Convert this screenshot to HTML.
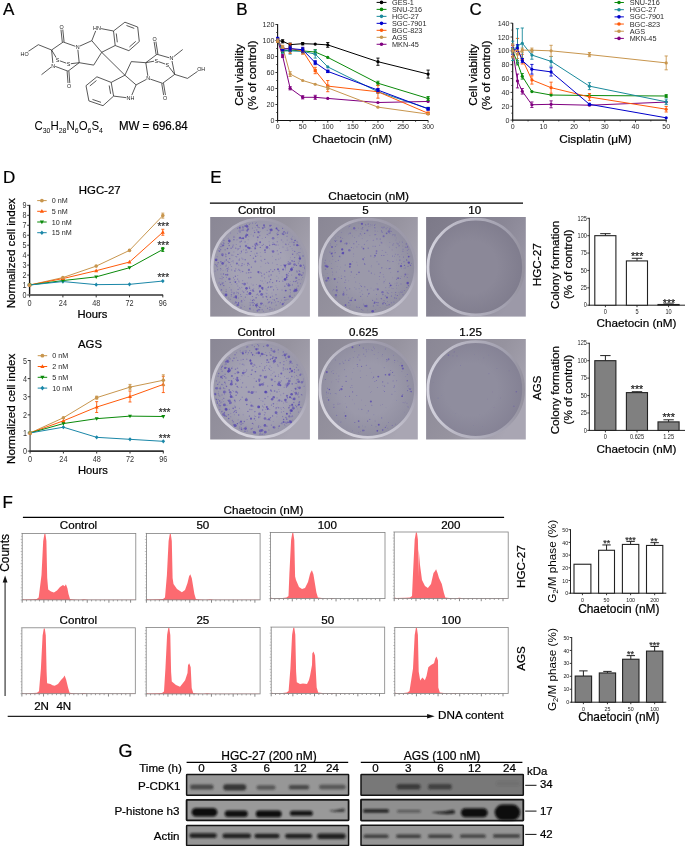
<!DOCTYPE html>
<html><head><meta charset="utf-8"><style>
html,body{margin:0;padding:0;background:#fff;}
svg{display:block;will-change:transform;}
</style></head><body>
<svg width="685" height="846" viewBox="0 0 685 846" font-family='"Liberation Sans", sans-serif'>
<rect width="685" height="846" fill="#fff"/>
<text x="3.00" y="15.00" font-size="17" text-anchor="start" fill="#000" stroke="#000" stroke-width="0.22" >A</text>
<text x="236.20" y="15.00" font-size="17" text-anchor="start" fill="#000" stroke="#000" stroke-width="0.22" >B</text>
<text x="469.50" y="14.50" font-size="17" text-anchor="start" fill="#000" stroke="#000" stroke-width="0.22" >C</text>
<text x="3.00" y="182.60" font-size="17" text-anchor="start" fill="#000" stroke="#000" stroke-width="0.22" >D</text>
<text x="210.30" y="182.80" font-size="17" text-anchor="start" fill="#000" stroke="#000" stroke-width="0.22" >E</text>
<text x="2.50" y="508.00" font-size="17" text-anchor="start" fill="#000" stroke="#000" stroke-width="0.22" >F</text>
<text x="118.60" y="756.80" font-size="18" text-anchor="start" fill="#000" stroke="#000" stroke-width="0.22" >G</text>
<line x1="27.51" y1="51.95" x2="38.30" y2="44.70" stroke="#222" stroke-width="0.75" />
<line x1="38.30" y1="44.70" x2="51.60" y2="50.00" stroke="#222" stroke-width="0.75" />
<line x1="51.60" y1="50.00" x2="63.20" y2="42.00" stroke="#222" stroke-width="0.75" />
<line x1="63.20" y1="42.00" x2="75.71" y2="46.43" stroke="#222" stroke-width="0.75" />
<line x1="79.42" y1="46.28" x2="91.80" y2="40.70" stroke="#222" stroke-width="0.75" />
<line x1="91.80" y1="40.70" x2="95.72" y2="30.78" stroke="#222" stroke-width="0.75" />
<line x1="100.04" y1="28.41" x2="113.50" y2="31.00" stroke="#222" stroke-width="0.75" />
<line x1="115.20" y1="45.50" x2="101.70" y2="52.30" stroke="#222" stroke-width="0.75" />
<line x1="101.70" y1="52.30" x2="91.80" y2="40.70" stroke="#222" stroke-width="0.75" />
<line x1="101.70" y1="52.30" x2="93.70" y2="65.10" stroke="#222" stroke-width="0.75" />
<line x1="93.70" y1="65.10" x2="79.20" y2="62.70" stroke="#222" stroke-width="0.75" />
<line x1="79.20" y1="62.70" x2="77.80" y2="49.09" stroke="#222" stroke-width="0.75" />
<line x1="79.20" y1="62.70" x2="70.49" y2="63.76" stroke="#222" stroke-width="0.75" />
<line x1="66.62" y1="63.31" x2="59.48" y2="60.69" stroke="#222" stroke-width="0.75" />
<line x1="56.57" y1="58.29" x2="51.60" y2="50.00" stroke="#222" stroke-width="0.75" />
<line x1="51.60" y1="50.00" x2="52.91" y2="63.61" stroke="#222" stroke-width="0.75" />
<line x1="51.53" y1="66.83" x2="41.50" y2="74.70" stroke="#222" stroke-width="0.75" />
<line x1="54.97" y1="66.30" x2="68.00" y2="71.20" stroke="#222" stroke-width="0.75" />
<line x1="68.00" y1="71.20" x2="79.20" y2="62.70" stroke="#222" stroke-width="0.75" />
<line x1="101.70" y1="52.30" x2="124.90" y2="75.20" stroke="#222" stroke-width="0.75" />
<line x1="113.50" y1="31.00" x2="124.90" y2="22.20" stroke="#222" stroke-width="0.75" />
<line x1="124.90" y1="22.20" x2="137.70" y2="27.00" stroke="#222" stroke-width="0.75" />
<line x1="137.70" y1="27.00" x2="139.30" y2="41.50" stroke="#222" stroke-width="0.75" />
<line x1="139.30" y1="41.50" x2="128.90" y2="50.70" stroke="#222" stroke-width="0.75" />
<line x1="128.90" y1="50.70" x2="115.20" y2="45.50" stroke="#222" stroke-width="0.75" />
<line x1="115.20" y1="45.50" x2="113.50" y2="31.00" stroke="#222" stroke-width="0.75" />
<line x1="124.90" y1="75.20" x2="131.30" y2="61.60" stroke="#222" stroke-width="0.75" />
<line x1="131.30" y1="61.60" x2="145.80" y2="62.70" stroke="#222" stroke-width="0.75" />
<line x1="145.80" y1="62.70" x2="147.90" y2="76.42" stroke="#222" stroke-width="0.75" />
<line x1="146.44" y1="79.35" x2="136.10" y2="84.90" stroke="#222" stroke-width="0.75" />
<line x1="136.10" y1="84.90" x2="124.90" y2="75.20" stroke="#222" stroke-width="0.75" />
<line x1="136.10" y1="84.90" x2="131.74" y2="95.25" stroke="#222" stroke-width="0.75" />
<line x1="127.32" y1="97.81" x2="113.60" y2="96.10" stroke="#222" stroke-width="0.75" />
<line x1="111.20" y1="82.40" x2="124.90" y2="75.20" stroke="#222" stroke-width="0.75" />
<line x1="113.60" y1="96.10" x2="111.20" y2="82.40" stroke="#222" stroke-width="0.75" />
<line x1="111.20" y1="82.40" x2="96.90" y2="76.80" stroke="#222" stroke-width="0.75" />
<line x1="96.90" y1="76.80" x2="86.00" y2="85.70" stroke="#222" stroke-width="0.75" />
<line x1="86.00" y1="85.70" x2="88.90" y2="100.90" stroke="#222" stroke-width="0.75" />
<line x1="88.90" y1="100.90" x2="103.00" y2="105.70" stroke="#222" stroke-width="0.75" />
<line x1="103.00" y1="105.70" x2="113.60" y2="96.10" stroke="#222" stroke-width="0.75" />
<line x1="150.09" y1="79.04" x2="162.60" y2="83.30" stroke="#222" stroke-width="0.75" />
<line x1="162.60" y1="83.30" x2="174.70" y2="74.40" stroke="#222" stroke-width="0.75" />
<line x1="174.70" y1="74.40" x2="187.50" y2="78.40" stroke="#222" stroke-width="0.75" />
<line x1="187.50" y1="78.40" x2="198.33" y2="70.81" stroke="#222" stroke-width="0.75" />
<line x1="174.70" y1="74.40" x2="171.89" y2="60.36" stroke="#222" stroke-width="0.75" />
<line x1="173.07" y1="57.16" x2="182.70" y2="49.50" stroke="#222" stroke-width="0.75" />
<line x1="169.58" y1="57.86" x2="157.00" y2="54.30" stroke="#222" stroke-width="0.75" />
<line x1="157.00" y1="54.30" x2="145.80" y2="62.70" stroke="#222" stroke-width="0.75" />
<line x1="145.80" y1="62.70" x2="154.23" y2="61.16" stroke="#222" stroke-width="0.75" />
<line x1="158.08" y1="61.47" x2="165.52" y2="64.13" stroke="#222" stroke-width="0.75" />
<line x1="168.61" y1="66.39" x2="174.70" y2="74.40" stroke="#222" stroke-width="0.75" />
<line x1="64.09" y1="41.90" x2="62.71" y2="28.89" stroke="#222" stroke-width="0.75" />
<line x1="62.31" y1="42.10" x2="60.92" y2="29.08" stroke="#222" stroke-width="0.75" />
<line x1="67.10" y1="71.27" x2="68.05" y2="83.77" stroke="#222" stroke-width="0.75" />
<line x1="68.90" y1="71.13" x2="69.85" y2="83.64" stroke="#222" stroke-width="0.75" />
<line x1="161.71" y1="83.45" x2="163.78" y2="95.88" stroke="#222" stroke-width="0.75" />
<line x1="163.49" y1="83.15" x2="165.56" y2="95.58" stroke="#222" stroke-width="0.75" />
<line x1="157.89" y1="54.16" x2="155.80" y2="40.94" stroke="#222" stroke-width="0.75" />
<line x1="156.11" y1="54.44" x2="154.02" y2="41.22" stroke="#222" stroke-width="0.75" />
<line x1="116.28" y1="33.46" x2="117.31" y2="42.27" stroke="#222" stroke-width="0.75" />
<line x1="126.47" y1="25.48" x2="134.25" y2="28.40" stroke="#222" stroke-width="0.75" />
<line x1="135.76" y1="41.35" x2="129.44" y2="46.94" stroke="#222" stroke-width="0.75" />
<line x1="110.64" y1="93.82" x2="109.18" y2="85.49" stroke="#222" stroke-width="0.75" />
<line x1="96.46" y1="80.55" x2="89.83" y2="85.96" stroke="#222" stroke-width="0.75" />
<line x1="92.46" y1="99.43" x2="101.03" y2="102.35" stroke="#222" stroke-width="0.75" />
<rect x="59.50" y="24.40" width="4.20" height="5.2" fill="#fff"/>
<text x="61.60" y="29.00" font-size="5.4" text-anchor="middle" fill="#222" >O</text>
<rect x="75.50" y="44.50" width="4.20" height="5.2" fill="#fff"/>
<text x="77.60" y="49.10" font-size="5.4" text-anchor="middle" fill="#222" >N</text>
<rect x="92.70" y="25.20" width="8.40" height="5.2" fill="#fff"/>
<text x="96.90" y="29.80" font-size="5.4" text-anchor="middle" fill="#222" >HN</text>
<rect x="20.40" y="51.30" width="8.40" height="5.2" fill="#fff"/>
<text x="24.60" y="55.90" font-size="5.4" text-anchor="middle" fill="#222" >HO</text>
<rect x="55.50" y="57.40" width="4.20" height="5.2" fill="#fff"/>
<text x="57.60" y="62.00" font-size="5.4" text-anchor="middle" fill="#222" >S</text>
<rect x="66.40" y="61.40" width="4.20" height="5.2" fill="#fff"/>
<text x="68.50" y="66.00" font-size="5.4" text-anchor="middle" fill="#222" >S</text>
<rect x="51.00" y="63.00" width="4.20" height="5.2" fill="#fff"/>
<text x="53.10" y="67.60" font-size="5.4" text-anchor="middle" fill="#222" >N</text>
<rect x="67.00" y="83.10" width="4.20" height="5.2" fill="#fff"/>
<text x="69.10" y="87.70" font-size="5.4" text-anchor="middle" fill="#222" >O</text>
<rect x="146.10" y="75.80" width="4.20" height="5.2" fill="#fff"/>
<text x="148.20" y="80.40" font-size="5.4" text-anchor="middle" fill="#222" >N</text>
<rect x="126.30" y="95.60" width="8.40" height="5.2" fill="#fff"/>
<text x="130.50" y="100.20" font-size="5.4" text-anchor="middle" fill="#222" >NH</text>
<rect x="162.90" y="95.10" width="4.20" height="5.2" fill="#fff"/>
<text x="165.00" y="99.70" font-size="5.4" text-anchor="middle" fill="#222" >O</text>
<rect x="197.00" y="66.20" width="8.40" height="5.2" fill="#fff"/>
<text x="201.20" y="70.80" font-size="5.4" text-anchor="middle" fill="#222" >OH</text>
<rect x="169.40" y="55.80" width="4.20" height="5.2" fill="#fff"/>
<text x="171.50" y="60.40" font-size="5.4" text-anchor="middle" fill="#222" >N</text>
<rect x="152.50" y="36.50" width="4.20" height="5.2" fill="#fff"/>
<text x="154.60" y="41.10" font-size="5.4" text-anchor="middle" fill="#222" >O</text>
<rect x="154.10" y="58.20" width="4.20" height="5.2" fill="#fff"/>
<text x="156.20" y="62.80" font-size="5.4" text-anchor="middle" fill="#222" >S</text>
<rect x="165.30" y="62.20" width="4.20" height="5.2" fill="#fff"/>
<text x="167.40" y="66.80" font-size="5.4" text-anchor="middle" fill="#222" >S</text>
<text x="34.5" y="130.4" font-size="12.4" fill="#000" textLength="68.4" lengthAdjust="spacingAndGlyphs">C<tspan font-size="7.5" dy="2.6">30</tspan><tspan dy="-2.6">H</tspan><tspan font-size="7.5" dy="2.6">28</tspan><tspan dy="-2.6">N</tspan><tspan font-size="7.5" dy="2.6">6</tspan><tspan dy="-2.6">O</tspan><tspan font-size="7.5" dy="2.6">6</tspan><tspan dy="-2.6">S</tspan><tspan font-size="7.5" dy="2.6">4</tspan></text>
<text x="119.00" y="130.40" font-size="12.6" text-anchor="start" fill="#000" stroke="#000" stroke-width="0.22" textLength="68.7" lengthAdjust="spacingAndGlyphs">MW = 696.84</text>
<line x1="277.60" y1="24.00" x2="277.60" y2="121.00" stroke="#111" stroke-width="1.1" />
<line x1="277.10" y1="120.50" x2="428.20" y2="120.50" stroke="#111" stroke-width="1.1" />
<line x1="275.40" y1="120.50" x2="277.60" y2="120.50" stroke="#222" stroke-width="0.9" />
<text x="274.40" y="123.06" font-size="7.1" text-anchor="end" fill="#2a2a2a" >0</text>
<line x1="275.40" y1="104.50" x2="277.60" y2="104.50" stroke="#222" stroke-width="0.9" />
<text x="274.40" y="107.06" font-size="7.1" text-anchor="end" fill="#2a2a2a" >20</text>
<line x1="275.40" y1="88.50" x2="277.60" y2="88.50" stroke="#222" stroke-width="0.9" />
<text x="274.40" y="91.06" font-size="7.1" text-anchor="end" fill="#2a2a2a" >40</text>
<line x1="275.40" y1="72.50" x2="277.60" y2="72.50" stroke="#222" stroke-width="0.9" />
<text x="274.40" y="75.06" font-size="7.1" text-anchor="end" fill="#2a2a2a" >60</text>
<line x1="275.40" y1="56.50" x2="277.60" y2="56.50" stroke="#222" stroke-width="0.9" />
<text x="274.40" y="59.06" font-size="7.1" text-anchor="end" fill="#2a2a2a" >80</text>
<line x1="275.40" y1="40.50" x2="277.60" y2="40.50" stroke="#222" stroke-width="0.9" />
<text x="274.40" y="43.06" font-size="7.1" text-anchor="end" fill="#2a2a2a" >100</text>
<line x1="275.40" y1="24.50" x2="277.60" y2="24.50" stroke="#222" stroke-width="0.9" />
<text x="274.40" y="27.06" font-size="7.1" text-anchor="end" fill="#2a2a2a" >120</text>
<line x1="276.30" y1="112.50" x2="277.60" y2="112.50" stroke="#222" stroke-width="0.9" />
<line x1="276.30" y1="96.50" x2="277.60" y2="96.50" stroke="#222" stroke-width="0.9" />
<line x1="276.30" y1="80.50" x2="277.60" y2="80.50" stroke="#222" stroke-width="0.9" />
<line x1="276.30" y1="64.50" x2="277.60" y2="64.50" stroke="#222" stroke-width="0.9" />
<line x1="276.30" y1="48.50" x2="277.60" y2="48.50" stroke="#222" stroke-width="0.9" />
<line x1="276.30" y1="32.50" x2="277.60" y2="32.50" stroke="#222" stroke-width="0.9" />
<line x1="277.60" y1="120.50" x2="277.60" y2="122.70" stroke="#222" stroke-width="0.9" />
<text x="277.60" y="129.30" font-size="7.0" text-anchor="middle" fill="#2a2a2a" >0</text>
<line x1="302.69" y1="120.50" x2="302.69" y2="122.70" stroke="#222" stroke-width="0.9" />
<text x="302.69" y="129.30" font-size="7.0" text-anchor="middle" fill="#2a2a2a" >50</text>
<line x1="327.77" y1="120.50" x2="327.77" y2="122.70" stroke="#222" stroke-width="0.9" />
<text x="327.77" y="129.30" font-size="7.0" text-anchor="middle" fill="#2a2a2a" >100</text>
<line x1="352.86" y1="120.50" x2="352.86" y2="122.70" stroke="#222" stroke-width="0.9" />
<text x="352.86" y="129.30" font-size="7.0" text-anchor="middle" fill="#2a2a2a" >150</text>
<line x1="377.94" y1="120.50" x2="377.94" y2="122.70" stroke="#222" stroke-width="0.9" />
<text x="377.94" y="129.30" font-size="7.0" text-anchor="middle" fill="#2a2a2a" >200</text>
<line x1="403.03" y1="120.50" x2="403.03" y2="122.70" stroke="#222" stroke-width="0.9" />
<text x="403.03" y="129.30" font-size="7.0" text-anchor="middle" fill="#2a2a2a" >250</text>
<line x1="428.11" y1="120.50" x2="428.11" y2="122.70" stroke="#222" stroke-width="0.9" />
<text x="428.11" y="129.30" font-size="7.0" text-anchor="middle" fill="#2a2a2a" >300</text>
<line x1="290.14" y1="120.50" x2="290.14" y2="121.80" stroke="#222" stroke-width="0.9" />
<line x1="315.23" y1="120.50" x2="315.23" y2="121.80" stroke="#222" stroke-width="0.9" />
<line x1="340.31" y1="120.50" x2="340.31" y2="121.80" stroke="#222" stroke-width="0.9" />
<line x1="365.40" y1="120.50" x2="365.40" y2="121.80" stroke="#222" stroke-width="0.9" />
<line x1="390.48" y1="120.50" x2="390.48" y2="121.80" stroke="#222" stroke-width="0.9" />
<line x1="415.57" y1="120.50" x2="415.57" y2="121.80" stroke="#222" stroke-width="0.9" />
<text x="352.30" y="143.00" font-size="11.7" text-anchor="middle" fill="#000" stroke="#000" stroke-width="0.22" >Chaetocin (nM)</text>
<text transform="translate(243.00,75.00) rotate(-90)" font-size="11.7" text-anchor="middle" fill="#000" stroke="#000" stroke-width="0.22">Cell viability</text>
<text transform="translate(256.00,75.40) rotate(-90)" font-size="11.7" text-anchor="middle" fill="#000" stroke="#000" stroke-width="0.22">(% of control)</text>
<polyline points="277.60,40.50 282.62,41.30 290.14,44.66 302.69,43.70 315.23,44.10 327.77,44.90 377.94,61.70 428.11,74.10" stroke="#000000" stroke-width="1.0" fill="none" />
<polyline points="277.60,40.50 282.62,55.94 290.14,88.26 302.69,97.30 315.23,97.30 327.77,98.42 377.94,102.50 428.11,101.46" stroke="#800080" stroke-width="1.0" fill="none" />
<polyline points="277.60,40.50 282.62,50.90 290.14,50.10 302.69,50.90 315.23,52.02 327.77,57.38 377.94,83.22 428.11,98.50" stroke="#0a8a0a" stroke-width="1.0" fill="none" />
<polyline points="277.60,40.50 282.62,50.90 290.14,50.90 302.69,51.38 315.23,54.10 327.77,66.90 377.94,91.78 428.11,108.50" stroke="#1a8a9c" stroke-width="1.0" fill="none" />
<polyline points="277.60,40.50 282.62,48.50 290.14,48.50 302.69,50.90 315.23,70.50 327.77,86.10 377.94,91.78 428.11,113.30" stroke="#ff5a0a" stroke-width="1.0" fill="none" />
<polyline points="277.60,38.90 282.62,49.30 290.14,48.58 302.69,49.70 315.23,62.66 327.77,71.38 377.94,90.10 428.11,108.90" stroke="#0000cc" stroke-width="1.0" fill="none" />
<polyline points="277.60,40.50 282.62,46.90 290.14,74.10 302.69,80.50 315.23,84.26 327.77,87.86 377.94,107.14 428.11,114.10" stroke="#c8964e" stroke-width="1.0" fill="none" />
<circle cx="277.60" cy="40.50" r="1.6" fill="#000000"/>
<line x1="282.62" y1="42.90" x2="282.62" y2="39.70" stroke="#000000" stroke-width="0.9" />
<line x1="281.02" y1="42.90" x2="284.22" y2="42.90" stroke="#000000" stroke-width="0.9" />
<line x1="281.02" y1="39.70" x2="284.22" y2="39.70" stroke="#000000" stroke-width="0.9" />
<circle cx="282.62" cy="41.30" r="1.6" fill="#000000"/>
<line x1="290.14" y1="46.26" x2="290.14" y2="43.06" stroke="#000000" stroke-width="0.9" />
<line x1="288.54" y1="46.26" x2="291.74" y2="46.26" stroke="#000000" stroke-width="0.9" />
<line x1="288.54" y1="43.06" x2="291.74" y2="43.06" stroke="#000000" stroke-width="0.9" />
<circle cx="290.14" cy="44.66" r="1.6" fill="#000000"/>
<line x1="302.69" y1="44.90" x2="302.69" y2="42.50" stroke="#000000" stroke-width="0.9" />
<line x1="301.08" y1="44.90" x2="304.29" y2="44.90" stroke="#000000" stroke-width="0.9" />
<line x1="301.08" y1="42.50" x2="304.29" y2="42.50" stroke="#000000" stroke-width="0.9" />
<circle cx="302.69" cy="43.70" r="1.6" fill="#000000"/>
<circle cx="315.23" cy="44.10" r="1.6" fill="#000000"/>
<line x1="327.77" y1="47.30" x2="327.77" y2="42.50" stroke="#000000" stroke-width="0.9" />
<line x1="326.17" y1="47.30" x2="329.37" y2="47.30" stroke="#000000" stroke-width="0.9" />
<line x1="326.17" y1="42.50" x2="329.37" y2="42.50" stroke="#000000" stroke-width="0.9" />
<circle cx="327.77" cy="44.90" r="1.6" fill="#000000"/>
<line x1="377.94" y1="65.30" x2="377.94" y2="58.10" stroke="#000000" stroke-width="0.9" />
<line x1="376.34" y1="65.30" x2="379.54" y2="65.30" stroke="#000000" stroke-width="0.9" />
<line x1="376.34" y1="58.10" x2="379.54" y2="58.10" stroke="#000000" stroke-width="0.9" />
<circle cx="377.94" cy="61.70" r="1.6" fill="#000000"/>
<line x1="428.11" y1="78.10" x2="428.11" y2="70.10" stroke="#000000" stroke-width="0.9" />
<line x1="426.51" y1="78.10" x2="429.71" y2="78.10" stroke="#000000" stroke-width="0.9" />
<line x1="426.51" y1="70.10" x2="429.71" y2="70.10" stroke="#000000" stroke-width="0.9" />
<circle cx="428.11" cy="74.10" r="1.6" fill="#000000"/>
<line x1="277.60" y1="42.10" x2="277.60" y2="38.90" stroke="#800080" stroke-width="0.9" />
<line x1="276.00" y1="42.10" x2="279.20" y2="42.10" stroke="#800080" stroke-width="0.9" />
<line x1="276.00" y1="38.90" x2="279.20" y2="38.90" stroke="#800080" stroke-width="0.9" />
<circle cx="277.60" cy="40.50" r="1.6" fill="#800080"/>
<line x1="282.62" y1="57.54" x2="282.62" y2="54.34" stroke="#800080" stroke-width="0.9" />
<line x1="281.02" y1="57.54" x2="284.22" y2="57.54" stroke="#800080" stroke-width="0.9" />
<line x1="281.02" y1="54.34" x2="284.22" y2="54.34" stroke="#800080" stroke-width="0.9" />
<circle cx="282.62" cy="55.94" r="1.6" fill="#800080"/>
<line x1="290.14" y1="89.86" x2="290.14" y2="86.66" stroke="#800080" stroke-width="0.9" />
<line x1="288.54" y1="89.86" x2="291.74" y2="89.86" stroke="#800080" stroke-width="0.9" />
<line x1="288.54" y1="86.66" x2="291.74" y2="86.66" stroke="#800080" stroke-width="0.9" />
<circle cx="290.14" cy="88.26" r="1.6" fill="#800080"/>
<line x1="302.69" y1="98.90" x2="302.69" y2="95.70" stroke="#800080" stroke-width="0.9" />
<line x1="301.08" y1="98.90" x2="304.29" y2="98.90" stroke="#800080" stroke-width="0.9" />
<line x1="301.08" y1="95.70" x2="304.29" y2="95.70" stroke="#800080" stroke-width="0.9" />
<circle cx="302.69" cy="97.30" r="1.6" fill="#800080"/>
<line x1="315.23" y1="99.30" x2="315.23" y2="95.30" stroke="#800080" stroke-width="0.9" />
<line x1="313.63" y1="99.30" x2="316.83" y2="99.30" stroke="#800080" stroke-width="0.9" />
<line x1="313.63" y1="95.30" x2="316.83" y2="95.30" stroke="#800080" stroke-width="0.9" />
<circle cx="315.23" cy="97.30" r="1.6" fill="#800080"/>
<circle cx="327.77" cy="98.42" r="1.6" fill="#800080"/>
<circle cx="377.94" cy="102.50" r="1.6" fill="#800080"/>
<circle cx="428.11" cy="101.46" r="1.6" fill="#800080"/>
<line x1="277.60" y1="42.10" x2="277.60" y2="38.90" stroke="#0a8a0a" stroke-width="0.9" />
<line x1="276.00" y1="42.10" x2="279.20" y2="42.10" stroke="#0a8a0a" stroke-width="0.9" />
<line x1="276.00" y1="38.90" x2="279.20" y2="38.90" stroke="#0a8a0a" stroke-width="0.9" />
<circle cx="277.60" cy="40.50" r="1.6" fill="#0a8a0a"/>
<line x1="282.62" y1="52.50" x2="282.62" y2="49.30" stroke="#0a8a0a" stroke-width="0.9" />
<line x1="281.02" y1="52.50" x2="284.22" y2="52.50" stroke="#0a8a0a" stroke-width="0.9" />
<line x1="281.02" y1="49.30" x2="284.22" y2="49.30" stroke="#0a8a0a" stroke-width="0.9" />
<circle cx="282.62" cy="50.90" r="1.6" fill="#0a8a0a"/>
<line x1="290.14" y1="51.70" x2="290.14" y2="48.50" stroke="#0a8a0a" stroke-width="0.9" />
<line x1="288.54" y1="51.70" x2="291.74" y2="51.70" stroke="#0a8a0a" stroke-width="0.9" />
<line x1="288.54" y1="48.50" x2="291.74" y2="48.50" stroke="#0a8a0a" stroke-width="0.9" />
<circle cx="290.14" cy="50.10" r="1.6" fill="#0a8a0a"/>
<line x1="302.69" y1="52.50" x2="302.69" y2="49.30" stroke="#0a8a0a" stroke-width="0.9" />
<line x1="301.08" y1="52.50" x2="304.29" y2="52.50" stroke="#0a8a0a" stroke-width="0.9" />
<line x1="301.08" y1="49.30" x2="304.29" y2="49.30" stroke="#0a8a0a" stroke-width="0.9" />
<circle cx="302.69" cy="50.90" r="1.6" fill="#0a8a0a"/>
<line x1="315.23" y1="54.42" x2="315.23" y2="49.62" stroke="#0a8a0a" stroke-width="0.9" />
<line x1="313.63" y1="54.42" x2="316.83" y2="54.42" stroke="#0a8a0a" stroke-width="0.9" />
<line x1="313.63" y1="49.62" x2="316.83" y2="49.62" stroke="#0a8a0a" stroke-width="0.9" />
<circle cx="315.23" cy="52.02" r="1.6" fill="#0a8a0a"/>
<circle cx="327.77" cy="57.38" r="1.6" fill="#0a8a0a"/>
<line x1="377.94" y1="85.22" x2="377.94" y2="81.22" stroke="#0a8a0a" stroke-width="0.9" />
<line x1="376.34" y1="85.22" x2="379.54" y2="85.22" stroke="#0a8a0a" stroke-width="0.9" />
<line x1="376.34" y1="81.22" x2="379.54" y2="81.22" stroke="#0a8a0a" stroke-width="0.9" />
<circle cx="377.94" cy="83.22" r="1.6" fill="#0a8a0a"/>
<line x1="428.11" y1="100.50" x2="428.11" y2="96.50" stroke="#0a8a0a" stroke-width="0.9" />
<line x1="426.51" y1="100.50" x2="429.71" y2="100.50" stroke="#0a8a0a" stroke-width="0.9" />
<line x1="426.51" y1="96.50" x2="429.71" y2="96.50" stroke="#0a8a0a" stroke-width="0.9" />
<circle cx="428.11" cy="98.50" r="1.6" fill="#0a8a0a"/>
<line x1="277.60" y1="42.10" x2="277.60" y2="38.90" stroke="#1a8a9c" stroke-width="0.9" />
<line x1="276.00" y1="42.10" x2="279.20" y2="42.10" stroke="#1a8a9c" stroke-width="0.9" />
<line x1="276.00" y1="38.90" x2="279.20" y2="38.90" stroke="#1a8a9c" stroke-width="0.9" />
<circle cx="277.60" cy="40.50" r="1.6" fill="#1a8a9c"/>
<line x1="282.62" y1="53.30" x2="282.62" y2="48.50" stroke="#1a8a9c" stroke-width="0.9" />
<line x1="281.02" y1="53.30" x2="284.22" y2="53.30" stroke="#1a8a9c" stroke-width="0.9" />
<line x1="281.02" y1="48.50" x2="284.22" y2="48.50" stroke="#1a8a9c" stroke-width="0.9" />
<circle cx="282.62" cy="50.90" r="1.6" fill="#1a8a9c"/>
<line x1="290.14" y1="54.10" x2="290.14" y2="47.70" stroke="#1a8a9c" stroke-width="0.9" />
<line x1="288.54" y1="54.10" x2="291.74" y2="54.10" stroke="#1a8a9c" stroke-width="0.9" />
<line x1="288.54" y1="47.70" x2="291.74" y2="47.70" stroke="#1a8a9c" stroke-width="0.9" />
<circle cx="290.14" cy="50.90" r="1.6" fill="#1a8a9c"/>
<line x1="302.69" y1="53.78" x2="302.69" y2="48.98" stroke="#1a8a9c" stroke-width="0.9" />
<line x1="301.08" y1="53.78" x2="304.29" y2="53.78" stroke="#1a8a9c" stroke-width="0.9" />
<line x1="301.08" y1="48.98" x2="304.29" y2="48.98" stroke="#1a8a9c" stroke-width="0.9" />
<circle cx="302.69" cy="51.38" r="1.6" fill="#1a8a9c"/>
<line x1="315.23" y1="58.10" x2="315.23" y2="50.10" stroke="#1a8a9c" stroke-width="0.9" />
<line x1="313.63" y1="58.10" x2="316.83" y2="58.10" stroke="#1a8a9c" stroke-width="0.9" />
<line x1="313.63" y1="50.10" x2="316.83" y2="50.10" stroke="#1a8a9c" stroke-width="0.9" />
<circle cx="315.23" cy="54.10" r="1.6" fill="#1a8a9c"/>
<circle cx="327.77" cy="66.90" r="1.6" fill="#1a8a9c"/>
<line x1="377.94" y1="93.38" x2="377.94" y2="90.18" stroke="#1a8a9c" stroke-width="0.9" />
<line x1="376.34" y1="93.38" x2="379.54" y2="93.38" stroke="#1a8a9c" stroke-width="0.9" />
<line x1="376.34" y1="90.18" x2="379.54" y2="90.18" stroke="#1a8a9c" stroke-width="0.9" />
<circle cx="377.94" cy="91.78" r="1.6" fill="#1a8a9c"/>
<line x1="428.11" y1="109.70" x2="428.11" y2="107.30" stroke="#1a8a9c" stroke-width="0.9" />
<line x1="426.51" y1="109.70" x2="429.71" y2="109.70" stroke="#1a8a9c" stroke-width="0.9" />
<line x1="426.51" y1="107.30" x2="429.71" y2="107.30" stroke="#1a8a9c" stroke-width="0.9" />
<circle cx="428.11" cy="108.50" r="1.6" fill="#1a8a9c"/>
<line x1="277.60" y1="42.10" x2="277.60" y2="38.90" stroke="#ff5a0a" stroke-width="0.9" />
<line x1="276.00" y1="42.10" x2="279.20" y2="42.10" stroke="#ff5a0a" stroke-width="0.9" />
<line x1="276.00" y1="38.90" x2="279.20" y2="38.90" stroke="#ff5a0a" stroke-width="0.9" />
<rect x="276.00" y="38.90" width="3.2" height="3.2" fill="#ff5a0a"/>
<line x1="282.62" y1="50.90" x2="282.62" y2="46.10" stroke="#ff5a0a" stroke-width="0.9" />
<line x1="281.02" y1="50.90" x2="284.22" y2="50.90" stroke="#ff5a0a" stroke-width="0.9" />
<line x1="281.02" y1="46.10" x2="284.22" y2="46.10" stroke="#ff5a0a" stroke-width="0.9" />
<rect x="281.02" y="46.90" width="3.2" height="3.2" fill="#ff5a0a"/>
<line x1="290.14" y1="53.30" x2="290.14" y2="43.70" stroke="#ff5a0a" stroke-width="0.9" />
<line x1="288.54" y1="53.30" x2="291.74" y2="53.30" stroke="#ff5a0a" stroke-width="0.9" />
<line x1="288.54" y1="43.70" x2="291.74" y2="43.70" stroke="#ff5a0a" stroke-width="0.9" />
<rect x="288.54" y="46.90" width="3.2" height="3.2" fill="#ff5a0a"/>
<line x1="302.69" y1="54.10" x2="302.69" y2="47.70" stroke="#ff5a0a" stroke-width="0.9" />
<line x1="301.08" y1="54.10" x2="304.29" y2="54.10" stroke="#ff5a0a" stroke-width="0.9" />
<line x1="301.08" y1="47.70" x2="304.29" y2="47.70" stroke="#ff5a0a" stroke-width="0.9" />
<rect x="301.08" y="49.30" width="3.2" height="3.2" fill="#ff5a0a"/>
<line x1="315.23" y1="73.70" x2="315.23" y2="67.30" stroke="#ff5a0a" stroke-width="0.9" />
<line x1="313.63" y1="73.70" x2="316.83" y2="73.70" stroke="#ff5a0a" stroke-width="0.9" />
<line x1="313.63" y1="67.30" x2="316.83" y2="67.30" stroke="#ff5a0a" stroke-width="0.9" />
<rect x="313.63" y="68.90" width="3.2" height="3.2" fill="#ff5a0a"/>
<line x1="327.77" y1="91.70" x2="327.77" y2="80.50" stroke="#ff5a0a" stroke-width="0.9" />
<line x1="326.17" y1="91.70" x2="329.37" y2="91.70" stroke="#ff5a0a" stroke-width="0.9" />
<line x1="326.17" y1="80.50" x2="329.37" y2="80.50" stroke="#ff5a0a" stroke-width="0.9" />
<rect x="326.17" y="84.50" width="3.2" height="3.2" fill="#ff5a0a"/>
<line x1="377.94" y1="98.18" x2="377.94" y2="85.38" stroke="#ff5a0a" stroke-width="0.9" />
<line x1="376.34" y1="98.18" x2="379.54" y2="98.18" stroke="#ff5a0a" stroke-width="0.9" />
<line x1="376.34" y1="85.38" x2="379.54" y2="85.38" stroke="#ff5a0a" stroke-width="0.9" />
<rect x="376.34" y="90.18" width="3.2" height="3.2" fill="#ff5a0a"/>
<line x1="428.11" y1="114.50" x2="428.11" y2="112.10" stroke="#ff5a0a" stroke-width="0.9" />
<line x1="426.51" y1="114.50" x2="429.71" y2="114.50" stroke="#ff5a0a" stroke-width="0.9" />
<line x1="426.51" y1="112.10" x2="429.71" y2="112.10" stroke="#ff5a0a" stroke-width="0.9" />
<rect x="426.51" y="111.70" width="3.2" height="3.2" fill="#ff5a0a"/>
<line x1="277.60" y1="40.50" x2="277.60" y2="37.30" stroke="#0000cc" stroke-width="0.9" />
<line x1="276.00" y1="40.50" x2="279.20" y2="40.50" stroke="#0000cc" stroke-width="0.9" />
<line x1="276.00" y1="37.30" x2="279.20" y2="37.30" stroke="#0000cc" stroke-width="0.9" />
<rect x="276.00" y="37.30" width="3.2" height="3.2" fill="#0000cc"/>
<line x1="282.62" y1="50.90" x2="282.62" y2="47.70" stroke="#0000cc" stroke-width="0.9" />
<line x1="281.02" y1="50.90" x2="284.22" y2="50.90" stroke="#0000cc" stroke-width="0.9" />
<line x1="281.02" y1="47.70" x2="284.22" y2="47.70" stroke="#0000cc" stroke-width="0.9" />
<rect x="281.02" y="47.70" width="3.2" height="3.2" fill="#0000cc"/>
<line x1="290.14" y1="50.98" x2="290.14" y2="46.18" stroke="#0000cc" stroke-width="0.9" />
<line x1="288.54" y1="50.98" x2="291.74" y2="50.98" stroke="#0000cc" stroke-width="0.9" />
<line x1="288.54" y1="46.18" x2="291.74" y2="46.18" stroke="#0000cc" stroke-width="0.9" />
<rect x="288.54" y="46.98" width="3.2" height="3.2" fill="#0000cc"/>
<line x1="302.69" y1="52.10" x2="302.69" y2="47.30" stroke="#0000cc" stroke-width="0.9" />
<line x1="301.08" y1="52.10" x2="304.29" y2="52.10" stroke="#0000cc" stroke-width="0.9" />
<line x1="301.08" y1="47.30" x2="304.29" y2="47.30" stroke="#0000cc" stroke-width="0.9" />
<rect x="301.08" y="48.10" width="3.2" height="3.2" fill="#0000cc"/>
<line x1="315.23" y1="64.66" x2="315.23" y2="60.66" stroke="#0000cc" stroke-width="0.9" />
<line x1="313.63" y1="64.66" x2="316.83" y2="64.66" stroke="#0000cc" stroke-width="0.9" />
<line x1="313.63" y1="60.66" x2="316.83" y2="60.66" stroke="#0000cc" stroke-width="0.9" />
<rect x="313.63" y="61.06" width="3.2" height="3.2" fill="#0000cc"/>
<line x1="327.77" y1="72.58" x2="327.77" y2="70.18" stroke="#0000cc" stroke-width="0.9" />
<line x1="326.17" y1="72.58" x2="329.37" y2="72.58" stroke="#0000cc" stroke-width="0.9" />
<line x1="326.17" y1="70.18" x2="329.37" y2="70.18" stroke="#0000cc" stroke-width="0.9" />
<rect x="326.17" y="69.78" width="3.2" height="3.2" fill="#0000cc"/>
<line x1="377.94" y1="91.70" x2="377.94" y2="88.50" stroke="#0000cc" stroke-width="0.9" />
<line x1="376.34" y1="91.70" x2="379.54" y2="91.70" stroke="#0000cc" stroke-width="0.9" />
<line x1="376.34" y1="88.50" x2="379.54" y2="88.50" stroke="#0000cc" stroke-width="0.9" />
<rect x="376.34" y="88.50" width="3.2" height="3.2" fill="#0000cc"/>
<line x1="428.11" y1="110.10" x2="428.11" y2="107.70" stroke="#0000cc" stroke-width="0.9" />
<line x1="426.51" y1="110.10" x2="429.71" y2="110.10" stroke="#0000cc" stroke-width="0.9" />
<line x1="426.51" y1="107.70" x2="429.71" y2="107.70" stroke="#0000cc" stroke-width="0.9" />
<rect x="426.51" y="107.30" width="3.2" height="3.2" fill="#0000cc"/>
<line x1="277.60" y1="42.10" x2="277.60" y2="38.90" stroke="#c8964e" stroke-width="0.9" />
<line x1="276.00" y1="42.10" x2="279.20" y2="42.10" stroke="#c8964e" stroke-width="0.9" />
<line x1="276.00" y1="38.90" x2="279.20" y2="38.90" stroke="#c8964e" stroke-width="0.9" />
<circle cx="277.60" cy="40.50" r="1.6" fill="#c8964e"/>
<line x1="282.62" y1="48.50" x2="282.62" y2="45.30" stroke="#c8964e" stroke-width="0.9" />
<line x1="281.02" y1="48.50" x2="284.22" y2="48.50" stroke="#c8964e" stroke-width="0.9" />
<line x1="281.02" y1="45.30" x2="284.22" y2="45.30" stroke="#c8964e" stroke-width="0.9" />
<circle cx="282.62" cy="46.90" r="1.6" fill="#c8964e"/>
<line x1="290.14" y1="76.50" x2="290.14" y2="71.70" stroke="#c8964e" stroke-width="0.9" />
<line x1="288.54" y1="76.50" x2="291.74" y2="76.50" stroke="#c8964e" stroke-width="0.9" />
<line x1="288.54" y1="71.70" x2="291.74" y2="71.70" stroke="#c8964e" stroke-width="0.9" />
<circle cx="290.14" cy="74.10" r="1.6" fill="#c8964e"/>
<circle cx="302.69" cy="80.50" r="1.6" fill="#c8964e"/>
<circle cx="315.23" cy="84.26" r="1.6" fill="#c8964e"/>
<line x1="327.77" y1="89.46" x2="327.77" y2="86.26" stroke="#c8964e" stroke-width="0.9" />
<line x1="326.17" y1="89.46" x2="329.37" y2="89.46" stroke="#c8964e" stroke-width="0.9" />
<line x1="326.17" y1="86.26" x2="329.37" y2="86.26" stroke="#c8964e" stroke-width="0.9" />
<circle cx="327.77" cy="87.86" r="1.6" fill="#c8964e"/>
<circle cx="377.94" cy="107.14" r="1.6" fill="#c8964e"/>
<circle cx="428.11" cy="114.10" r="1.6" fill="#c8964e"/>
<line x1="376.60" y1="2.40" x2="386.50" y2="2.40" stroke="#000000" stroke-width="1.0" />
<circle cx="381.50" cy="2.40" r="1.8" fill="#000000"/>
<text x="392.00" y="4.95" font-size="7.3" text-anchor="start" fill="#2a2a2a" >GES-1</text>
<line x1="376.60" y1="9.38" x2="386.50" y2="9.38" stroke="#0a8a0a" stroke-width="1.0" />
<circle cx="381.50" cy="9.38" r="1.8" fill="#0a8a0a"/>
<text x="392.00" y="11.93" font-size="7.3" text-anchor="start" fill="#2a2a2a" >SNU-216</text>
<line x1="376.60" y1="16.36" x2="386.50" y2="16.36" stroke="#1a8a9c" stroke-width="1.0" />
<circle cx="381.50" cy="16.36" r="1.8" fill="#1a8a9c"/>
<text x="392.00" y="18.91" font-size="7.3" text-anchor="start" fill="#2a2a2a" >HGC-27</text>
<line x1="376.60" y1="23.34" x2="386.50" y2="23.34" stroke="#0000cc" stroke-width="1.0" />
<circle cx="381.50" cy="23.34" r="1.8" fill="#0000cc"/>
<text x="392.00" y="25.89" font-size="7.3" text-anchor="start" fill="#2a2a2a" >SGC-7901</text>
<line x1="376.60" y1="30.32" x2="386.50" y2="30.32" stroke="#ff5a0a" stroke-width="1.0" />
<circle cx="381.50" cy="30.32" r="1.8" fill="#ff5a0a"/>
<text x="392.00" y="32.87" font-size="7.3" text-anchor="start" fill="#2a2a2a" >BGC-823</text>
<line x1="376.60" y1="37.30" x2="386.50" y2="37.30" stroke="#c8964e" stroke-width="1.0" />
<circle cx="381.50" cy="37.30" r="1.8" fill="#c8964e"/>
<text x="392.00" y="39.85" font-size="7.3" text-anchor="start" fill="#2a2a2a" >AGS</text>
<line x1="376.60" y1="44.28" x2="386.50" y2="44.28" stroke="#800080" stroke-width="1.0" />
<circle cx="381.50" cy="44.28" r="1.8" fill="#800080"/>
<text x="392.00" y="46.83" font-size="7.3" text-anchor="start" fill="#2a2a2a" >MKN-45</text>
<line x1="512.70" y1="23.00" x2="512.70" y2="120.60" stroke="#111" stroke-width="1.1" />
<line x1="512.20" y1="120.10" x2="666.80" y2="120.10" stroke="#111" stroke-width="1.1" />
<line x1="510.50" y1="120.10" x2="512.70" y2="120.10" stroke="#222" stroke-width="0.9" />
<text x="509.50" y="122.66" font-size="7.1" text-anchor="end" fill="#2a2a2a" >0</text>
<line x1="510.50" y1="106.25" x2="512.70" y2="106.25" stroke="#222" stroke-width="0.9" />
<text x="509.50" y="108.81" font-size="7.1" text-anchor="end" fill="#2a2a2a" >20</text>
<line x1="510.50" y1="92.40" x2="512.70" y2="92.40" stroke="#222" stroke-width="0.9" />
<text x="509.50" y="94.96" font-size="7.1" text-anchor="end" fill="#2a2a2a" >40</text>
<line x1="510.50" y1="78.55" x2="512.70" y2="78.55" stroke="#222" stroke-width="0.9" />
<text x="509.50" y="81.11" font-size="7.1" text-anchor="end" fill="#2a2a2a" >60</text>
<line x1="510.50" y1="64.70" x2="512.70" y2="64.70" stroke="#222" stroke-width="0.9" />
<text x="509.50" y="67.26" font-size="7.1" text-anchor="end" fill="#2a2a2a" >80</text>
<line x1="510.50" y1="50.85" x2="512.70" y2="50.85" stroke="#222" stroke-width="0.9" />
<text x="509.50" y="53.41" font-size="7.1" text-anchor="end" fill="#2a2a2a" >100</text>
<line x1="510.50" y1="37.00" x2="512.70" y2="37.00" stroke="#222" stroke-width="0.9" />
<text x="509.50" y="39.56" font-size="7.1" text-anchor="end" fill="#2a2a2a" >120</text>
<line x1="510.50" y1="23.15" x2="512.70" y2="23.15" stroke="#222" stroke-width="0.9" />
<text x="509.50" y="25.71" font-size="7.1" text-anchor="end" fill="#2a2a2a" >140</text>
<line x1="511.40" y1="113.17" x2="512.70" y2="113.17" stroke="#222" stroke-width="0.9" />
<line x1="511.40" y1="99.32" x2="512.70" y2="99.32" stroke="#222" stroke-width="0.9" />
<line x1="511.40" y1="85.47" x2="512.70" y2="85.47" stroke="#222" stroke-width="0.9" />
<line x1="511.40" y1="71.62" x2="512.70" y2="71.62" stroke="#222" stroke-width="0.9" />
<line x1="511.40" y1="57.77" x2="512.70" y2="57.77" stroke="#222" stroke-width="0.9" />
<line x1="511.40" y1="43.92" x2="512.70" y2="43.92" stroke="#222" stroke-width="0.9" />
<line x1="511.40" y1="30.07" x2="512.70" y2="30.07" stroke="#222" stroke-width="0.9" />
<line x1="512.70" y1="120.10" x2="512.70" y2="122.30" stroke="#222" stroke-width="0.9" />
<text x="512.70" y="128.90" font-size="7.0" text-anchor="middle" fill="#2a2a2a" >0</text>
<line x1="543.40" y1="120.10" x2="543.40" y2="122.30" stroke="#222" stroke-width="0.9" />
<text x="543.40" y="128.90" font-size="7.0" text-anchor="middle" fill="#2a2a2a" >10</text>
<line x1="574.10" y1="120.10" x2="574.10" y2="122.30" stroke="#222" stroke-width="0.9" />
<text x="574.10" y="128.90" font-size="7.0" text-anchor="middle" fill="#2a2a2a" >20</text>
<line x1="604.80" y1="120.10" x2="604.80" y2="122.30" stroke="#222" stroke-width="0.9" />
<text x="604.80" y="128.90" font-size="7.0" text-anchor="middle" fill="#2a2a2a" >30</text>
<line x1="635.50" y1="120.10" x2="635.50" y2="122.30" stroke="#222" stroke-width="0.9" />
<text x="635.50" y="128.90" font-size="7.0" text-anchor="middle" fill="#2a2a2a" >40</text>
<line x1="666.20" y1="120.10" x2="666.20" y2="122.30" stroke="#222" stroke-width="0.9" />
<text x="666.20" y="128.90" font-size="7.0" text-anchor="middle" fill="#2a2a2a" >50</text>
<line x1="528.05" y1="120.10" x2="528.05" y2="121.40" stroke="#222" stroke-width="0.9" />
<line x1="558.75" y1="120.10" x2="558.75" y2="121.40" stroke="#222" stroke-width="0.9" />
<line x1="589.45" y1="120.10" x2="589.45" y2="121.40" stroke="#222" stroke-width="0.9" />
<line x1="620.15" y1="120.10" x2="620.15" y2="121.40" stroke="#222" stroke-width="0.9" />
<line x1="650.85" y1="120.10" x2="650.85" y2="121.40" stroke="#222" stroke-width="0.9" />
<text x="595.50" y="143.00" font-size="11.7" text-anchor="middle" fill="#000" stroke="#000" stroke-width="0.22" >Cisplatin (μM)</text>
<text transform="translate(476.50,75.00) rotate(-90)" font-size="11.7" text-anchor="middle" fill="#000" stroke="#000" stroke-width="0.22">Cell viability</text>
<text transform="translate(489.50,75.40) rotate(-90)" font-size="11.7" text-anchor="middle" fill="#000" stroke="#000" stroke-width="0.22">(% of control)</text>
<polyline points="512.70,50.85 517.50,80.97 522.29,91.29 531.89,104.73 551.08,104.31 589.45,105.21 666.20,102.09" stroke="#800080" stroke-width="1.0" fill="none" />
<polyline points="512.70,50.85 517.50,62.83 522.29,76.33 531.89,91.57 551.08,95.03 589.45,95.52 666.20,96.00" stroke="#0a8a0a" stroke-width="1.0" fill="none" />
<polyline points="512.70,50.85 517.50,50.85 522.29,59.16 531.89,79.94 551.08,87.69 589.45,96.97 666.20,109.23" stroke="#ff5a0a" stroke-width="1.0" fill="none" />
<polyline points="512.70,50.85 517.50,46.00 522.29,43.23 531.89,55.07 551.08,61.38 589.45,86.17 666.20,101.82" stroke="#1a8a9c" stroke-width="1.0" fill="none" />
<polyline points="512.70,50.85 517.50,48.08 522.29,60.54 531.89,69.27 551.08,71.90 589.45,104.31 666.20,117.81" stroke="#0000cc" stroke-width="1.0" fill="none" />
<polyline points="512.70,50.85 517.50,54.31 522.29,50.16 531.89,50.16 551.08,50.85 589.45,54.59 666.20,62.90" stroke="#c8964e" stroke-width="1.0" fill="none" />
<line x1="512.70" y1="56.39" x2="512.70" y2="45.31" stroke="#800080" stroke-width="0.9" />
<line x1="511.10" y1="56.39" x2="514.30" y2="56.39" stroke="#800080" stroke-width="0.9" />
<line x1="511.10" y1="45.31" x2="514.30" y2="45.31" stroke="#800080" stroke-width="0.9" />
<circle cx="512.70" cy="50.85" r="1.6" fill="#800080"/>
<line x1="517.50" y1="87.90" x2="517.50" y2="74.05" stroke="#800080" stroke-width="0.9" />
<line x1="515.90" y1="87.90" x2="519.10" y2="87.90" stroke="#800080" stroke-width="0.9" />
<line x1="515.90" y1="74.05" x2="519.10" y2="74.05" stroke="#800080" stroke-width="0.9" />
<circle cx="517.50" cy="80.97" r="1.6" fill="#800080"/>
<line x1="522.29" y1="94.06" x2="522.29" y2="88.52" stroke="#800080" stroke-width="0.9" />
<line x1="520.69" y1="94.06" x2="523.89" y2="94.06" stroke="#800080" stroke-width="0.9" />
<line x1="520.69" y1="88.52" x2="523.89" y2="88.52" stroke="#800080" stroke-width="0.9" />
<circle cx="522.29" cy="91.29" r="1.6" fill="#800080"/>
<line x1="531.89" y1="107.50" x2="531.89" y2="101.96" stroke="#800080" stroke-width="0.9" />
<line x1="530.29" y1="107.50" x2="533.49" y2="107.50" stroke="#800080" stroke-width="0.9" />
<line x1="530.29" y1="101.96" x2="533.49" y2="101.96" stroke="#800080" stroke-width="0.9" />
<circle cx="531.89" cy="104.73" r="1.6" fill="#800080"/>
<line x1="551.08" y1="107.77" x2="551.08" y2="100.85" stroke="#800080" stroke-width="0.9" />
<line x1="549.48" y1="107.77" x2="552.68" y2="107.77" stroke="#800080" stroke-width="0.9" />
<line x1="549.48" y1="100.85" x2="552.68" y2="100.85" stroke="#800080" stroke-width="0.9" />
<circle cx="551.08" cy="104.31" r="1.6" fill="#800080"/>
<circle cx="589.45" cy="105.21" r="1.6" fill="#800080"/>
<circle cx="666.20" cy="102.09" r="1.6" fill="#800080"/>
<line x1="512.70" y1="52.93" x2="512.70" y2="48.77" stroke="#0a8a0a" stroke-width="0.9" />
<line x1="511.10" y1="52.93" x2="514.30" y2="52.93" stroke="#0a8a0a" stroke-width="0.9" />
<line x1="511.10" y1="48.77" x2="514.30" y2="48.77" stroke="#0a8a0a" stroke-width="0.9" />
<circle cx="512.70" cy="50.85" r="1.6" fill="#0a8a0a"/>
<line x1="517.50" y1="64.91" x2="517.50" y2="60.75" stroke="#0a8a0a" stroke-width="0.9" />
<line x1="515.90" y1="64.91" x2="519.10" y2="64.91" stroke="#0a8a0a" stroke-width="0.9" />
<line x1="515.90" y1="60.75" x2="519.10" y2="60.75" stroke="#0a8a0a" stroke-width="0.9" />
<circle cx="517.50" cy="62.83" r="1.6" fill="#0a8a0a"/>
<line x1="522.29" y1="79.10" x2="522.29" y2="73.56" stroke="#0a8a0a" stroke-width="0.9" />
<line x1="520.69" y1="79.10" x2="523.89" y2="79.10" stroke="#0a8a0a" stroke-width="0.9" />
<line x1="520.69" y1="73.56" x2="523.89" y2="73.56" stroke="#0a8a0a" stroke-width="0.9" />
<circle cx="522.29" cy="76.33" r="1.6" fill="#0a8a0a"/>
<circle cx="531.89" cy="91.57" r="1.6" fill="#0a8a0a"/>
<circle cx="551.08" cy="95.03" r="1.6" fill="#0a8a0a"/>
<circle cx="589.45" cy="95.52" r="1.6" fill="#0a8a0a"/>
<line x1="666.20" y1="97.39" x2="666.20" y2="94.62" stroke="#0a8a0a" stroke-width="0.9" />
<line x1="664.60" y1="97.39" x2="667.80" y2="97.39" stroke="#0a8a0a" stroke-width="0.9" />
<line x1="664.60" y1="94.62" x2="667.80" y2="94.62" stroke="#0a8a0a" stroke-width="0.9" />
<circle cx="666.20" cy="96.00" r="1.6" fill="#0a8a0a"/>
<line x1="512.70" y1="56.39" x2="512.70" y2="45.31" stroke="#ff5a0a" stroke-width="0.9" />
<line x1="511.10" y1="56.39" x2="514.30" y2="56.39" stroke="#ff5a0a" stroke-width="0.9" />
<line x1="511.10" y1="45.31" x2="514.30" y2="45.31" stroke="#ff5a0a" stroke-width="0.9" />
<circle cx="512.70" cy="50.85" r="1.6" fill="#ff5a0a"/>
<line x1="517.50" y1="63.31" x2="517.50" y2="38.38" stroke="#ff5a0a" stroke-width="0.9" />
<line x1="515.90" y1="63.31" x2="519.10" y2="63.31" stroke="#ff5a0a" stroke-width="0.9" />
<line x1="515.90" y1="38.38" x2="519.10" y2="38.38" stroke="#ff5a0a" stroke-width="0.9" />
<circle cx="517.50" cy="50.85" r="1.6" fill="#ff5a0a"/>
<line x1="522.29" y1="64.01" x2="522.29" y2="54.31" stroke="#ff5a0a" stroke-width="0.9" />
<line x1="520.69" y1="64.01" x2="523.89" y2="64.01" stroke="#ff5a0a" stroke-width="0.9" />
<line x1="520.69" y1="54.31" x2="523.89" y2="54.31" stroke="#ff5a0a" stroke-width="0.9" />
<circle cx="522.29" cy="59.16" r="1.6" fill="#ff5a0a"/>
<line x1="531.89" y1="84.09" x2="531.89" y2="75.78" stroke="#ff5a0a" stroke-width="0.9" />
<line x1="530.29" y1="84.09" x2="533.49" y2="84.09" stroke="#ff5a0a" stroke-width="0.9" />
<line x1="530.29" y1="75.78" x2="533.49" y2="75.78" stroke="#ff5a0a" stroke-width="0.9" />
<circle cx="531.89" cy="79.94" r="1.6" fill="#ff5a0a"/>
<line x1="551.08" y1="93.23" x2="551.08" y2="82.15" stroke="#ff5a0a" stroke-width="0.9" />
<line x1="549.48" y1="93.23" x2="552.68" y2="93.23" stroke="#ff5a0a" stroke-width="0.9" />
<line x1="549.48" y1="82.15" x2="552.68" y2="82.15" stroke="#ff5a0a" stroke-width="0.9" />
<circle cx="551.08" cy="87.69" r="1.6" fill="#ff5a0a"/>
<line x1="589.45" y1="100.43" x2="589.45" y2="93.51" stroke="#ff5a0a" stroke-width="0.9" />
<line x1="587.85" y1="100.43" x2="591.05" y2="100.43" stroke="#ff5a0a" stroke-width="0.9" />
<line x1="587.85" y1="93.51" x2="591.05" y2="93.51" stroke="#ff5a0a" stroke-width="0.9" />
<circle cx="589.45" cy="96.97" r="1.6" fill="#ff5a0a"/>
<line x1="666.20" y1="112.00" x2="666.20" y2="106.46" stroke="#ff5a0a" stroke-width="0.9" />
<line x1="664.60" y1="112.00" x2="667.80" y2="112.00" stroke="#ff5a0a" stroke-width="0.9" />
<line x1="664.60" y1="106.46" x2="667.80" y2="106.46" stroke="#ff5a0a" stroke-width="0.9" />
<circle cx="666.20" cy="109.23" r="1.6" fill="#ff5a0a"/>
<line x1="512.70" y1="60.54" x2="512.70" y2="41.15" stroke="#1a8a9c" stroke-width="0.9" />
<line x1="511.10" y1="60.54" x2="514.30" y2="60.54" stroke="#1a8a9c" stroke-width="0.9" />
<line x1="511.10" y1="41.15" x2="514.30" y2="41.15" stroke="#1a8a9c" stroke-width="0.9" />
<circle cx="512.70" cy="50.85" r="1.6" fill="#1a8a9c"/>
<line x1="517.50" y1="63.31" x2="517.50" y2="28.69" stroke="#1a8a9c" stroke-width="0.9" />
<line x1="515.90" y1="63.31" x2="519.10" y2="63.31" stroke="#1a8a9c" stroke-width="0.9" />
<line x1="515.90" y1="28.69" x2="519.10" y2="28.69" stroke="#1a8a9c" stroke-width="0.9" />
<circle cx="517.50" cy="46.00" r="1.6" fill="#1a8a9c"/>
<line x1="522.29" y1="58.47" x2="522.29" y2="28.00" stroke="#1a8a9c" stroke-width="0.9" />
<line x1="520.69" y1="58.47" x2="523.89" y2="58.47" stroke="#1a8a9c" stroke-width="0.9" />
<line x1="520.69" y1="28.00" x2="523.89" y2="28.00" stroke="#1a8a9c" stroke-width="0.9" />
<circle cx="522.29" cy="43.23" r="1.6" fill="#1a8a9c"/>
<line x1="531.89" y1="59.23" x2="531.89" y2="50.92" stroke="#1a8a9c" stroke-width="0.9" />
<line x1="530.29" y1="59.23" x2="533.49" y2="59.23" stroke="#1a8a9c" stroke-width="0.9" />
<line x1="530.29" y1="50.92" x2="533.49" y2="50.92" stroke="#1a8a9c" stroke-width="0.9" />
<circle cx="531.89" cy="55.07" r="1.6" fill="#1a8a9c"/>
<line x1="551.08" y1="66.22" x2="551.08" y2="56.53" stroke="#1a8a9c" stroke-width="0.9" />
<line x1="549.48" y1="66.22" x2="552.68" y2="66.22" stroke="#1a8a9c" stroke-width="0.9" />
<line x1="549.48" y1="56.53" x2="552.68" y2="56.53" stroke="#1a8a9c" stroke-width="0.9" />
<circle cx="551.08" cy="61.38" r="1.6" fill="#1a8a9c"/>
<line x1="589.45" y1="89.63" x2="589.45" y2="82.70" stroke="#1a8a9c" stroke-width="0.9" />
<line x1="587.85" y1="89.63" x2="591.05" y2="89.63" stroke="#1a8a9c" stroke-width="0.9" />
<line x1="587.85" y1="82.70" x2="591.05" y2="82.70" stroke="#1a8a9c" stroke-width="0.9" />
<circle cx="589.45" cy="86.17" r="1.6" fill="#1a8a9c"/>
<line x1="666.20" y1="104.59" x2="666.20" y2="99.05" stroke="#1a8a9c" stroke-width="0.9" />
<line x1="664.60" y1="104.59" x2="667.80" y2="104.59" stroke="#1a8a9c" stroke-width="0.9" />
<line x1="664.60" y1="99.05" x2="667.80" y2="99.05" stroke="#1a8a9c" stroke-width="0.9" />
<circle cx="666.20" cy="101.82" r="1.6" fill="#1a8a9c"/>
<line x1="512.70" y1="54.31" x2="512.70" y2="47.39" stroke="#0000cc" stroke-width="0.9" />
<line x1="511.10" y1="54.31" x2="514.30" y2="54.31" stroke="#0000cc" stroke-width="0.9" />
<line x1="511.10" y1="47.39" x2="514.30" y2="47.39" stroke="#0000cc" stroke-width="0.9" />
<circle cx="512.70" cy="50.85" r="1.6" fill="#0000cc"/>
<line x1="517.50" y1="51.54" x2="517.50" y2="44.62" stroke="#0000cc" stroke-width="0.9" />
<line x1="515.90" y1="51.54" x2="519.10" y2="51.54" stroke="#0000cc" stroke-width="0.9" />
<line x1="515.90" y1="44.62" x2="519.10" y2="44.62" stroke="#0000cc" stroke-width="0.9" />
<circle cx="517.50" cy="48.08" r="1.6" fill="#0000cc"/>
<line x1="522.29" y1="62.62" x2="522.29" y2="58.47" stroke="#0000cc" stroke-width="0.9" />
<line x1="520.69" y1="62.62" x2="523.89" y2="62.62" stroke="#0000cc" stroke-width="0.9" />
<line x1="520.69" y1="58.47" x2="523.89" y2="58.47" stroke="#0000cc" stroke-width="0.9" />
<circle cx="522.29" cy="60.54" r="1.6" fill="#0000cc"/>
<line x1="531.89" y1="74.12" x2="531.89" y2="64.42" stroke="#0000cc" stroke-width="0.9" />
<line x1="530.29" y1="74.12" x2="533.49" y2="74.12" stroke="#0000cc" stroke-width="0.9" />
<line x1="530.29" y1="64.42" x2="533.49" y2="64.42" stroke="#0000cc" stroke-width="0.9" />
<circle cx="531.89" cy="69.27" r="1.6" fill="#0000cc"/>
<line x1="551.08" y1="76.06" x2="551.08" y2="67.75" stroke="#0000cc" stroke-width="0.9" />
<line x1="549.48" y1="76.06" x2="552.68" y2="76.06" stroke="#0000cc" stroke-width="0.9" />
<line x1="549.48" y1="67.75" x2="552.68" y2="67.75" stroke="#0000cc" stroke-width="0.9" />
<circle cx="551.08" cy="71.90" r="1.6" fill="#0000cc"/>
<line x1="589.45" y1="105.35" x2="589.45" y2="103.27" stroke="#0000cc" stroke-width="0.9" />
<line x1="587.85" y1="105.35" x2="591.05" y2="105.35" stroke="#0000cc" stroke-width="0.9" />
<line x1="587.85" y1="103.27" x2="591.05" y2="103.27" stroke="#0000cc" stroke-width="0.9" />
<circle cx="589.45" cy="104.31" r="1.6" fill="#0000cc"/>
<circle cx="666.20" cy="117.81" r="1.6" fill="#0000cc"/>
<line x1="512.70" y1="57.77" x2="512.70" y2="43.92" stroke="#c8964e" stroke-width="0.9" />
<line x1="511.10" y1="57.77" x2="514.30" y2="57.77" stroke="#c8964e" stroke-width="0.9" />
<line x1="511.10" y1="43.92" x2="514.30" y2="43.92" stroke="#c8964e" stroke-width="0.9" />
<circle cx="512.70" cy="50.85" r="1.6" fill="#c8964e"/>
<line x1="517.50" y1="58.47" x2="517.50" y2="50.16" stroke="#c8964e" stroke-width="0.9" />
<line x1="515.90" y1="58.47" x2="519.10" y2="58.47" stroke="#c8964e" stroke-width="0.9" />
<line x1="515.90" y1="50.16" x2="519.10" y2="50.16" stroke="#c8964e" stroke-width="0.9" />
<circle cx="517.50" cy="54.31" r="1.6" fill="#c8964e"/>
<line x1="522.29" y1="52.23" x2="522.29" y2="48.08" stroke="#c8964e" stroke-width="0.9" />
<line x1="520.69" y1="52.23" x2="523.89" y2="52.23" stroke="#c8964e" stroke-width="0.9" />
<line x1="520.69" y1="48.08" x2="523.89" y2="48.08" stroke="#c8964e" stroke-width="0.9" />
<circle cx="522.29" cy="50.16" r="1.6" fill="#c8964e"/>
<line x1="531.89" y1="52.23" x2="531.89" y2="48.08" stroke="#c8964e" stroke-width="0.9" />
<line x1="530.29" y1="52.23" x2="533.49" y2="52.23" stroke="#c8964e" stroke-width="0.9" />
<line x1="530.29" y1="48.08" x2="533.49" y2="48.08" stroke="#c8964e" stroke-width="0.9" />
<circle cx="531.89" cy="50.16" r="1.6" fill="#c8964e"/>
<line x1="551.08" y1="56.39" x2="551.08" y2="45.31" stroke="#c8964e" stroke-width="0.9" />
<line x1="549.48" y1="56.39" x2="552.68" y2="56.39" stroke="#c8964e" stroke-width="0.9" />
<line x1="549.48" y1="45.31" x2="552.68" y2="45.31" stroke="#c8964e" stroke-width="0.9" />
<circle cx="551.08" cy="50.85" r="1.6" fill="#c8964e"/>
<line x1="589.45" y1="56.67" x2="589.45" y2="52.51" stroke="#c8964e" stroke-width="0.9" />
<line x1="587.85" y1="56.67" x2="591.05" y2="56.67" stroke="#c8964e" stroke-width="0.9" />
<line x1="587.85" y1="52.51" x2="591.05" y2="52.51" stroke="#c8964e" stroke-width="0.9" />
<circle cx="589.45" cy="54.59" r="1.6" fill="#c8964e"/>
<line x1="666.20" y1="69.82" x2="666.20" y2="55.97" stroke="#c8964e" stroke-width="0.9" />
<line x1="664.60" y1="69.82" x2="667.80" y2="69.82" stroke="#c8964e" stroke-width="0.9" />
<line x1="664.60" y1="55.97" x2="667.80" y2="55.97" stroke="#c8964e" stroke-width="0.9" />
<circle cx="666.20" cy="62.90" r="1.6" fill="#c8964e"/>
<line x1="614.50" y1="2.50" x2="623.90" y2="2.50" stroke="#0a8a0a" stroke-width="1.0" />
<circle cx="619.00" cy="2.50" r="1.8" fill="#0a8a0a"/>
<text x="629.70" y="5.05" font-size="7.3" text-anchor="start" fill="#2a2a2a" >SNU-216</text>
<line x1="614.50" y1="9.68" x2="623.90" y2="9.68" stroke="#1a8a9c" stroke-width="1.0" />
<circle cx="619.00" cy="9.68" r="1.8" fill="#1a8a9c"/>
<text x="629.70" y="12.23" font-size="7.3" text-anchor="start" fill="#2a2a2a" >HGC-27</text>
<line x1="614.50" y1="16.86" x2="623.90" y2="16.86" stroke="#0000cc" stroke-width="1.0" />
<circle cx="619.00" cy="16.86" r="1.8" fill="#0000cc"/>
<text x="629.70" y="19.41" font-size="7.3" text-anchor="start" fill="#2a2a2a" >SGC-7901</text>
<line x1="614.50" y1="24.04" x2="623.90" y2="24.04" stroke="#ff5a0a" stroke-width="1.0" />
<circle cx="619.00" cy="24.04" r="1.8" fill="#ff5a0a"/>
<text x="629.70" y="26.59" font-size="7.3" text-anchor="start" fill="#2a2a2a" >BGC-823</text>
<line x1="614.50" y1="31.22" x2="623.90" y2="31.22" stroke="#c8964e" stroke-width="1.0" />
<circle cx="619.00" cy="31.22" r="1.8" fill="#c8964e"/>
<text x="629.70" y="33.77" font-size="7.3" text-anchor="start" fill="#2a2a2a" >AGS</text>
<line x1="614.50" y1="38.40" x2="623.90" y2="38.40" stroke="#800080" stroke-width="1.0" />
<circle cx="619.00" cy="38.40" r="1.8" fill="#800080"/>
<text x="629.70" y="40.95" font-size="7.3" text-anchor="start" fill="#2a2a2a" >MKN-45</text>
<line x1="29.60" y1="204.86" x2="29.60" y2="295.50" stroke="#111" stroke-width="1.4" />
<line x1="29.10" y1="295.00" x2="163.10" y2="295.00" stroke="#666" stroke-width="2.0" />
<line x1="27.20" y1="295.00" x2="29.60" y2="295.00" stroke="#333" stroke-width="1.0" />
<text transform="translate(26.40,298.10) scale(0.82,1)" font-size="8.8" text-anchor="end" fill="#333">0</text>
<line x1="27.20" y1="285.04" x2="29.60" y2="285.04" stroke="#333" stroke-width="1.0" />
<text transform="translate(26.40,288.14) scale(0.82,1)" font-size="8.8" text-anchor="end" fill="#333">1</text>
<line x1="27.20" y1="275.08" x2="29.60" y2="275.08" stroke="#333" stroke-width="1.0" />
<text transform="translate(26.40,278.18) scale(0.82,1)" font-size="8.8" text-anchor="end" fill="#333">2</text>
<line x1="27.20" y1="265.12" x2="29.60" y2="265.12" stroke="#333" stroke-width="1.0" />
<text transform="translate(26.40,268.22) scale(0.82,1)" font-size="8.8" text-anchor="end" fill="#333">3</text>
<line x1="27.20" y1="255.16" x2="29.60" y2="255.16" stroke="#333" stroke-width="1.0" />
<text transform="translate(26.40,258.26) scale(0.82,1)" font-size="8.8" text-anchor="end" fill="#333">4</text>
<line x1="27.20" y1="245.20" x2="29.60" y2="245.20" stroke="#333" stroke-width="1.0" />
<text transform="translate(26.40,248.30) scale(0.82,1)" font-size="8.8" text-anchor="end" fill="#333">5</text>
<line x1="27.20" y1="235.24" x2="29.60" y2="235.24" stroke="#333" stroke-width="1.0" />
<text transform="translate(26.40,238.34) scale(0.82,1)" font-size="8.8" text-anchor="end" fill="#333">6</text>
<line x1="27.20" y1="225.28" x2="29.60" y2="225.28" stroke="#333" stroke-width="1.0" />
<text transform="translate(26.40,228.38) scale(0.82,1)" font-size="8.8" text-anchor="end" fill="#333">7</text>
<line x1="27.20" y1="215.32" x2="29.60" y2="215.32" stroke="#333" stroke-width="1.0" />
<text transform="translate(26.40,218.42) scale(0.82,1)" font-size="8.8" text-anchor="end" fill="#333">8</text>
<line x1="27.20" y1="205.36" x2="29.60" y2="205.36" stroke="#333" stroke-width="1.0" />
<text transform="translate(26.40,208.46) scale(0.82,1)" font-size="8.8" text-anchor="end" fill="#333">9</text>
<line x1="29.60" y1="295.00" x2="29.60" y2="297.40" stroke="#333" stroke-width="1.0" />
<text transform="translate(29.60,306.00) scale(0.85,1)" font-size="8.6" text-anchor="middle" fill="#333">0</text>
<line x1="62.90" y1="295.00" x2="62.90" y2="297.40" stroke="#333" stroke-width="1.0" />
<text transform="translate(62.90,306.00) scale(0.85,1)" font-size="8.6" text-anchor="middle" fill="#333">24</text>
<line x1="96.20" y1="295.00" x2="96.20" y2="297.40" stroke="#333" stroke-width="1.0" />
<text transform="translate(96.20,306.00) scale(0.85,1)" font-size="8.6" text-anchor="middle" fill="#333">48</text>
<line x1="129.50" y1="295.00" x2="129.50" y2="297.40" stroke="#333" stroke-width="1.0" />
<text transform="translate(129.50,306.00) scale(0.85,1)" font-size="8.6" text-anchor="middle" fill="#333">72</text>
<line x1="162.80" y1="295.00" x2="162.80" y2="297.40" stroke="#333" stroke-width="1.0" />
<text transform="translate(162.80,306.00) scale(0.85,1)" font-size="8.6" text-anchor="middle" fill="#333">96</text>
<text x="78.80" y="194.00" font-size="11.5" text-anchor="start" fill="#000" stroke="#000" stroke-width="0.22" textLength="41.8" lengthAdjust="spacingAndGlyphs">HGC-27</text>
<text x="92.40" y="318.00" font-size="11.2" text-anchor="middle" fill="#000" stroke="#000" stroke-width="0.22" >Hours</text>
<text transform="translate(15.30,253.18) rotate(-90)" font-size="11.6" text-anchor="middle" fill="#000" stroke="#000" stroke-width="0.22">Normalized cell index</text>
<line x1="37.20" y1="200.60" x2="46.70" y2="200.60" stroke="#c8964e" stroke-width="1.0" />
<circle cx="41.90" cy="200.60" r="1.9" fill="#c8964e"/>
<text x="51.80" y="203.10" font-size="7.2" text-anchor="start" fill="#1e1e1e" >0 nM</text>
<line x1="37.20" y1="211.30" x2="46.70" y2="211.30" stroke="#ff5a0a" stroke-width="1.0" />
<polygon points="41.90,209.02 39.81,212.82 43.99,212.82" fill="#ff5a0a" stroke="none" stroke-width="0" />
<text x="51.80" y="213.80" font-size="7.2" text-anchor="start" fill="#1e1e1e" >5 nM</text>
<line x1="37.20" y1="222.00" x2="46.70" y2="222.00" stroke="#0a8a0a" stroke-width="1.0" />
<polygon points="41.90,224.28 39.81,220.48 43.99,220.48" fill="#0a8a0a" stroke="none" stroke-width="0" />
<text x="51.80" y="224.50" font-size="7.2" text-anchor="start" fill="#1e1e1e" >10 nM</text>
<line x1="37.20" y1="232.70" x2="46.70" y2="232.70" stroke="#1a87a8" stroke-width="1.0" />
<polygon points="41.90,230.42 40.00,232.70 41.90,234.98 43.80,232.70" fill="#1a87a8" stroke="none" stroke-width="0" />
<text x="51.80" y="235.20" font-size="7.2" text-anchor="start" fill="#1e1e1e" >15 nM</text>
<polyline points="29.60,285.04 62.90,277.57 96.20,266.12 129.50,250.38 162.80,215.62" stroke="#c8964e" stroke-width="1.0" fill="none" />
<polyline points="29.60,285.04 62.90,278.57 96.20,270.70 129.50,262.03 162.80,232.25" stroke="#ff5a0a" stroke-width="1.0" fill="none" />
<polyline points="29.60,285.04 62.90,280.56 96.20,276.87 129.50,267.71 162.80,249.48" stroke="#0a8a0a" stroke-width="1.0" fill="none" />
<polyline points="29.60,285.04 62.90,281.55 96.20,284.64 129.50,284.34 162.80,281.06" stroke="#1a87a8" stroke-width="1.0" fill="none" />
<polygon points="29.60,282.88 27.80,285.04 29.60,287.20 31.40,285.04" fill="#1a87a8" stroke="none" stroke-width="0" />
<polygon points="62.90,279.39 61.10,281.55 62.90,283.71 64.70,281.55" fill="#1a87a8" stroke="none" stroke-width="0" />
<polygon points="96.20,282.48 94.40,284.64 96.20,286.80 98.00,284.64" fill="#1a87a8" stroke="none" stroke-width="0" />
<polygon points="129.50,282.18 127.70,284.34 129.50,286.50 131.30,284.34" fill="#1a87a8" stroke="none" stroke-width="0" />
<polygon points="162.80,278.90 161.00,281.06 162.80,283.22 164.60,281.06" fill="#1a87a8" stroke="none" stroke-width="0" />
<polygon points="29.60,287.20 27.62,283.60 31.58,283.60" fill="#0a8a0a" stroke="none" stroke-width="0" />
<polygon points="62.90,282.72 60.92,279.12 64.88,279.12" fill="#0a8a0a" stroke="none" stroke-width="0" />
<polygon points="96.20,279.03 94.22,275.43 98.18,275.43" fill="#0a8a0a" stroke="none" stroke-width="0" />
<polygon points="129.50,269.87 127.52,266.27 131.48,266.27" fill="#0a8a0a" stroke="none" stroke-width="0" />
<line x1="162.80" y1="251.47" x2="162.80" y2="247.49" stroke="#0a8a0a" stroke-width="0.9" />
<line x1="161.30" y1="251.47" x2="164.30" y2="251.47" stroke="#0a8a0a" stroke-width="0.9" />
<line x1="161.30" y1="247.49" x2="164.30" y2="247.49" stroke="#0a8a0a" stroke-width="0.9" />
<polygon points="162.80,251.64 160.82,248.04 164.78,248.04" fill="#0a8a0a" stroke="none" stroke-width="0" />
<polygon points="29.60,282.88 27.62,286.48 31.58,286.48" fill="#ff5a0a" stroke="none" stroke-width="0" />
<polygon points="62.90,276.41 60.92,280.01 64.88,280.01" fill="#ff5a0a" stroke="none" stroke-width="0" />
<polygon points="96.20,268.54 94.22,272.14 98.18,272.14" fill="#ff5a0a" stroke="none" stroke-width="0" />
<polygon points="129.50,259.87 127.52,263.47 131.48,263.47" fill="#ff5a0a" stroke="none" stroke-width="0" />
<line x1="162.80" y1="235.24" x2="162.80" y2="229.26" stroke="#ff5a0a" stroke-width="0.9" />
<line x1="161.30" y1="235.24" x2="164.30" y2="235.24" stroke="#ff5a0a" stroke-width="0.9" />
<line x1="161.30" y1="229.26" x2="164.30" y2="229.26" stroke="#ff5a0a" stroke-width="0.9" />
<polygon points="162.80,230.09 160.82,233.69 164.78,233.69" fill="#ff5a0a" stroke="none" stroke-width="0" />
<circle cx="29.60" cy="285.04" r="1.8" fill="#c8964e"/>
<circle cx="62.90" cy="277.57" r="1.8" fill="#c8964e"/>
<circle cx="96.20" cy="266.12" r="1.8" fill="#c8964e"/>
<circle cx="129.50" cy="250.38" r="1.8" fill="#c8964e"/>
<line x1="162.80" y1="218.11" x2="162.80" y2="213.13" stroke="#c8964e" stroke-width="0.9" />
<line x1="161.30" y1="218.11" x2="164.30" y2="218.11" stroke="#c8964e" stroke-width="0.9" />
<line x1="161.30" y1="213.13" x2="164.30" y2="213.13" stroke="#c8964e" stroke-width="0.9" />
<circle cx="162.80" cy="215.62" r="1.8" fill="#c8964e"/>
<text x="163.30" y="229.80" font-size="10.0" text-anchor="middle" fill="#333" stroke="#333" stroke-width="0.22" >***</text>
<text x="163.30" y="249.10" font-size="10.0" text-anchor="middle" fill="#333" stroke="#333" stroke-width="0.22" >***</text>
<text x="163.30" y="281.40" font-size="10.0" text-anchor="middle" fill="#333" stroke="#333" stroke-width="0.22" >***</text>
<line x1="30.10" y1="360.00" x2="30.10" y2="451.60" stroke="#6a6a6a" stroke-width="1.4" />
<line x1="29.60" y1="451.10" x2="163.60" y2="451.10" stroke="#333" stroke-width="1.6" />
<line x1="27.70" y1="451.10" x2="30.10" y2="451.10" stroke="#333" stroke-width="1.0" />
<text transform="translate(26.90,454.20) scale(0.82,1)" font-size="8.8" text-anchor="end" fill="#333">0</text>
<line x1="27.70" y1="432.98" x2="30.10" y2="432.98" stroke="#333" stroke-width="1.0" />
<text transform="translate(26.90,436.08) scale(0.82,1)" font-size="8.8" text-anchor="end" fill="#333">1</text>
<line x1="27.70" y1="414.86" x2="30.10" y2="414.86" stroke="#333" stroke-width="1.0" />
<text transform="translate(26.90,417.96) scale(0.82,1)" font-size="8.8" text-anchor="end" fill="#333">2</text>
<line x1="27.70" y1="396.74" x2="30.10" y2="396.74" stroke="#333" stroke-width="1.0" />
<text transform="translate(26.90,399.84) scale(0.82,1)" font-size="8.8" text-anchor="end" fill="#333">3</text>
<line x1="27.70" y1="378.62" x2="30.10" y2="378.62" stroke="#333" stroke-width="1.0" />
<text transform="translate(26.90,381.72) scale(0.82,1)" font-size="8.8" text-anchor="end" fill="#333">4</text>
<line x1="27.70" y1="360.50" x2="30.10" y2="360.50" stroke="#333" stroke-width="1.0" />
<text transform="translate(26.90,363.60) scale(0.82,1)" font-size="8.8" text-anchor="end" fill="#333">5</text>
<line x1="30.10" y1="451.10" x2="30.10" y2="453.50" stroke="#333" stroke-width="1.0" />
<text transform="translate(30.10,462.10) scale(0.85,1)" font-size="8.6" text-anchor="middle" fill="#333">0</text>
<line x1="63.40" y1="451.10" x2="63.40" y2="453.50" stroke="#333" stroke-width="1.0" />
<text transform="translate(63.40,462.10) scale(0.85,1)" font-size="8.6" text-anchor="middle" fill="#333">24</text>
<line x1="96.70" y1="451.10" x2="96.70" y2="453.50" stroke="#333" stroke-width="1.0" />
<text transform="translate(96.70,462.10) scale(0.85,1)" font-size="8.6" text-anchor="middle" fill="#333">48</text>
<line x1="130.00" y1="451.10" x2="130.00" y2="453.50" stroke="#333" stroke-width="1.0" />
<text transform="translate(130.00,462.10) scale(0.85,1)" font-size="8.6" text-anchor="middle" fill="#333">72</text>
<line x1="163.30" y1="451.10" x2="163.30" y2="453.50" stroke="#333" stroke-width="1.0" />
<text transform="translate(163.30,462.10) scale(0.85,1)" font-size="8.6" text-anchor="middle" fill="#333">96</text>
<text x="78.00" y="347.60" font-size="11.5" text-anchor="start" fill="#000" stroke="#000" stroke-width="0.22" textLength="24.0" lengthAdjust="spacingAndGlyphs">AGS</text>
<text x="92.90" y="473.90" font-size="11.2" text-anchor="middle" fill="#000" stroke="#000" stroke-width="0.22" >Hours</text>
<text transform="translate(15.30,408.80) rotate(-90)" font-size="11.6" text-anchor="middle" fill="#000" stroke="#000" stroke-width="0.22">Normalized cell index</text>
<line x1="37.70" y1="355.70" x2="47.20" y2="355.70" stroke="#c8964e" stroke-width="1.0" />
<circle cx="42.40" cy="355.70" r="1.9" fill="#c8964e"/>
<text x="52.30" y="358.20" font-size="7.2" text-anchor="start" fill="#1e1e1e" >0 nM</text>
<line x1="37.70" y1="366.50" x2="47.20" y2="366.50" stroke="#ff5a0a" stroke-width="1.0" />
<polygon points="42.40,364.22 40.31,368.02 44.49,368.02" fill="#ff5a0a" stroke="none" stroke-width="0" />
<text x="52.30" y="369.00" font-size="7.2" text-anchor="start" fill="#1e1e1e" >2 nM</text>
<line x1="37.70" y1="377.30" x2="47.20" y2="377.30" stroke="#0a8a0a" stroke-width="1.0" />
<polygon points="42.40,379.58 40.31,375.78 44.49,375.78" fill="#0a8a0a" stroke="none" stroke-width="0" />
<text x="52.30" y="379.80" font-size="7.2" text-anchor="start" fill="#1e1e1e" >5 nM</text>
<line x1="37.70" y1="388.10" x2="47.20" y2="388.10" stroke="#1a87a8" stroke-width="1.0" />
<polygon points="42.40,385.82 40.50,388.10 42.40,390.38 44.30,388.10" fill="#1a87a8" stroke="none" stroke-width="0" />
<text x="52.30" y="390.60" font-size="7.2" text-anchor="start" fill="#1e1e1e" >10 nM</text>
<polyline points="30.10,432.98 63.40,417.76 96.70,397.65 130.00,387.14 163.30,380.25" stroke="#c8964e" stroke-width="1.0" fill="none" />
<polyline points="30.10,432.98 63.40,420.84 96.70,407.07 130.00,396.56 163.30,384.42" stroke="#ff5a0a" stroke-width="1.0" fill="none" />
<polyline points="30.10,432.98 63.40,423.56 96.70,418.67 130.00,416.13 163.30,416.49" stroke="#0a8a0a" stroke-width="1.0" fill="none" />
<polyline points="30.10,432.98 63.40,427.18 96.70,437.33 130.00,439.32 163.30,441.32" stroke="#1a87a8" stroke-width="1.0" fill="none" />
<polygon points="30.10,430.82 28.30,432.98 30.10,435.14 31.90,432.98" fill="#1a87a8" stroke="none" stroke-width="0" />
<polygon points="63.40,425.02 61.60,427.18 63.40,429.34 65.20,427.18" fill="#1a87a8" stroke="none" stroke-width="0" />
<polygon points="96.70,435.17 94.90,437.33 96.70,439.49 98.50,437.33" fill="#1a87a8" stroke="none" stroke-width="0" />
<polygon points="130.00,437.16 128.20,439.32 130.00,441.48 131.80,439.32" fill="#1a87a8" stroke="none" stroke-width="0" />
<polygon points="163.30,439.16 161.50,441.32 163.30,443.48 165.10,441.32" fill="#1a87a8" stroke="none" stroke-width="0" />
<polygon points="30.10,435.14 28.12,431.54 32.08,431.54" fill="#0a8a0a" stroke="none" stroke-width="0" />
<polygon points="63.40,425.72 61.42,422.12 65.38,422.12" fill="#0a8a0a" stroke="none" stroke-width="0" />
<polygon points="96.70,420.83 94.72,417.23 98.68,417.23" fill="#0a8a0a" stroke="none" stroke-width="0" />
<polygon points="130.00,418.29 128.02,414.69 131.98,414.69" fill="#0a8a0a" stroke="none" stroke-width="0" />
<polygon points="163.30,418.65 161.32,415.05 165.28,415.05" fill="#0a8a0a" stroke="none" stroke-width="0" />
<polygon points="30.10,430.82 28.12,434.42 32.08,434.42" fill="#ff5a0a" stroke="none" stroke-width="0" />
<polygon points="63.40,418.68 61.42,422.28 65.38,422.28" fill="#ff5a0a" stroke="none" stroke-width="0" />
<line x1="96.70" y1="412.50" x2="96.70" y2="401.63" stroke="#ff5a0a" stroke-width="0.9" />
<line x1="95.20" y1="412.50" x2="98.20" y2="412.50" stroke="#ff5a0a" stroke-width="0.9" />
<line x1="95.20" y1="401.63" x2="98.20" y2="401.63" stroke="#ff5a0a" stroke-width="0.9" />
<polygon points="96.70,404.91 94.72,408.51 98.68,408.51" fill="#ff5a0a" stroke="none" stroke-width="0" />
<line x1="130.00" y1="401.99" x2="130.00" y2="391.12" stroke="#ff5a0a" stroke-width="0.9" />
<line x1="128.50" y1="401.99" x2="131.50" y2="401.99" stroke="#ff5a0a" stroke-width="0.9" />
<line x1="128.50" y1="391.12" x2="131.50" y2="391.12" stroke="#ff5a0a" stroke-width="0.9" />
<polygon points="130.00,394.40 128.02,398.00 131.98,398.00" fill="#ff5a0a" stroke="none" stroke-width="0" />
<line x1="163.30" y1="392.57" x2="163.30" y2="376.26" stroke="#ff5a0a" stroke-width="0.9" />
<line x1="161.80" y1="392.57" x2="164.80" y2="392.57" stroke="#ff5a0a" stroke-width="0.9" />
<line x1="161.80" y1="376.26" x2="164.80" y2="376.26" stroke="#ff5a0a" stroke-width="0.9" />
<polygon points="163.30,382.26 161.32,385.86 165.28,385.86" fill="#ff5a0a" stroke="none" stroke-width="0" />
<circle cx="30.10" cy="432.98" r="1.8" fill="#c8964e"/>
<circle cx="63.40" cy="417.76" r="1.8" fill="#c8964e"/>
<line x1="96.70" y1="399.10" x2="96.70" y2="396.20" stroke="#c8964e" stroke-width="0.9" />
<line x1="95.20" y1="399.10" x2="98.20" y2="399.10" stroke="#c8964e" stroke-width="0.9" />
<line x1="95.20" y1="396.20" x2="98.20" y2="396.20" stroke="#c8964e" stroke-width="0.9" />
<circle cx="96.70" cy="397.65" r="1.8" fill="#c8964e"/>
<line x1="130.00" y1="389.85" x2="130.00" y2="384.42" stroke="#c8964e" stroke-width="0.9" />
<line x1="128.50" y1="389.85" x2="131.50" y2="389.85" stroke="#c8964e" stroke-width="0.9" />
<line x1="128.50" y1="384.42" x2="131.50" y2="384.42" stroke="#c8964e" stroke-width="0.9" />
<circle cx="130.00" cy="387.14" r="1.8" fill="#c8964e"/>
<line x1="163.30" y1="385.69" x2="163.30" y2="374.81" stroke="#c8964e" stroke-width="0.9" />
<line x1="161.80" y1="385.69" x2="164.80" y2="385.69" stroke="#c8964e" stroke-width="0.9" />
<line x1="161.80" y1="374.81" x2="164.80" y2="374.81" stroke="#c8964e" stroke-width="0.9" />
<circle cx="163.30" cy="380.25" r="1.8" fill="#c8964e"/>
<text x="164.60" y="416.30" font-size="10.0" text-anchor="middle" fill="#333" stroke="#333" stroke-width="0.22" >***</text>
<text x="164.60" y="441.90" font-size="10.0" text-anchor="middle" fill="#333" stroke="#333" stroke-width="0.22" >***</text>
<defs><linearGradient id="pbg" x1="0" y1="0" x2="1" y2="0.6"><stop offset="0" stop-color="#8a8795"/><stop offset="0.6" stop-color="#96939f"/><stop offset="1" stop-color="#a9a6b3"/></linearGradient><linearGradient id="pbg2" x1="0" y1="0" x2="1" y2="0.6"><stop offset="0" stop-color="#7c7988"/><stop offset="0.6" stop-color="#8a8796"/><stop offset="1" stop-color="#9c99a8"/></linearGradient><linearGradient id="rim" x1="0.1" y1="0.9" x2="0.9" y2="0.1"><stop offset="0" stop-color="#d9d7e0"/><stop offset="0.45" stop-color="#c3c1cd"/><stop offset="0.8" stop-color="#a3a0b0"/><stop offset="1" stop-color="#9a97a7"/></linearGradient><linearGradient id="rim2" x1="0" y1="0.5" x2="1" y2="0.5"><stop offset="0" stop-color="#d6d5e0"/><stop offset="0.3" stop-color="#b9b7c4"/><stop offset="0.8" stop-color="#a3a1b0"/><stop offset="1" stop-color="#95929f"/></linearGradient><radialGradient id="pinA" cx="0.5" cy="0.5" r="0.5"><stop offset="0.55" stop-color="#a5a3b4"/><stop offset="1" stop-color="#9997a9"/></radialGradient><radialGradient id="pinB" cx="0.5" cy="0.5" r="0.5"><stop offset="0.55" stop-color="#9b99aa"/><stop offset="1" stop-color="#908ea0"/></radialGradient><radialGradient id="pinC" cx="0.45" cy="0.5" r="0.55"><stop offset="0.5" stop-color="#8b8898"/><stop offset="1" stop-color="#7f7c8d"/></radialGradient><radialGradient id="pinD" cx="0.45" cy="0.5" r="0.55"><stop offset="0.5" stop-color="#8f8d9e"/><stop offset="1" stop-color="#848194"/></radialGradient><filter id="blur1" x="-10%" y="-10%" width="120%" height="120%"><feGaussianBlur stdDeviation="0.3"/></filter></defs>
<rect x="210.2" y="217.0" width="99.7" height="99.6" fill="url(#pbg)"/>
<circle cx="259.85" cy="267.00" r="47.80" fill="url(#pinA)" stroke="url(#rim)" stroke-width="2.8"/>
<g filter="url(#blur1)"><circle cx="222.0" cy="278.7" r="0.55" fill="#5040b0" fill-opacity="0.51"/><circle cx="275.3" cy="302.6" r="0.39" fill="#5040b0" fill-opacity="0.41"/><circle cx="296.0" cy="290.2" r="1.44" fill="#5040b0" fill-opacity="0.79"/><circle cx="239.8" cy="237.9" r="1.19" fill="#5040b0" fill-opacity="0.52"/><circle cx="268.0" cy="287.6" r="0.53" fill="#5040b0" fill-opacity="0.59"/><circle cx="224.1" cy="262.7" r="0.53" fill="#5040b0" fill-opacity="0.40"/><circle cx="304.8" cy="266.3" r="0.48" fill="#5040b0" fill-opacity="0.38"/><circle cx="253.8" cy="291.3" r="0.69" fill="#5040b0" fill-opacity="0.44"/><circle cx="299.8" cy="256.2" r="0.71" fill="#5040b0" fill-opacity="0.46"/><circle cx="288.0" cy="263.5" r="0.66" fill="#5040b0" fill-opacity="0.39"/><circle cx="290.0" cy="285.4" r="0.40" fill="#5040b0" fill-opacity="0.39"/><circle cx="279.4" cy="281.4" r="0.57" fill="#5040b0" fill-opacity="0.46"/><circle cx="273.9" cy="302.9" r="0.40" fill="#5040b0" fill-opacity="0.45"/><circle cx="267.6" cy="299.8" r="0.47" fill="#5040b0" fill-opacity="0.61"/><circle cx="268.8" cy="302.6" r="0.39" fill="#5040b0" fill-opacity="0.65"/><circle cx="267.5" cy="299.5" r="0.47" fill="#5040b0" fill-opacity="0.33"/><circle cx="288.8" cy="285.4" r="0.50" fill="#5040b0" fill-opacity="0.46"/><circle cx="290.1" cy="259.1" r="0.42" fill="#5040b0" fill-opacity="0.35"/><circle cx="294.0" cy="244.9" r="0.65" fill="#5040b0" fill-opacity="0.63"/><circle cx="274.5" cy="309.0" r="0.52" fill="#5040b0" fill-opacity="0.34"/><circle cx="302.7" cy="277.6" r="0.45" fill="#5040b0" fill-opacity="0.59"/><circle cx="239.8" cy="253.1" r="0.38" fill="#5040b0" fill-opacity="0.38"/><circle cx="219.4" cy="251.2" r="0.72" fill="#5040b0" fill-opacity="0.37"/><circle cx="283.1" cy="269.4" r="1.00" fill="#5040b0" fill-opacity="0.61"/><circle cx="245.2" cy="259.8" r="0.74" fill="#5040b0" fill-opacity="0.53"/><circle cx="247.4" cy="234.9" r="0.91" fill="#5040b0" fill-opacity="0.77"/><circle cx="246.5" cy="224.9" r="0.54" fill="#5040b0" fill-opacity="0.56"/><circle cx="241.0" cy="307.8" r="0.64" fill="#5040b0" fill-opacity="0.62"/><circle cx="256.5" cy="225.5" r="0.49" fill="#5040b0" fill-opacity="0.54"/><circle cx="294.0" cy="242.5" r="0.70" fill="#5040b0" fill-opacity="0.50"/><circle cx="240.2" cy="247.3" r="0.38" fill="#5040b0" fill-opacity="0.52"/><circle cx="303.6" cy="265.2" r="0.64" fill="#5040b0" fill-opacity="0.50"/><circle cx="221.5" cy="282.0" r="0.36" fill="#5040b0" fill-opacity="0.51"/><circle cx="227.5" cy="270.9" r="0.60" fill="#5040b0" fill-opacity="0.62"/><circle cx="259.7" cy="271.8" r="0.43" fill="#5040b0" fill-opacity="0.36"/><circle cx="290.2" cy="246.6" r="0.48" fill="#5040b0" fill-opacity="0.53"/><circle cx="271.7" cy="302.5" r="0.70" fill="#5040b0" fill-opacity="0.43"/><circle cx="237.9" cy="254.4" r="0.68" fill="#5040b0" fill-opacity="0.60"/><circle cx="249.3" cy="224.4" r="0.53" fill="#5040b0" fill-opacity="0.40"/><circle cx="268.1" cy="303.1" r="0.48" fill="#5040b0" fill-opacity="0.59"/><circle cx="289.9" cy="263.6" r="1.38" fill="#5040b0" fill-opacity="0.51"/><circle cx="251.1" cy="234.2" r="0.36" fill="#5040b0" fill-opacity="0.35"/><circle cx="240.7" cy="272.6" r="0.41" fill="#5040b0" fill-opacity="0.32"/><circle cx="233.9" cy="239.7" r="0.67" fill="#5040b0" fill-opacity="0.64"/><circle cx="251.8" cy="248.6" r="0.35" fill="#5040b0" fill-opacity="0.47"/><circle cx="255.6" cy="248.4" r="0.63" fill="#5040b0" fill-opacity="0.48"/><circle cx="230.4" cy="241.2" r="0.71" fill="#5040b0" fill-opacity="0.33"/><circle cx="294.7" cy="251.3" r="0.60" fill="#5040b0" fill-opacity="0.62"/><circle cx="231.4" cy="294.8" r="0.73" fill="#5040b0" fill-opacity="0.46"/><circle cx="241.4" cy="241.2" r="0.61" fill="#5040b0" fill-opacity="0.55"/><circle cx="269.9" cy="309.8" r="0.56" fill="#5040b0" fill-opacity="0.58"/><circle cx="241.0" cy="306.8" r="0.38" fill="#5040b0" fill-opacity="0.45"/><circle cx="222.4" cy="254.7" r="1.35" fill="#5040b0" fill-opacity="0.52"/><circle cx="265.6" cy="249.2" r="0.41" fill="#5040b0" fill-opacity="0.35"/><circle cx="218.2" cy="262.7" r="0.73" fill="#5040b0" fill-opacity="0.47"/><circle cx="272.4" cy="262.9" r="0.47" fill="#5040b0" fill-opacity="0.56"/><circle cx="234.8" cy="237.1" r="0.47" fill="#5040b0" fill-opacity="0.43"/><circle cx="283.9" cy="231.7" r="0.74" fill="#5040b0" fill-opacity="0.48"/><circle cx="241.8" cy="258.1" r="0.59" fill="#5040b0" fill-opacity="0.31"/><circle cx="291.6" cy="260.8" r="0.58" fill="#5040b0" fill-opacity="0.47"/><circle cx="255.7" cy="256.2" r="0.73" fill="#5040b0" fill-opacity="0.62"/><circle cx="256.1" cy="297.7" r="0.68" fill="#5040b0" fill-opacity="0.62"/><circle cx="234.8" cy="270.7" r="0.72" fill="#5040b0" fill-opacity="0.35"/><circle cx="261.1" cy="260.3" r="0.62" fill="#5040b0" fill-opacity="0.41"/><circle cx="238.1" cy="294.9" r="0.40" fill="#5040b0" fill-opacity="0.48"/><circle cx="259.8" cy="287.0" r="0.50" fill="#5040b0" fill-opacity="0.44"/><circle cx="242.2" cy="263.7" r="0.61" fill="#5040b0" fill-opacity="0.49"/><circle cx="283.8" cy="234.5" r="0.65" fill="#5040b0" fill-opacity="0.58"/><circle cx="280.6" cy="252.5" r="0.44" fill="#5040b0" fill-opacity="0.65"/><circle cx="272.4" cy="256.3" r="0.45" fill="#5040b0" fill-opacity="0.33"/><circle cx="278.2" cy="234.6" r="0.51" fill="#5040b0" fill-opacity="0.54"/><circle cx="291.3" cy="270.5" r="0.74" fill="#5040b0" fill-opacity="0.34"/><circle cx="220.7" cy="265.6" r="0.43" fill="#5040b0" fill-opacity="0.32"/><circle cx="266.7" cy="272.4" r="0.58" fill="#5040b0" fill-opacity="0.35"/><circle cx="272.5" cy="296.1" r="0.72" fill="#5040b0" fill-opacity="0.33"/><circle cx="300.5" cy="283.7" r="0.48" fill="#5040b0" fill-opacity="0.46"/><circle cx="222.6" cy="263.4" r="1.29" fill="#5040b0" fill-opacity="0.75"/><circle cx="275.7" cy="301.4" r="0.43" fill="#5040b0" fill-opacity="0.36"/><circle cx="241.9" cy="265.6" r="0.63" fill="#5040b0" fill-opacity="0.60"/><circle cx="240.2" cy="246.2" r="0.74" fill="#5040b0" fill-opacity="0.58"/><circle cx="257.6" cy="311.0" r="0.68" fill="#5040b0" fill-opacity="0.44"/><circle cx="294.7" cy="240.5" r="0.66" fill="#5040b0" fill-opacity="0.44"/><circle cx="257.8" cy="255.2" r="0.35" fill="#5040b0" fill-opacity="0.42"/><circle cx="237.0" cy="239.8" r="0.62" fill="#5040b0" fill-opacity="0.42"/><circle cx="241.6" cy="238.4" r="0.75" fill="#5040b0" fill-opacity="0.52"/><circle cx="247.1" cy="226.6" r="1.24" fill="#5040b0" fill-opacity="0.72"/><circle cx="258.7" cy="295.5" r="0.50" fill="#5040b0" fill-opacity="0.33"/><circle cx="259.6" cy="309.8" r="0.74" fill="#5040b0" fill-opacity="0.50"/><circle cx="300.6" cy="265.7" r="1.23" fill="#5040b0" fill-opacity="0.73"/><circle cx="301.5" cy="279.1" r="0.42" fill="#5040b0" fill-opacity="0.47"/><circle cx="241.4" cy="251.5" r="0.56" fill="#5040b0" fill-opacity="0.51"/><circle cx="237.2" cy="292.5" r="0.46" fill="#5040b0" fill-opacity="0.55"/><circle cx="258.3" cy="272.1" r="0.99" fill="#5040b0" fill-opacity="0.73"/><circle cx="226.0" cy="295.0" r="1.44" fill="#5040b0" fill-opacity="0.78"/><circle cx="298.2" cy="286.1" r="0.74" fill="#5040b0" fill-opacity="0.39"/><circle cx="216.0" cy="260.5" r="0.74" fill="#5040b0" fill-opacity="0.59"/><circle cx="237.6" cy="250.1" r="0.43" fill="#5040b0" fill-opacity="0.32"/><circle cx="244.2" cy="264.2" r="0.53" fill="#5040b0" fill-opacity="0.39"/><circle cx="227.5" cy="248.6" r="0.75" fill="#5040b0" fill-opacity="0.63"/><circle cx="257.7" cy="245.1" r="0.66" fill="#5040b0" fill-opacity="0.52"/><circle cx="238.5" cy="293.1" r="0.59" fill="#5040b0" fill-opacity="0.52"/><circle cx="260.3" cy="247.4" r="0.72" fill="#5040b0" fill-opacity="0.61"/><circle cx="270.6" cy="269.7" r="0.60" fill="#5040b0" fill-opacity="0.34"/><circle cx="248.1" cy="263.9" r="0.57" fill="#5040b0" fill-opacity="0.52"/><circle cx="238.1" cy="289.3" r="0.65" fill="#5040b0" fill-opacity="0.59"/><circle cx="285.0" cy="279.7" r="0.66" fill="#5040b0" fill-opacity="0.37"/><circle cx="230.1" cy="282.3" r="0.61" fill="#5040b0" fill-opacity="0.65"/><circle cx="241.9" cy="302.1" r="0.52" fill="#5040b0" fill-opacity="0.43"/><circle cx="294.4" cy="291.1" r="1.21" fill="#5040b0" fill-opacity="0.65"/><circle cx="246.2" cy="235.3" r="1.02" fill="#5040b0" fill-opacity="0.70"/><circle cx="290.0" cy="284.0" r="0.46" fill="#5040b0" fill-opacity="0.35"/><circle cx="235.8" cy="296.9" r="1.29" fill="#5040b0" fill-opacity="0.67"/><circle cx="298.6" cy="245.3" r="0.67" fill="#5040b0" fill-opacity="0.41"/><circle cx="244.7" cy="300.5" r="0.45" fill="#5040b0" fill-opacity="0.43"/><circle cx="241.8" cy="287.3" r="0.43" fill="#5040b0" fill-opacity="0.50"/><circle cx="271.3" cy="229.4" r="0.42" fill="#5040b0" fill-opacity="0.57"/><circle cx="277.3" cy="250.8" r="0.57" fill="#5040b0" fill-opacity="0.50"/><circle cx="299.9" cy="258.4" r="1.20" fill="#5040b0" fill-opacity="0.74"/><circle cx="282.3" cy="280.1" r="0.38" fill="#5040b0" fill-opacity="0.52"/><circle cx="285.9" cy="300.2" r="0.44" fill="#5040b0" fill-opacity="0.57"/><circle cx="220.9" cy="261.7" r="0.74" fill="#5040b0" fill-opacity="0.54"/><circle cx="220.6" cy="268.6" r="0.72" fill="#5040b0" fill-opacity="0.44"/><circle cx="278.8" cy="230.5" r="0.68" fill="#5040b0" fill-opacity="0.61"/><circle cx="294.6" cy="257.6" r="0.67" fill="#5040b0" fill-opacity="0.45"/><circle cx="234.0" cy="281.1" r="0.50" fill="#5040b0" fill-opacity="0.36"/><circle cx="268.1" cy="295.1" r="0.37" fill="#5040b0" fill-opacity="0.41"/><circle cx="290.6" cy="294.0" r="0.37" fill="#5040b0" fill-opacity="0.46"/><circle cx="222.8" cy="245.4" r="1.00" fill="#5040b0" fill-opacity="0.57"/><circle cx="263.3" cy="305.0" r="0.42" fill="#5040b0" fill-opacity="0.40"/><circle cx="278.2" cy="301.6" r="0.68" fill="#5040b0" fill-opacity="0.47"/><circle cx="257.0" cy="310.7" r="0.57" fill="#5040b0" fill-opacity="0.63"/><circle cx="238.8" cy="269.3" r="0.67" fill="#5040b0" fill-opacity="0.43"/><circle cx="228.0" cy="261.4" r="0.61" fill="#5040b0" fill-opacity="0.38"/><circle cx="290.7" cy="269.1" r="0.64" fill="#5040b0" fill-opacity="0.51"/><circle cx="269.7" cy="281.9" r="0.70" fill="#5040b0" fill-opacity="0.48"/><circle cx="230.6" cy="233.0" r="0.41" fill="#5040b0" fill-opacity="0.57"/><circle cx="302.9" cy="267.4" r="0.38" fill="#5040b0" fill-opacity="0.39"/><circle cx="256.9" cy="253.3" r="0.73" fill="#5040b0" fill-opacity="0.51"/><circle cx="281.5" cy="240.0" r="0.72" fill="#5040b0" fill-opacity="0.33"/><circle cx="269.3" cy="248.8" r="0.41" fill="#5040b0" fill-opacity="0.59"/><circle cx="250.4" cy="290.2" r="0.54" fill="#5040b0" fill-opacity="0.55"/><circle cx="236.1" cy="295.8" r="0.53" fill="#5040b0" fill-opacity="0.64"/><circle cx="277.3" cy="235.1" r="0.63" fill="#5040b0" fill-opacity="0.38"/><circle cx="231.8" cy="255.1" r="0.67" fill="#5040b0" fill-opacity="0.37"/><circle cx="241.8" cy="250.8" r="0.47" fill="#5040b0" fill-opacity="0.42"/><circle cx="231.2" cy="290.0" r="0.64" fill="#5040b0" fill-opacity="0.42"/><circle cx="297.2" cy="253.6" r="0.68" fill="#5040b0" fill-opacity="0.33"/><circle cx="276.8" cy="287.7" r="0.42" fill="#5040b0" fill-opacity="0.44"/><circle cx="277.8" cy="237.4" r="0.41" fill="#5040b0" fill-opacity="0.34"/><circle cx="238.8" cy="281.0" r="0.55" fill="#5040b0" fill-opacity="0.53"/><circle cx="264.2" cy="226.5" r="0.51" fill="#5040b0" fill-opacity="0.31"/><circle cx="226.1" cy="291.3" r="0.61" fill="#5040b0" fill-opacity="0.51"/><circle cx="285.6" cy="270.0" r="0.39" fill="#5040b0" fill-opacity="0.43"/><circle cx="217.2" cy="264.5" r="0.41" fill="#5040b0" fill-opacity="0.57"/><circle cx="287.2" cy="247.9" r="0.41" fill="#5040b0" fill-opacity="0.55"/><circle cx="298.6" cy="263.8" r="0.43" fill="#5040b0" fill-opacity="0.63"/><circle cx="245.9" cy="252.7" r="0.58" fill="#5040b0" fill-opacity="0.54"/><circle cx="239.1" cy="305.1" r="0.40" fill="#5040b0" fill-opacity="0.64"/><circle cx="288.0" cy="299.2" r="0.57" fill="#5040b0" fill-opacity="0.39"/><circle cx="297.7" cy="242.8" r="0.40" fill="#5040b0" fill-opacity="0.59"/><circle cx="249.6" cy="308.4" r="0.68" fill="#5040b0" fill-opacity="0.36"/><circle cx="248.0" cy="263.3" r="0.74" fill="#5040b0" fill-opacity="0.63"/><circle cx="240.9" cy="237.9" r="0.50" fill="#5040b0" fill-opacity="0.51"/><circle cx="261.8" cy="261.6" r="0.41" fill="#5040b0" fill-opacity="0.44"/><circle cx="242.9" cy="259.1" r="0.58" fill="#5040b0" fill-opacity="0.42"/><circle cx="246.1" cy="250.0" r="0.73" fill="#5040b0" fill-opacity="0.51"/><circle cx="223.5" cy="274.0" r="0.65" fill="#5040b0" fill-opacity="0.56"/><circle cx="215.1" cy="271.0" r="0.51" fill="#5040b0" fill-opacity="0.45"/><circle cx="220.7" cy="249.8" r="0.52" fill="#5040b0" fill-opacity="0.62"/><circle cx="249.6" cy="288.4" r="0.64" fill="#5040b0" fill-opacity="0.51"/><circle cx="260.1" cy="242.2" r="0.97" fill="#5040b0" fill-opacity="0.63"/><circle cx="231.5" cy="266.5" r="0.56" fill="#5040b0" fill-opacity="0.38"/><circle cx="250.0" cy="293.5" r="1.40" fill="#5040b0" fill-opacity="0.79"/><circle cx="238.7" cy="230.9" r="0.44" fill="#5040b0" fill-opacity="0.56"/><circle cx="220.8" cy="249.6" r="0.40" fill="#5040b0" fill-opacity="0.49"/><circle cx="260.9" cy="266.7" r="0.48" fill="#5040b0" fill-opacity="0.32"/><circle cx="292.0" cy="242.1" r="0.58" fill="#5040b0" fill-opacity="0.32"/><circle cx="301.7" cy="275.3" r="0.72" fill="#5040b0" fill-opacity="0.64"/><circle cx="239.7" cy="270.5" r="0.71" fill="#5040b0" fill-opacity="0.37"/><circle cx="273.9" cy="244.2" r="0.70" fill="#5040b0" fill-opacity="0.65"/><circle cx="270.5" cy="301.2" r="0.37" fill="#5040b0" fill-opacity="0.34"/><circle cx="254.6" cy="232.6" r="0.64" fill="#5040b0" fill-opacity="0.35"/><circle cx="245.3" cy="225.9" r="1.02" fill="#5040b0" fill-opacity="0.59"/><circle cx="255.0" cy="247.7" r="0.62" fill="#5040b0" fill-opacity="0.58"/><circle cx="231.2" cy="296.5" r="0.44" fill="#5040b0" fill-opacity="0.41"/><circle cx="292.8" cy="250.7" r="0.39" fill="#5040b0" fill-opacity="0.64"/><circle cx="229.4" cy="279.0" r="1.23" fill="#5040b0" fill-opacity="0.59"/><circle cx="259.6" cy="307.3" r="0.65" fill="#5040b0" fill-opacity="0.39"/><circle cx="253.8" cy="299.8" r="0.75" fill="#5040b0" fill-opacity="0.31"/><circle cx="222.0" cy="276.3" r="0.55" fill="#5040b0" fill-opacity="0.36"/><circle cx="225.9" cy="254.5" r="0.66" fill="#5040b0" fill-opacity="0.48"/><circle cx="216.5" cy="265.5" r="0.73" fill="#5040b0" fill-opacity="0.36"/><circle cx="265.5" cy="237.2" r="0.53" fill="#5040b0" fill-opacity="0.57"/><circle cx="269.0" cy="228.0" r="0.44" fill="#5040b0" fill-opacity="0.50"/><circle cx="251.4" cy="267.1" r="0.58" fill="#5040b0" fill-opacity="0.61"/><circle cx="267.3" cy="282.9" r="0.52" fill="#5040b0" fill-opacity="0.45"/><circle cx="256.6" cy="307.1" r="0.58" fill="#5040b0" fill-opacity="0.49"/><circle cx="265.5" cy="245.8" r="0.37" fill="#5040b0" fill-opacity="0.41"/><circle cx="236.2" cy="244.5" r="0.39" fill="#5040b0" fill-opacity="0.59"/><circle cx="270.6" cy="287.0" r="0.68" fill="#5040b0" fill-opacity="0.58"/><circle cx="286.6" cy="277.8" r="0.74" fill="#5040b0" fill-opacity="0.31"/><circle cx="217.6" cy="269.8" r="0.53" fill="#5040b0" fill-opacity="0.56"/><circle cx="291.7" cy="275.0" r="0.51" fill="#5040b0" fill-opacity="0.40"/><circle cx="248.8" cy="272.7" r="0.66" fill="#5040b0" fill-opacity="0.56"/><circle cx="262.7" cy="289.5" r="0.53" fill="#5040b0" fill-opacity="0.63"/><circle cx="236.6" cy="293.7" r="0.37" fill="#5040b0" fill-opacity="0.44"/><circle cx="253.4" cy="258.2" r="0.70" fill="#5040b0" fill-opacity="0.51"/><circle cx="283.0" cy="247.0" r="0.50" fill="#5040b0" fill-opacity="0.57"/><circle cx="265.6" cy="292.9" r="0.42" fill="#5040b0" fill-opacity="0.37"/><circle cx="266.7" cy="297.0" r="0.75" fill="#5040b0" fill-opacity="0.54"/><circle cx="273.1" cy="251.5" r="1.28" fill="#5040b0" fill-opacity="0.61"/><circle cx="258.9" cy="273.1" r="0.51" fill="#5040b0" fill-opacity="0.62"/><circle cx="254.8" cy="244.2" r="0.72" fill="#5040b0" fill-opacity="0.43"/><circle cx="264.0" cy="225.3" r="1.08" fill="#5040b0" fill-opacity="0.62"/><circle cx="296.5" cy="288.1" r="0.56" fill="#5040b0" fill-opacity="0.32"/><circle cx="242.6" cy="280.6" r="0.59" fill="#5040b0" fill-opacity="0.31"/><circle cx="248.7" cy="294.1" r="0.63" fill="#5040b0" fill-opacity="0.39"/><circle cx="254.2" cy="230.7" r="0.46" fill="#5040b0" fill-opacity="0.55"/><circle cx="229.6" cy="287.5" r="0.47" fill="#5040b0" fill-opacity="0.42"/><circle cx="261.8" cy="275.9" r="0.58" fill="#5040b0" fill-opacity="0.58"/><circle cx="293.9" cy="261.7" r="0.44" fill="#5040b0" fill-opacity="0.54"/><circle cx="237.6" cy="228.4" r="0.60" fill="#5040b0" fill-opacity="0.33"/><circle cx="234.5" cy="279.4" r="0.48" fill="#5040b0" fill-opacity="0.47"/><circle cx="256.5" cy="284.6" r="0.42" fill="#5040b0" fill-opacity="0.53"/><circle cx="260.7" cy="280.7" r="0.41" fill="#5040b0" fill-opacity="0.50"/><circle cx="248.0" cy="229.3" r="1.12" fill="#5040b0" fill-opacity="0.61"/><circle cx="286.3" cy="278.0" r="0.58" fill="#5040b0" fill-opacity="0.46"/><circle cx="249.5" cy="287.1" r="0.71" fill="#5040b0" fill-opacity="0.50"/><circle cx="257.1" cy="303.7" r="0.60" fill="#5040b0" fill-opacity="0.63"/><circle cx="233.9" cy="297.3" r="0.60" fill="#5040b0" fill-opacity="0.52"/><circle cx="235.3" cy="282.4" r="0.70" fill="#5040b0" fill-opacity="0.43"/><circle cx="267.3" cy="262.3" r="0.47" fill="#5040b0" fill-opacity="0.43"/><circle cx="277.1" cy="264.5" r="0.62" fill="#5040b0" fill-opacity="0.38"/><circle cx="293.0" cy="267.2" r="0.55" fill="#5040b0" fill-opacity="0.53"/><circle cx="225.9" cy="256.4" r="0.74" fill="#5040b0" fill-opacity="0.42"/><circle cx="235.7" cy="301.8" r="0.63" fill="#5040b0" fill-opacity="0.54"/><circle cx="299.7" cy="257.8" r="0.55" fill="#5040b0" fill-opacity="0.50"/><circle cx="236.5" cy="292.0" r="0.44" fill="#5040b0" fill-opacity="0.39"/><circle cx="251.2" cy="283.9" r="0.38" fill="#5040b0" fill-opacity="0.32"/><circle cx="290.1" cy="289.6" r="0.66" fill="#5040b0" fill-opacity="0.47"/><circle cx="282.6" cy="304.2" r="1.04" fill="#5040b0" fill-opacity="0.65"/><circle cx="270.4" cy="231.9" r="0.64" fill="#5040b0" fill-opacity="0.41"/><circle cx="238.6" cy="303.6" r="0.58" fill="#5040b0" fill-opacity="0.45"/><circle cx="249.0" cy="227.9" r="0.40" fill="#5040b0" fill-opacity="0.43"/><circle cx="249.4" cy="248.1" r="1.22" fill="#5040b0" fill-opacity="0.78"/><circle cx="288.3" cy="261.7" r="0.60" fill="#5040b0" fill-opacity="0.44"/><circle cx="300.7" cy="248.8" r="0.40" fill="#5040b0" fill-opacity="0.31"/><circle cx="250.4" cy="307.9" r="0.48" fill="#5040b0" fill-opacity="0.31"/><circle cx="229.7" cy="258.7" r="0.67" fill="#5040b0" fill-opacity="0.59"/><circle cx="252.1" cy="302.8" r="0.74" fill="#5040b0" fill-opacity="0.44"/><circle cx="246.3" cy="230.0" r="0.42" fill="#5040b0" fill-opacity="0.34"/><circle cx="280.5" cy="257.9" r="0.48" fill="#5040b0" fill-opacity="0.31"/><circle cx="233.0" cy="255.2" r="0.44" fill="#5040b0" fill-opacity="0.47"/><circle cx="244.6" cy="284.1" r="1.39" fill="#5040b0" fill-opacity="0.59"/><circle cx="276.8" cy="276.1" r="0.43" fill="#5040b0" fill-opacity="0.60"/><circle cx="223.0" cy="270.7" r="0.37" fill="#5040b0" fill-opacity="0.49"/><circle cx="240.2" cy="237.4" r="0.70" fill="#5040b0" fill-opacity="0.65"/><circle cx="219.3" cy="282.1" r="0.36" fill="#5040b0" fill-opacity="0.36"/><circle cx="268.9" cy="275.3" r="0.47" fill="#5040b0" fill-opacity="0.48"/><circle cx="291.7" cy="269.1" r="1.19" fill="#5040b0" fill-opacity="0.74"/><circle cx="270.0" cy="229.8" r="0.68" fill="#5040b0" fill-opacity="0.57"/><circle cx="286.9" cy="264.6" r="0.63" fill="#5040b0" fill-opacity="0.39"/><circle cx="265.7" cy="263.3" r="0.51" fill="#5040b0" fill-opacity="0.43"/><circle cx="237.5" cy="233.2" r="0.49" fill="#5040b0" fill-opacity="0.40"/><circle cx="281.0" cy="252.7" r="0.65" fill="#5040b0" fill-opacity="0.37"/><circle cx="258.2" cy="227.6" r="0.39" fill="#5040b0" fill-opacity="0.35"/><circle cx="242.4" cy="290.9" r="0.51" fill="#5040b0" fill-opacity="0.41"/><circle cx="217.1" cy="256.8" r="0.48" fill="#5040b0" fill-opacity="0.56"/><circle cx="294.6" cy="295.1" r="0.44" fill="#5040b0" fill-opacity="0.44"/><circle cx="254.7" cy="248.7" r="0.73" fill="#5040b0" fill-opacity="0.41"/><circle cx="274.4" cy="299.8" r="0.60" fill="#5040b0" fill-opacity="0.43"/><circle cx="240.1" cy="241.9" r="0.69" fill="#5040b0" fill-opacity="0.52"/><circle cx="226.0" cy="266.0" r="0.63" fill="#5040b0" fill-opacity="0.46"/><circle cx="245.1" cy="241.9" r="0.59" fill="#5040b0" fill-opacity="0.50"/><circle cx="238.8" cy="265.0" r="0.59" fill="#5040b0" fill-opacity="0.51"/><circle cx="275.8" cy="259.7" r="0.65" fill="#5040b0" fill-opacity="0.41"/><circle cx="256.1" cy="222.4" r="0.40" fill="#5040b0" fill-opacity="0.65"/><circle cx="227.2" cy="268.8" r="0.73" fill="#5040b0" fill-opacity="0.59"/><circle cx="271.3" cy="229.9" r="1.38" fill="#5040b0" fill-opacity="0.71"/><circle cx="259.7" cy="307.4" r="0.70" fill="#5040b0" fill-opacity="0.37"/><circle cx="253.2" cy="302.5" r="0.66" fill="#5040b0" fill-opacity="0.47"/><circle cx="262.1" cy="309.8" r="0.57" fill="#5040b0" fill-opacity="0.62"/><circle cx="264.9" cy="250.2" r="0.92" fill="#5040b0" fill-opacity="0.60"/><circle cx="287.0" cy="236.2" r="0.51" fill="#5040b0" fill-opacity="0.60"/><circle cx="228.2" cy="238.3" r="0.43" fill="#5040b0" fill-opacity="0.52"/><circle cx="287.3" cy="240.1" r="0.52" fill="#5040b0" fill-opacity="0.31"/><circle cx="241.2" cy="296.5" r="0.59" fill="#5040b0" fill-opacity="0.54"/><circle cx="271.9" cy="293.0" r="0.40" fill="#5040b0" fill-opacity="0.34"/><circle cx="292.6" cy="254.3" r="0.75" fill="#5040b0" fill-opacity="0.54"/><circle cx="257.5" cy="240.1" r="0.41" fill="#5040b0" fill-opacity="0.52"/><circle cx="223.6" cy="285.6" r="0.55" fill="#5040b0" fill-opacity="0.63"/><circle cx="238.4" cy="298.0" r="0.46" fill="#5040b0" fill-opacity="0.61"/><circle cx="250.0" cy="309.3" r="0.72" fill="#5040b0" fill-opacity="0.44"/><circle cx="258.4" cy="232.1" r="1.13" fill="#5040b0" fill-opacity="0.58"/><circle cx="218.9" cy="283.0" r="0.62" fill="#5040b0" fill-opacity="0.39"/><circle cx="235.4" cy="282.2" r="0.52" fill="#5040b0" fill-opacity="0.42"/><circle cx="277.6" cy="229.5" r="0.39" fill="#5040b0" fill-opacity="0.61"/><circle cx="282.9" cy="281.3" r="0.62" fill="#5040b0" fill-opacity="0.42"/><circle cx="295.0" cy="240.8" r="0.54" fill="#5040b0" fill-opacity="0.43"/><circle cx="225.8" cy="274.7" r="0.74" fill="#5040b0" fill-opacity="0.64"/><circle cx="296.5" cy="265.3" r="0.63" fill="#5040b0" fill-opacity="0.65"/><circle cx="287.8" cy="279.4" r="0.44" fill="#5040b0" fill-opacity="0.65"/><circle cx="266.8" cy="293.5" r="0.65" fill="#5040b0" fill-opacity="0.33"/><circle cx="280.3" cy="302.5" r="0.45" fill="#5040b0" fill-opacity="0.58"/><circle cx="255.1" cy="227.6" r="0.36" fill="#5040b0" fill-opacity="0.60"/><circle cx="299.9" cy="252.5" r="0.56" fill="#5040b0" fill-opacity="0.49"/><circle cx="290.5" cy="292.7" r="0.40" fill="#5040b0" fill-opacity="0.50"/><circle cx="269.0" cy="276.7" r="0.66" fill="#5040b0" fill-opacity="0.39"/><circle cx="250.9" cy="272.4" r="0.57" fill="#5040b0" fill-opacity="0.46"/><circle cx="276.0" cy="244.9" r="0.74" fill="#5040b0" fill-opacity="0.48"/><circle cx="226.2" cy="289.4" r="0.52" fill="#5040b0" fill-opacity="0.30"/><circle cx="284.3" cy="302.4" r="0.41" fill="#5040b0" fill-opacity="0.49"/><circle cx="274.6" cy="269.7" r="0.61" fill="#5040b0" fill-opacity="0.60"/><circle cx="287.7" cy="275.3" r="0.39" fill="#5040b0" fill-opacity="0.62"/><circle cx="241.6" cy="300.8" r="0.73" fill="#5040b0" fill-opacity="0.50"/><circle cx="217.1" cy="266.7" r="0.65" fill="#5040b0" fill-opacity="0.39"/><circle cx="240.0" cy="288.8" r="0.52" fill="#5040b0" fill-opacity="0.46"/><circle cx="299.0" cy="279.6" r="0.57" fill="#5040b0" fill-opacity="0.44"/><circle cx="262.3" cy="281.0" r="0.54" fill="#5040b0" fill-opacity="0.38"/><circle cx="259.7" cy="235.6" r="0.74" fill="#5040b0" fill-opacity="0.30"/><circle cx="223.1" cy="242.6" r="0.50" fill="#5040b0" fill-opacity="0.41"/><circle cx="233.1" cy="245.1" r="0.56" fill="#5040b0" fill-opacity="0.56"/><circle cx="272.8" cy="271.5" r="0.67" fill="#5040b0" fill-opacity="0.45"/><circle cx="278.1" cy="245.0" r="0.38" fill="#5040b0" fill-opacity="0.64"/><circle cx="272.5" cy="244.5" r="0.67" fill="#5040b0" fill-opacity="0.52"/><circle cx="296.7" cy="280.7" r="0.57" fill="#5040b0" fill-opacity="0.62"/><circle cx="247.3" cy="252.1" r="0.58" fill="#5040b0" fill-opacity="0.30"/><circle cx="256.8" cy="230.0" r="0.72" fill="#5040b0" fill-opacity="0.33"/><circle cx="267.2" cy="230.2" r="0.53" fill="#5040b0" fill-opacity="0.45"/><circle cx="285.7" cy="290.6" r="0.96" fill="#5040b0" fill-opacity="0.75"/><circle cx="243.1" cy="238.2" r="1.07" fill="#5040b0" fill-opacity="0.79"/><circle cx="219.7" cy="251.0" r="0.56" fill="#5040b0" fill-opacity="0.59"/><circle cx="289.9" cy="296.4" r="1.14" fill="#5040b0" fill-opacity="0.61"/><circle cx="240.0" cy="228.5" r="0.51" fill="#5040b0" fill-opacity="0.57"/><circle cx="290.5" cy="290.8" r="0.43" fill="#5040b0" fill-opacity="0.42"/><circle cx="273.6" cy="289.8" r="0.51" fill="#5040b0" fill-opacity="0.50"/><circle cx="274.6" cy="244.5" r="0.74" fill="#5040b0" fill-opacity="0.41"/><circle cx="252.8" cy="246.4" r="0.58" fill="#5040b0" fill-opacity="0.39"/><circle cx="297.4" cy="283.0" r="0.52" fill="#5040b0" fill-opacity="0.52"/><circle cx="218.2" cy="250.6" r="0.54" fill="#5040b0" fill-opacity="0.38"/><circle cx="260.1" cy="252.6" r="0.36" fill="#5040b0" fill-opacity="0.54"/><circle cx="229.4" cy="253.1" r="0.73" fill="#5040b0" fill-opacity="0.57"/><circle cx="269.1" cy="241.7" r="0.43" fill="#5040b0" fill-opacity="0.49"/><circle cx="238.1" cy="249.0" r="0.71" fill="#5040b0" fill-opacity="0.62"/><circle cx="246.4" cy="233.6" r="0.47" fill="#5040b0" fill-opacity="0.60"/><circle cx="256.5" cy="244.1" r="1.20" fill="#5040b0" fill-opacity="0.58"/><circle cx="253.8" cy="288.8" r="0.46" fill="#5040b0" fill-opacity="0.40"/><circle cx="253.2" cy="305.2" r="0.69" fill="#5040b0" fill-opacity="0.60"/><circle cx="229.4" cy="242.0" r="0.61" fill="#5040b0" fill-opacity="0.62"/><circle cx="263.5" cy="244.3" r="0.50" fill="#5040b0" fill-opacity="0.58"/><circle cx="263.0" cy="297.1" r="0.73" fill="#5040b0" fill-opacity="0.48"/><circle cx="235.5" cy="256.3" r="0.39" fill="#5040b0" fill-opacity="0.63"/><circle cx="246.0" cy="246.0" r="1.21" fill="#5040b0" fill-opacity="0.54"/><circle cx="294.5" cy="264.6" r="1.27" fill="#5040b0" fill-opacity="0.52"/><circle cx="298.9" cy="274.4" r="0.69" fill="#5040b0" fill-opacity="0.57"/><circle cx="247.5" cy="265.3" r="0.56" fill="#5040b0" fill-opacity="0.42"/><circle cx="228.4" cy="267.2" r="0.54" fill="#5040b0" fill-opacity="0.33"/><circle cx="220.4" cy="270.2" r="0.40" fill="#5040b0" fill-opacity="0.41"/><circle cx="238.5" cy="302.7" r="0.73" fill="#5040b0" fill-opacity="0.62"/><circle cx="287.3" cy="233.2" r="0.59" fill="#5040b0" fill-opacity="0.54"/><circle cx="229.2" cy="240.7" r="1.19" fill="#5040b0" fill-opacity="0.79"/><circle cx="287.1" cy="272.5" r="0.36" fill="#5040b0" fill-opacity="0.31"/><circle cx="277.8" cy="234.3" r="0.65" fill="#5040b0" fill-opacity="0.58"/><circle cx="284.8" cy="267.1" r="0.68" fill="#5040b0" fill-opacity="0.44"/><circle cx="246.3" cy="289.8" r="0.45" fill="#5040b0" fill-opacity="0.50"/><circle cx="224.9" cy="261.2" r="0.44" fill="#5040b0" fill-opacity="0.61"/><circle cx="267.7" cy="282.6" r="0.66" fill="#5040b0" fill-opacity="0.42"/><circle cx="262.5" cy="303.3" r="0.45" fill="#5040b0" fill-opacity="0.61"/><circle cx="268.5" cy="286.9" r="0.64" fill="#5040b0" fill-opacity="0.54"/><circle cx="268.1" cy="235.0" r="0.45" fill="#5040b0" fill-opacity="0.38"/><circle cx="221.4" cy="289.9" r="0.71" fill="#5040b0" fill-opacity="0.65"/><circle cx="237.8" cy="285.9" r="0.49" fill="#5040b0" fill-opacity="0.58"/><circle cx="242.3" cy="283.6" r="0.54" fill="#5040b0" fill-opacity="0.59"/><circle cx="291.5" cy="269.8" r="1.40" fill="#5040b0" fill-opacity="0.54"/><circle cx="271.9" cy="309.0" r="0.49" fill="#5040b0" fill-opacity="0.63"/><circle cx="286.1" cy="299.5" r="0.40" fill="#5040b0" fill-opacity="0.54"/><circle cx="290.9" cy="238.8" r="0.50" fill="#5040b0" fill-opacity="0.34"/><circle cx="253.6" cy="310.1" r="0.49" fill="#5040b0" fill-opacity="0.32"/><circle cx="253.1" cy="285.0" r="0.57" fill="#5040b0" fill-opacity="0.50"/><circle cx="262.9" cy="228.0" r="1.02" fill="#5040b0" fill-opacity="0.52"/><circle cx="244.4" cy="306.5" r="0.41" fill="#5040b0" fill-opacity="0.42"/><circle cx="228.6" cy="252.7" r="0.53" fill="#5040b0" fill-opacity="0.51"/><circle cx="277.3" cy="241.7" r="0.74" fill="#5040b0" fill-opacity="0.31"/><circle cx="262.1" cy="238.6" r="0.42" fill="#5040b0" fill-opacity="0.56"/><circle cx="261.4" cy="273.1" r="0.55" fill="#5040b0" fill-opacity="0.53"/><circle cx="241.1" cy="271.2" r="0.37" fill="#5040b0" fill-opacity="0.39"/><circle cx="239.8" cy="248.4" r="0.48" fill="#5040b0" fill-opacity="0.42"/><circle cx="285.4" cy="244.1" r="0.53" fill="#5040b0" fill-opacity="0.42"/><circle cx="287.8" cy="250.1" r="0.70" fill="#5040b0" fill-opacity="0.36"/><circle cx="215.3" cy="264.5" r="0.64" fill="#5040b0" fill-opacity="0.38"/><circle cx="233.9" cy="252.0" r="0.39" fill="#5040b0" fill-opacity="0.54"/><circle cx="240.6" cy="294.6" r="0.56" fill="#5040b0" fill-opacity="0.43"/><circle cx="291.6" cy="267.3" r="0.60" fill="#5040b0" fill-opacity="0.46"/><circle cx="286.7" cy="284.0" r="0.74" fill="#5040b0" fill-opacity="0.40"/><circle cx="235.4" cy="276.2" r="0.68" fill="#5040b0" fill-opacity="0.58"/><circle cx="258.6" cy="309.7" r="0.57" fill="#5040b0" fill-opacity="0.63"/><circle cx="228.7" cy="269.0" r="0.55" fill="#5040b0" fill-opacity="0.42"/><circle cx="270.4" cy="297.3" r="0.74" fill="#5040b0" fill-opacity="0.62"/><circle cx="242.9" cy="227.7" r="0.67" fill="#5040b0" fill-opacity="0.36"/><circle cx="269.7" cy="244.2" r="0.36" fill="#5040b0" fill-opacity="0.48"/><circle cx="236.2" cy="302.6" r="0.72" fill="#5040b0" fill-opacity="0.53"/><circle cx="293.6" cy="281.5" r="0.70" fill="#5040b0" fill-opacity="0.41"/><circle cx="276.1" cy="305.2" r="0.60" fill="#5040b0" fill-opacity="0.34"/><circle cx="256.3" cy="243.2" r="0.66" fill="#5040b0" fill-opacity="0.61"/><circle cx="219.6" cy="248.3" r="0.50" fill="#5040b0" fill-opacity="0.42"/><circle cx="289.7" cy="271.3" r="0.61" fill="#5040b0" fill-opacity="0.57"/><circle cx="248.8" cy="236.6" r="0.42" fill="#5040b0" fill-opacity="0.53"/><circle cx="242.8" cy="226.8" r="0.71" fill="#5040b0" fill-opacity="0.40"/><circle cx="298.5" cy="255.0" r="0.48" fill="#5040b0" fill-opacity="0.40"/><circle cx="228.7" cy="262.6" r="0.56" fill="#5040b0" fill-opacity="0.47"/><circle cx="259.1" cy="244.5" r="0.45" fill="#5040b0" fill-opacity="0.41"/><circle cx="269.2" cy="271.4" r="0.73" fill="#5040b0" fill-opacity="0.52"/><circle cx="235.2" cy="281.7" r="0.73" fill="#5040b0" fill-opacity="0.34"/><circle cx="222.1" cy="283.9" r="0.61" fill="#5040b0" fill-opacity="0.63"/><circle cx="278.3" cy="254.0" r="0.56" fill="#5040b0" fill-opacity="0.37"/><circle cx="260.9" cy="256.3" r="0.46" fill="#5040b0" fill-opacity="0.55"/><circle cx="254.8" cy="232.4" r="0.63" fill="#5040b0" fill-opacity="0.46"/><circle cx="246.5" cy="273.0" r="0.71" fill="#5040b0" fill-opacity="0.32"/><circle cx="290.3" cy="281.6" r="0.40" fill="#5040b0" fill-opacity="0.45"/><circle cx="225.1" cy="249.8" r="0.62" fill="#5040b0" fill-opacity="0.52"/><circle cx="296.2" cy="277.9" r="1.16" fill="#5040b0" fill-opacity="0.51"/><circle cx="285.1" cy="279.4" r="1.42" fill="#5040b0" fill-opacity="0.76"/><circle cx="225.5" cy="269.9" r="0.40" fill="#5040b0" fill-opacity="0.41"/><circle cx="267.5" cy="308.2" r="0.51" fill="#5040b0" fill-opacity="0.61"/><circle cx="257.9" cy="309.7" r="0.50" fill="#5040b0" fill-opacity="0.45"/><circle cx="226.4" cy="277.2" r="0.47" fill="#5040b0" fill-opacity="0.57"/><circle cx="223.2" cy="277.6" r="0.50" fill="#5040b0" fill-opacity="0.61"/><circle cx="299.3" cy="261.1" r="0.65" fill="#5040b0" fill-opacity="0.40"/><circle cx="252.6" cy="223.1" r="0.52" fill="#5040b0" fill-opacity="0.53"/><circle cx="265.8" cy="306.0" r="0.49" fill="#5040b0" fill-opacity="0.55"/><circle cx="296.8" cy="270.9" r="0.60" fill="#5040b0" fill-opacity="0.38"/><circle cx="223.8" cy="293.7" r="0.37" fill="#5040b0" fill-opacity="0.50"/><circle cx="277.7" cy="229.9" r="0.63" fill="#5040b0" fill-opacity="0.57"/><circle cx="259.1" cy="232.8" r="0.57" fill="#5040b0" fill-opacity="0.49"/><circle cx="288.8" cy="264.6" r="0.64" fill="#5040b0" fill-opacity="0.63"/><circle cx="254.7" cy="300.5" r="0.42" fill="#5040b0" fill-opacity="0.52"/><circle cx="288.6" cy="244.3" r="0.52" fill="#5040b0" fill-opacity="0.35"/><circle cx="235.8" cy="248.2" r="0.58" fill="#5040b0" fill-opacity="0.63"/><circle cx="236.3" cy="298.3" r="0.63" fill="#5040b0" fill-opacity="0.54"/><circle cx="273.0" cy="242.6" r="0.56" fill="#5040b0" fill-opacity="0.31"/><circle cx="234.1" cy="292.9" r="0.70" fill="#5040b0" fill-opacity="0.63"/><circle cx="259.9" cy="286.0" r="1.34" fill="#5040b0" fill-opacity="0.72"/><circle cx="256.4" cy="305.3" r="1.35" fill="#5040b0" fill-opacity="0.76"/><circle cx="269.9" cy="307.4" r="0.70" fill="#5040b0" fill-opacity="0.38"/><circle cx="235.0" cy="271.1" r="0.58" fill="#5040b0" fill-opacity="0.51"/><circle cx="281.0" cy="265.3" r="0.41" fill="#5040b0" fill-opacity="0.64"/><circle cx="243.7" cy="292.1" r="0.72" fill="#5040b0" fill-opacity="0.54"/><circle cx="276.8" cy="298.6" r="0.70" fill="#5040b0" fill-opacity="0.61"/><circle cx="263.8" cy="293.9" r="0.37" fill="#5040b0" fill-opacity="0.54"/><circle cx="298.0" cy="282.8" r="0.39" fill="#5040b0" fill-opacity="0.32"/><circle cx="232.8" cy="302.8" r="0.38" fill="#5040b0" fill-opacity="0.34"/><circle cx="297.1" cy="271.9" r="0.62" fill="#5040b0" fill-opacity="0.54"/><circle cx="246.3" cy="294.6" r="0.49" fill="#5040b0" fill-opacity="0.43"/><circle cx="260.0" cy="291.3" r="1.07" fill="#5040b0" fill-opacity="0.68"/><circle cx="256.6" cy="294.7" r="0.55" fill="#5040b0" fill-opacity="0.41"/><circle cx="291.9" cy="239.5" r="0.63" fill="#5040b0" fill-opacity="0.48"/><circle cx="235.8" cy="281.6" r="0.56" fill="#5040b0" fill-opacity="0.49"/><circle cx="270.1" cy="225.7" r="1.07" fill="#5040b0" fill-opacity="0.51"/><circle cx="270.0" cy="233.1" r="0.70" fill="#5040b0" fill-opacity="0.59"/><circle cx="243.1" cy="229.1" r="0.51" fill="#5040b0" fill-opacity="0.49"/><circle cx="292.7" cy="236.3" r="0.38" fill="#5040b0" fill-opacity="0.39"/><circle cx="292.5" cy="261.0" r="0.69" fill="#5040b0" fill-opacity="0.48"/><circle cx="285.3" cy="265.5" r="0.98" fill="#5040b0" fill-opacity="0.62"/><circle cx="250.3" cy="255.5" r="0.52" fill="#5040b0" fill-opacity="0.57"/><circle cx="231.1" cy="248.3" r="0.71" fill="#5040b0" fill-opacity="0.54"/><circle cx="266.1" cy="296.4" r="0.58" fill="#5040b0" fill-opacity="0.52"/><circle cx="291.9" cy="270.6" r="0.38" fill="#5040b0" fill-opacity="0.57"/><circle cx="237.7" cy="305.1" r="1.25" fill="#5040b0" fill-opacity="0.58"/><circle cx="276.4" cy="228.5" r="0.92" fill="#5040b0" fill-opacity="0.74"/><circle cx="272.7" cy="282.6" r="0.54" fill="#5040b0" fill-opacity="0.64"/><circle cx="245.4" cy="297.1" r="0.60" fill="#5040b0" fill-opacity="0.52"/><circle cx="268.5" cy="263.3" r="0.68" fill="#5040b0" fill-opacity="0.39"/><circle cx="255.6" cy="248.1" r="0.45" fill="#5040b0" fill-opacity="0.40"/><circle cx="292.0" cy="248.7" r="0.44" fill="#5040b0" fill-opacity="0.40"/><circle cx="283.2" cy="232.5" r="0.60" fill="#5040b0" fill-opacity="0.43"/><circle cx="253.4" cy="236.0" r="0.50" fill="#5040b0" fill-opacity="0.49"/><circle cx="279.4" cy="273.2" r="0.48" fill="#5040b0" fill-opacity="0.35"/><circle cx="223.9" cy="243.4" r="0.55" fill="#5040b0" fill-opacity="0.57"/><circle cx="239.7" cy="258.3" r="0.38" fill="#5040b0" fill-opacity="0.60"/><circle cx="279.0" cy="271.1" r="0.60" fill="#5040b0" fill-opacity="0.56"/><circle cx="262.5" cy="228.8" r="0.41" fill="#5040b0" fill-opacity="0.36"/><circle cx="279.8" cy="271.8" r="0.38" fill="#5040b0" fill-opacity="0.32"/><circle cx="282.8" cy="233.9" r="0.96" fill="#5040b0" fill-opacity="0.59"/><circle cx="265.3" cy="281.0" r="0.42" fill="#5040b0" fill-opacity="0.36"/><circle cx="233.0" cy="260.9" r="0.55" fill="#5040b0" fill-opacity="0.44"/><circle cx="238.0" cy="270.6" r="0.48" fill="#5040b0" fill-opacity="0.30"/><circle cx="286.1" cy="244.6" r="0.73" fill="#5040b0" fill-opacity="0.35"/><circle cx="231.7" cy="292.3" r="0.71" fill="#5040b0" fill-opacity="0.31"/><circle cx="252.5" cy="300.5" r="0.63" fill="#5040b0" fill-opacity="0.62"/><circle cx="274.3" cy="300.7" r="0.40" fill="#5040b0" fill-opacity="0.64"/><circle cx="257.3" cy="225.2" r="0.73" fill="#5040b0" fill-opacity="0.61"/><circle cx="221.0" cy="246.6" r="0.61" fill="#5040b0" fill-opacity="0.64"/><circle cx="277.6" cy="289.5" r="0.66" fill="#5040b0" fill-opacity="0.32"/><circle cx="243.4" cy="249.8" r="0.43" fill="#5040b0" fill-opacity="0.46"/><circle cx="287.7" cy="232.1" r="0.63" fill="#5040b0" fill-opacity="0.37"/><circle cx="271.6" cy="250.7" r="0.35" fill="#5040b0" fill-opacity="0.30"/><circle cx="285.6" cy="267.3" r="0.61" fill="#5040b0" fill-opacity="0.32"/><circle cx="255.3" cy="245.8" r="0.69" fill="#5040b0" fill-opacity="0.63"/><circle cx="237.6" cy="279.1" r="0.65" fill="#5040b0" fill-opacity="0.46"/><circle cx="248.1" cy="239.7" r="0.43" fill="#5040b0" fill-opacity="0.52"/><circle cx="264.3" cy="274.2" r="0.64" fill="#5040b0" fill-opacity="0.50"/><circle cx="239.6" cy="227.6" r="0.92" fill="#5040b0" fill-opacity="0.64"/><circle cx="276.6" cy="233.8" r="0.50" fill="#5040b0" fill-opacity="0.34"/><circle cx="255.3" cy="261.4" r="0.99" fill="#5040b0" fill-opacity="0.52"/><circle cx="231.8" cy="261.4" r="0.49" fill="#5040b0" fill-opacity="0.34"/><circle cx="239.9" cy="230.1" r="0.58" fill="#5040b0" fill-opacity="0.60"/><circle cx="240.2" cy="227.1" r="0.60" fill="#5040b0" fill-opacity="0.46"/><circle cx="290.8" cy="269.1" r="0.55" fill="#5040b0" fill-opacity="0.48"/><circle cx="286.7" cy="277.4" r="0.75" fill="#5040b0" fill-opacity="0.58"/><circle cx="252.3" cy="296.4" r="0.51" fill="#5040b0" fill-opacity="0.62"/><circle cx="231.6" cy="269.9" r="0.75" fill="#5040b0" fill-opacity="0.32"/><circle cx="239.0" cy="282.2" r="0.41" fill="#5040b0" fill-opacity="0.45"/><circle cx="228.3" cy="243.5" r="0.50" fill="#5040b0" fill-opacity="0.61"/><circle cx="263.7" cy="283.4" r="0.40" fill="#5040b0" fill-opacity="0.35"/><circle cx="289.9" cy="242.2" r="0.44" fill="#5040b0" fill-opacity="0.46"/><circle cx="241.4" cy="252.7" r="0.41" fill="#5040b0" fill-opacity="0.57"/><circle cx="276.7" cy="280.8" r="0.71" fill="#5040b0" fill-opacity="0.58"/><circle cx="266.0" cy="288.9" r="0.47" fill="#5040b0" fill-opacity="0.62"/><circle cx="269.2" cy="301.9" r="0.73" fill="#5040b0" fill-opacity="0.52"/><circle cx="241.9" cy="304.9" r="0.37" fill="#5040b0" fill-opacity="0.48"/><circle cx="285.0" cy="297.3" r="0.45" fill="#5040b0" fill-opacity="0.49"/><circle cx="247.3" cy="294.7" r="0.48" fill="#5040b0" fill-opacity="0.45"/><circle cx="247.2" cy="230.8" r="0.95" fill="#5040b0" fill-opacity="0.55"/><circle cx="277.7" cy="232.8" r="0.50" fill="#5040b0" fill-opacity="0.36"/><circle cx="294.4" cy="261.4" r="0.59" fill="#5040b0" fill-opacity="0.51"/><circle cx="264.9" cy="227.0" r="0.51" fill="#5040b0" fill-opacity="0.53"/><circle cx="239.5" cy="287.5" r="0.49" fill="#5040b0" fill-opacity="0.42"/><circle cx="284.3" cy="231.8" r="0.50" fill="#5040b0" fill-opacity="0.52"/><circle cx="259.7" cy="292.3" r="0.72" fill="#5040b0" fill-opacity="0.41"/><circle cx="248.7" cy="277.7" r="0.71" fill="#5040b0" fill-opacity="0.33"/><circle cx="258.7" cy="306.2" r="0.49" fill="#5040b0" fill-opacity="0.47"/><circle cx="267.1" cy="290.2" r="0.64" fill="#5040b0" fill-opacity="0.31"/><circle cx="233.9" cy="236.1" r="0.40" fill="#5040b0" fill-opacity="0.33"/><circle cx="269.0" cy="233.3" r="0.59" fill="#5040b0" fill-opacity="0.41"/><circle cx="288.4" cy="273.3" r="0.49" fill="#5040b0" fill-opacity="0.62"/><circle cx="282.9" cy="241.9" r="0.39" fill="#5040b0" fill-opacity="0.50"/><circle cx="271.1" cy="274.9" r="0.75" fill="#5040b0" fill-opacity="0.50"/><circle cx="295.4" cy="240.2" r="0.54" fill="#5040b0" fill-opacity="0.57"/><circle cx="251.2" cy="251.4" r="0.56" fill="#5040b0" fill-opacity="0.55"/><circle cx="245.0" cy="230.1" r="0.39" fill="#5040b0" fill-opacity="0.35"/><circle cx="288.6" cy="275.8" r="0.53" fill="#5040b0" fill-opacity="0.46"/><circle cx="228.6" cy="253.6" r="0.69" fill="#5040b0" fill-opacity="0.58"/><circle cx="293.2" cy="267.2" r="0.38" fill="#5040b0" fill-opacity="0.39"/><circle cx="264.6" cy="227.2" r="0.56" fill="#5040b0" fill-opacity="0.37"/><circle cx="227.4" cy="274.8" r="0.98" fill="#5040b0" fill-opacity="0.56"/><circle cx="226.3" cy="260.0" r="0.68" fill="#5040b0" fill-opacity="0.43"/><circle cx="283.2" cy="303.3" r="0.65" fill="#5040b0" fill-opacity="0.59"/><circle cx="278.8" cy="259.1" r="0.44" fill="#5040b0" fill-opacity="0.62"/><circle cx="286.0" cy="250.4" r="0.45" fill="#5040b0" fill-opacity="0.53"/><circle cx="252.4" cy="228.1" r="0.54" fill="#5040b0" fill-opacity="0.43"/><circle cx="220.1" cy="278.5" r="0.58" fill="#5040b0" fill-opacity="0.35"/><circle cx="286.7" cy="274.8" r="0.94" fill="#5040b0" fill-opacity="0.63"/><circle cx="298.4" cy="252.4" r="0.50" fill="#5040b0" fill-opacity="0.41"/><circle cx="286.0" cy="297.4" r="0.42" fill="#5040b0" fill-opacity="0.34"/><circle cx="299.0" cy="270.7" r="0.67" fill="#5040b0" fill-opacity="0.33"/><circle cx="272.9" cy="299.4" r="0.47" fill="#5040b0" fill-opacity="0.46"/><circle cx="236.5" cy="297.1" r="0.67" fill="#5040b0" fill-opacity="0.62"/><circle cx="223.9" cy="240.6" r="0.75" fill="#5040b0" fill-opacity="0.37"/><circle cx="265.1" cy="252.2" r="0.69" fill="#5040b0" fill-opacity="0.54"/><circle cx="272.4" cy="309.1" r="0.37" fill="#5040b0" fill-opacity="0.40"/><circle cx="250.1" cy="302.8" r="0.68" fill="#5040b0" fill-opacity="0.32"/><circle cx="260.9" cy="305.5" r="0.38" fill="#5040b0" fill-opacity="0.32"/><circle cx="231.5" cy="284.4" r="0.47" fill="#5040b0" fill-opacity="0.31"/><circle cx="247.9" cy="243.8" r="0.46" fill="#5040b0" fill-opacity="0.32"/><circle cx="252.8" cy="290.5" r="1.16" fill="#5040b0" fill-opacity="0.51"/><circle cx="279.4" cy="248.4" r="0.36" fill="#5040b0" fill-opacity="0.34"/><circle cx="267.2" cy="234.3" r="0.65" fill="#5040b0" fill-opacity="0.48"/><circle cx="271.2" cy="225.3" r="0.62" fill="#5040b0" fill-opacity="0.46"/><circle cx="226.4" cy="259.9" r="0.69" fill="#5040b0" fill-opacity="0.32"/><circle cx="260.3" cy="231.7" r="0.37" fill="#5040b0" fill-opacity="0.47"/><circle cx="228.8" cy="297.9" r="0.41" fill="#5040b0" fill-opacity="0.56"/><circle cx="221.4" cy="269.6" r="0.35" fill="#5040b0" fill-opacity="0.38"/><circle cx="255.3" cy="223.5" r="0.38" fill="#5040b0" fill-opacity="0.55"/><circle cx="257.0" cy="242.9" r="0.36" fill="#5040b0" fill-opacity="0.47"/><circle cx="245.5" cy="290.3" r="0.40" fill="#5040b0" fill-opacity="0.46"/><circle cx="254.4" cy="303.5" r="0.51" fill="#5040b0" fill-opacity="0.47"/><circle cx="223.0" cy="282.9" r="0.71" fill="#5040b0" fill-opacity="0.59"/><circle cx="262.9" cy="289.0" r="0.59" fill="#5040b0" fill-opacity="0.42"/><circle cx="285.0" cy="265.7" r="1.02" fill="#5040b0" fill-opacity="0.72"/><circle cx="264.8" cy="259.3" r="0.66" fill="#5040b0" fill-opacity="0.61"/><circle cx="257.6" cy="294.2" r="0.64" fill="#5040b0" fill-opacity="0.47"/><circle cx="259.1" cy="227.6" r="0.56" fill="#5040b0" fill-opacity="0.53"/><circle cx="243.7" cy="299.1" r="0.43" fill="#5040b0" fill-opacity="0.38"/><circle cx="303.0" cy="256.0" r="0.69" fill="#5040b0" fill-opacity="0.59"/><circle cx="236.6" cy="256.7" r="0.69" fill="#5040b0" fill-opacity="0.32"/><circle cx="295.5" cy="281.5" r="0.75" fill="#5040b0" fill-opacity="0.46"/><circle cx="241.3" cy="230.3" r="0.61" fill="#5040b0" fill-opacity="0.32"/><circle cx="293.8" cy="242.4" r="0.43" fill="#5040b0" fill-opacity="0.46"/><circle cx="245.8" cy="236.8" r="1.12" fill="#5040b0" fill-opacity="0.57"/><circle cx="262.9" cy="288.0" r="0.72" fill="#5040b0" fill-opacity="0.54"/><circle cx="303.1" cy="272.7" r="0.60" fill="#5040b0" fill-opacity="0.42"/><circle cx="246.5" cy="288.3" r="1.27" fill="#5040b0" fill-opacity="0.77"/><circle cx="240.0" cy="231.9" r="0.68" fill="#5040b0" fill-opacity="0.65"/><circle cx="242.7" cy="271.5" r="0.70" fill="#5040b0" fill-opacity="0.51"/><circle cx="250.8" cy="277.5" r="0.74" fill="#5040b0" fill-opacity="0.51"/><circle cx="285.4" cy="233.0" r="0.71" fill="#5040b0" fill-opacity="0.44"/><circle cx="285.5" cy="268.8" r="0.51" fill="#5040b0" fill-opacity="0.40"/><circle cx="254.7" cy="253.9" r="0.40" fill="#5040b0" fill-opacity="0.51"/><circle cx="224.2" cy="285.8" r="0.43" fill="#5040b0" fill-opacity="0.49"/><circle cx="260.6" cy="272.3" r="0.47" fill="#5040b0" fill-opacity="0.47"/><circle cx="236.9" cy="263.5" r="1.09" fill="#5040b0" fill-opacity="0.59"/><circle cx="276.8" cy="228.1" r="0.70" fill="#5040b0" fill-opacity="0.56"/><circle cx="286.9" cy="276.8" r="0.75" fill="#5040b0" fill-opacity="0.57"/><circle cx="281.6" cy="300.2" r="0.40" fill="#5040b0" fill-opacity="0.64"/><circle cx="226.2" cy="264.8" r="0.38" fill="#5040b0" fill-opacity="0.53"/><circle cx="258.6" cy="288.0" r="0.48" fill="#5040b0" fill-opacity="0.53"/><circle cx="297.0" cy="241.8" r="0.45" fill="#5040b0" fill-opacity="0.59"/><circle cx="288.9" cy="285.3" r="1.42" fill="#5040b0" fill-opacity="0.54"/><circle cx="253.2" cy="235.0" r="0.37" fill="#5040b0" fill-opacity="0.61"/><circle cx="273.1" cy="238.2" r="1.28" fill="#5040b0" fill-opacity="0.51"/><circle cx="216.2" cy="259.8" r="1.30" fill="#5040b0" fill-opacity="0.71"/><circle cx="241.0" cy="301.7" r="0.56" fill="#5040b0" fill-opacity="0.40"/><circle cx="250.0" cy="308.3" r="0.50" fill="#5040b0" fill-opacity="0.37"/><circle cx="304.5" cy="267.4" r="0.59" fill="#5040b0" fill-opacity="0.32"/><circle cx="271.9" cy="286.8" r="0.73" fill="#5040b0" fill-opacity="0.40"/><circle cx="262.1" cy="288.0" r="1.17" fill="#5040b0" fill-opacity="0.63"/><circle cx="230.2" cy="299.4" r="0.56" fill="#5040b0" fill-opacity="0.34"/><circle cx="299.5" cy="274.5" r="1.29" fill="#5040b0" fill-opacity="0.57"/><circle cx="243.2" cy="227.1" r="0.41" fill="#5040b0" fill-opacity="0.64"/><circle cx="297.2" cy="245.2" r="1.10" fill="#5040b0" fill-opacity="0.77"/><circle cx="282.2" cy="277.0" r="0.49" fill="#5040b0" fill-opacity="0.33"/><circle cx="247.3" cy="283.0" r="0.61" fill="#5040b0" fill-opacity="0.33"/><circle cx="249.4" cy="264.7" r="0.45" fill="#5040b0" fill-opacity="0.59"/><circle cx="261.2" cy="303.6" r="1.20" fill="#5040b0" fill-opacity="0.66"/><circle cx="250.1" cy="223.6" r="0.43" fill="#5040b0" fill-opacity="0.47"/><circle cx="253.3" cy="299.8" r="0.52" fill="#5040b0" fill-opacity="0.32"/><circle cx="292.1" cy="297.5" r="0.51" fill="#5040b0" fill-opacity="0.64"/><circle cx="280.0" cy="303.8" r="0.35" fill="#5040b0" fill-opacity="0.34"/><circle cx="297.0" cy="288.5" r="0.40" fill="#5040b0" fill-opacity="0.52"/><circle cx="270.6" cy="279.5" r="0.67" fill="#5040b0" fill-opacity="0.59"/><circle cx="276.0" cy="285.8" r="0.36" fill="#5040b0" fill-opacity="0.60"/><circle cx="243.0" cy="230.2" r="0.68" fill="#5040b0" fill-opacity="0.59"/><circle cx="267.0" cy="247.4" r="1.32" fill="#5040b0" fill-opacity="0.64"/><circle cx="284.0" cy="264.9" r="0.74" fill="#5040b0" fill-opacity="0.56"/><circle cx="291.8" cy="237.9" r="0.38" fill="#5040b0" fill-opacity="0.54"/><circle cx="290.4" cy="257.6" r="0.38" fill="#5040b0" fill-opacity="0.46"/><circle cx="292.4" cy="284.9" r="0.69" fill="#5040b0" fill-opacity="0.46"/><circle cx="237.7" cy="275.6" r="0.51" fill="#5040b0" fill-opacity="0.35"/><circle cx="248.9" cy="269.9" r="1.13" fill="#5040b0" fill-opacity="0.54"/><circle cx="278.7" cy="231.3" r="0.41" fill="#5040b0" fill-opacity="0.40"/><circle cx="281.2" cy="233.2" r="0.37" fill="#5040b0" fill-opacity="0.37"/><circle cx="220.4" cy="285.1" r="0.45" fill="#5040b0" fill-opacity="0.32"/><circle cx="225.4" cy="253.6" r="0.43" fill="#5040b0" fill-opacity="0.31"/><circle cx="302.1" cy="274.7" r="0.36" fill="#5040b0" fill-opacity="0.50"/><circle cx="260.7" cy="307.4" r="0.46" fill="#5040b0" fill-opacity="0.51"/><circle cx="250.2" cy="305.0" r="0.62" fill="#5040b0" fill-opacity="0.61"/><circle cx="235.0" cy="303.2" r="0.61" fill="#5040b0" fill-opacity="0.41"/><circle cx="276.6" cy="281.5" r="0.39" fill="#5040b0" fill-opacity="0.57"/><circle cx="284.4" cy="297.4" r="0.72" fill="#5040b0" fill-opacity="0.59"/><circle cx="282.6" cy="228.4" r="0.60" fill="#5040b0" fill-opacity="0.50"/><circle cx="247.4" cy="291.8" r="0.61" fill="#5040b0" fill-opacity="0.60"/><circle cx="255.9" cy="246.0" r="0.52" fill="#5040b0" fill-opacity="0.60"/><circle cx="222.6" cy="255.7" r="0.62" fill="#5040b0" fill-opacity="0.50"/><circle cx="239.2" cy="259.9" r="0.70" fill="#5040b0" fill-opacity="0.63"/><circle cx="250.7" cy="299.9" r="0.42" fill="#5040b0" fill-opacity="0.58"/><circle cx="278.3" cy="278.0" r="0.43" fill="#5040b0" fill-opacity="0.33"/><circle cx="229.6" cy="262.5" r="0.60" fill="#5040b0" fill-opacity="0.47"/><circle cx="241.2" cy="251.1" r="0.44" fill="#5040b0" fill-opacity="0.56"/><circle cx="221.4" cy="244.1" r="0.66" fill="#5040b0" fill-opacity="0.40"/><circle cx="233.8" cy="293.9" r="0.42" fill="#5040b0" fill-opacity="0.63"/><circle cx="298.2" cy="262.7" r="0.50" fill="#5040b0" fill-opacity="0.33"/><circle cx="299.7" cy="271.4" r="0.66" fill="#5040b0" fill-opacity="0.45"/><circle cx="257.8" cy="226.8" r="0.62" fill="#5040b0" fill-opacity="0.50"/><circle cx="294.6" cy="289.2" r="0.74" fill="#5040b0" fill-opacity="0.47"/><circle cx="276.0" cy="294.8" r="0.71" fill="#5040b0" fill-opacity="0.36"/><circle cx="255.5" cy="249.0" r="0.39" fill="#5040b0" fill-opacity="0.60"/><circle cx="304.6" cy="268.7" r="0.61" fill="#5040b0" fill-opacity="0.46"/><circle cx="273.7" cy="290.0" r="0.40" fill="#5040b0" fill-opacity="0.49"/><circle cx="221.0" cy="274.0" r="0.48" fill="#5040b0" fill-opacity="0.63"/><circle cx="240.8" cy="253.4" r="0.37" fill="#5040b0" fill-opacity="0.53"/><circle cx="235.8" cy="268.9" r="0.53" fill="#5040b0" fill-opacity="0.45"/><circle cx="232.7" cy="246.9" r="0.67" fill="#5040b0" fill-opacity="0.58"/><circle cx="263.4" cy="311.3" r="0.45" fill="#5040b0" fill-opacity="0.55"/><circle cx="225.5" cy="281.4" r="0.46" fill="#5040b0" fill-opacity="0.60"/><circle cx="233.5" cy="277.7" r="0.57" fill="#5040b0" fill-opacity="0.50"/><circle cx="296.7" cy="255.0" r="0.36" fill="#5040b0" fill-opacity="0.32"/><circle cx="269.7" cy="245.5" r="0.55" fill="#5040b0" fill-opacity="0.60"/><circle cx="278.0" cy="269.3" r="1.07" fill="#5040b0" fill-opacity="0.65"/><circle cx="300.0" cy="259.0" r="0.71" fill="#5040b0" fill-opacity="0.54"/><circle cx="261.6" cy="294.4" r="1.41" fill="#5040b0" fill-opacity="0.64"/><circle cx="271.7" cy="303.6" r="0.59" fill="#5040b0" fill-opacity="0.33"/><circle cx="260.9" cy="286.5" r="0.44" fill="#5040b0" fill-opacity="0.54"/><circle cx="223.6" cy="245.3" r="0.75" fill="#5040b0" fill-opacity="0.46"/><circle cx="240.9" cy="265.9" r="0.39" fill="#5040b0" fill-opacity="0.31"/><circle cx="288.5" cy="283.7" r="0.66" fill="#5040b0" fill-opacity="0.46"/><circle cx="284.7" cy="300.0" r="0.53" fill="#5040b0" fill-opacity="0.49"/><circle cx="247.2" cy="225.6" r="0.66" fill="#5040b0" fill-opacity="0.34"/><circle cx="282.0" cy="290.1" r="0.46" fill="#5040b0" fill-opacity="0.63"/><circle cx="220.5" cy="284.5" r="0.66" fill="#5040b0" fill-opacity="0.47"/><circle cx="236.9" cy="283.8" r="0.63" fill="#5040b0" fill-opacity="0.41"/><circle cx="233.3" cy="262.8" r="0.35" fill="#5040b0" fill-opacity="0.47"/><circle cx="230.4" cy="264.8" r="0.51" fill="#5040b0" fill-opacity="0.39"/><circle cx="229.2" cy="245.5" r="0.66" fill="#5040b0" fill-opacity="0.49"/><circle cx="284.8" cy="286.3" r="0.73" fill="#5040b0" fill-opacity="0.47"/><circle cx="257.8" cy="237.2" r="1.02" fill="#5040b0" fill-opacity="0.54"/><circle cx="303.4" cy="273.8" r="0.36" fill="#5040b0" fill-opacity="0.56"/><circle cx="248.0" cy="247.5" r="1.03" fill="#5040b0" fill-opacity="0.73"/><circle cx="262.2" cy="245.4" r="0.59" fill="#5040b0" fill-opacity="0.48"/><circle cx="264.5" cy="277.8" r="0.59" fill="#5040b0" fill-opacity="0.46"/><circle cx="233.8" cy="237.1" r="0.69" fill="#5040b0" fill-opacity="0.49"/></g>
<rect x="318.1" y="217.0" width="99.7" height="99.6" fill="url(#pbg)"/>
<circle cx="367.75" cy="267.00" r="47.80" fill="url(#pinB)" stroke="url(#rim)" stroke-width="2.8"/>
<g filter="url(#blur1)"><circle cx="327.2" cy="273.5" r="0.30" fill="#5040b0" fill-opacity="0.43"/><circle cx="361.3" cy="309.5" r="0.49" fill="#5040b0" fill-opacity="0.53"/><circle cx="386.0" cy="290.6" r="0.32" fill="#5040b0" fill-opacity="0.59"/><circle cx="401.0" cy="283.9" r="0.58" fill="#5040b0" fill-opacity="0.31"/><circle cx="407.7" cy="283.0" r="1.23" fill="#5040b0" fill-opacity="0.78"/><circle cx="390.0" cy="286.0" r="0.51" fill="#5040b0" fill-opacity="0.36"/><circle cx="364.4" cy="257.4" r="0.43" fill="#5040b0" fill-opacity="0.45"/><circle cx="342.2" cy="249.4" r="1.10" fill="#5040b0" fill-opacity="0.79"/><circle cx="404.0" cy="261.6" r="0.53" fill="#5040b0" fill-opacity="0.54"/><circle cx="384.2" cy="281.3" r="0.57" fill="#5040b0" fill-opacity="0.48"/><circle cx="407.9" cy="274.2" r="0.37" fill="#5040b0" fill-opacity="0.45"/><circle cx="337.6" cy="292.5" r="0.36" fill="#5040b0" fill-opacity="0.54"/><circle cx="390.8" cy="272.4" r="0.32" fill="#5040b0" fill-opacity="0.46"/><circle cx="373.9" cy="290.1" r="0.46" fill="#5040b0" fill-opacity="0.63"/><circle cx="389.2" cy="304.6" r="0.55" fill="#5040b0" fill-opacity="0.62"/><circle cx="401.4" cy="268.4" r="0.38" fill="#5040b0" fill-opacity="0.30"/><circle cx="407.0" cy="277.1" r="0.47" fill="#5040b0" fill-opacity="0.31"/><circle cx="349.0" cy="305.3" r="0.38" fill="#5040b0" fill-opacity="0.48"/><circle cx="332.5" cy="272.0" r="0.60" fill="#5040b0" fill-opacity="0.36"/><circle cx="357.0" cy="307.6" r="0.47" fill="#5040b0" fill-opacity="0.54"/><circle cx="361.9" cy="247.0" r="0.53" fill="#5040b0" fill-opacity="0.54"/><circle cx="396.4" cy="298.2" r="0.45" fill="#5040b0" fill-opacity="0.64"/><circle cx="330.0" cy="252.1" r="0.56" fill="#5040b0" fill-opacity="0.45"/><circle cx="330.4" cy="243.8" r="0.42" fill="#5040b0" fill-opacity="0.43"/><circle cx="364.7" cy="233.4" r="0.60" fill="#5040b0" fill-opacity="0.58"/><circle cx="402.1" cy="241.2" r="0.43" fill="#5040b0" fill-opacity="0.33"/><circle cx="346.7" cy="294.8" r="0.48" fill="#5040b0" fill-opacity="0.52"/><circle cx="395.5" cy="294.7" r="0.38" fill="#5040b0" fill-opacity="0.44"/><circle cx="351.1" cy="300.3" r="0.91" fill="#5040b0" fill-opacity="0.71"/><circle cx="370.2" cy="226.0" r="0.31" fill="#5040b0" fill-opacity="0.47"/><circle cx="338.8" cy="277.7" r="0.38" fill="#5040b0" fill-opacity="0.41"/><circle cx="371.5" cy="265.6" r="0.37" fill="#5040b0" fill-opacity="0.45"/><circle cx="375.7" cy="309.4" r="0.35" fill="#5040b0" fill-opacity="0.46"/><circle cx="335.4" cy="241.4" r="0.59" fill="#5040b0" fill-opacity="0.59"/><circle cx="373.3" cy="305.9" r="0.53" fill="#5040b0" fill-opacity="0.53"/><circle cx="406.7" cy="260.2" r="0.55" fill="#5040b0" fill-opacity="0.41"/><circle cx="340.7" cy="267.0" r="0.37" fill="#5040b0" fill-opacity="0.49"/><circle cx="367.5" cy="289.8" r="0.62" fill="#5040b0" fill-opacity="0.51"/><circle cx="334.3" cy="295.0" r="0.34" fill="#5040b0" fill-opacity="0.52"/><circle cx="389.9" cy="233.3" r="0.51" fill="#5040b0" fill-opacity="0.39"/><circle cx="344.6" cy="282.3" r="0.57" fill="#5040b0" fill-opacity="0.36"/><circle cx="377.0" cy="299.0" r="0.32" fill="#5040b0" fill-opacity="0.59"/><circle cx="396.3" cy="237.9" r="0.40" fill="#5040b0" fill-opacity="0.35"/><circle cx="395.0" cy="236.2" r="0.31" fill="#5040b0" fill-opacity="0.41"/><circle cx="386.3" cy="268.5" r="0.40" fill="#5040b0" fill-opacity="0.37"/><circle cx="381.8" cy="298.9" r="0.33" fill="#5040b0" fill-opacity="0.54"/><circle cx="338.4" cy="260.2" r="0.57" fill="#5040b0" fill-opacity="0.48"/><circle cx="342.7" cy="238.4" r="0.44" fill="#5040b0" fill-opacity="0.48"/><circle cx="360.3" cy="233.8" r="0.59" fill="#5040b0" fill-opacity="0.54"/><circle cx="403.5" cy="256.9" r="0.50" fill="#5040b0" fill-opacity="0.56"/><circle cx="376.3" cy="253.3" r="0.80" fill="#5040b0" fill-opacity="0.52"/><circle cx="390.2" cy="268.2" r="0.51" fill="#5040b0" fill-opacity="0.64"/><circle cx="408.7" cy="256.6" r="0.87" fill="#5040b0" fill-opacity="0.78"/><circle cx="336.3" cy="271.9" r="0.48" fill="#5040b0" fill-opacity="0.41"/><circle cx="369.1" cy="293.3" r="0.63" fill="#5040b0" fill-opacity="0.57"/><circle cx="392.5" cy="256.0" r="0.50" fill="#5040b0" fill-opacity="0.53"/><circle cx="389.2" cy="268.7" r="0.58" fill="#5040b0" fill-opacity="0.57"/><circle cx="348.3" cy="297.8" r="0.46" fill="#5040b0" fill-opacity="0.37"/><circle cx="344.4" cy="243.8" r="0.43" fill="#5040b0" fill-opacity="0.51"/><circle cx="395.2" cy="295.1" r="0.38" fill="#5040b0" fill-opacity="0.45"/><circle cx="401.4" cy="292.2" r="0.48" fill="#5040b0" fill-opacity="0.51"/><circle cx="343.3" cy="254.1" r="0.64" fill="#5040b0" fill-opacity="0.42"/><circle cx="337.2" cy="266.5" r="0.37" fill="#5040b0" fill-opacity="0.41"/><circle cx="343.8" cy="293.5" r="0.41" fill="#5040b0" fill-opacity="0.53"/><circle cx="336.7" cy="290.4" r="1.08" fill="#5040b0" fill-opacity="0.53"/><circle cx="367.7" cy="310.0" r="0.36" fill="#5040b0" fill-opacity="0.45"/><circle cx="359.3" cy="307.4" r="0.51" fill="#5040b0" fill-opacity="0.52"/><circle cx="335.4" cy="246.5" r="0.62" fill="#5040b0" fill-opacity="0.44"/><circle cx="332.7" cy="274.8" r="0.38" fill="#5040b0" fill-opacity="0.48"/><circle cx="362.1" cy="228.8" r="0.54" fill="#5040b0" fill-opacity="0.42"/><circle cx="360.8" cy="285.7" r="0.43" fill="#5040b0" fill-opacity="0.64"/><circle cx="392.1" cy="249.9" r="0.40" fill="#5040b0" fill-opacity="0.39"/><circle cx="359.0" cy="272.3" r="0.91" fill="#5040b0" fill-opacity="0.55"/><circle cx="397.3" cy="295.4" r="0.50" fill="#5040b0" fill-opacity="0.63"/><circle cx="387.5" cy="292.8" r="0.61" fill="#5040b0" fill-opacity="0.48"/><circle cx="346.8" cy="290.1" r="0.49" fill="#5040b0" fill-opacity="0.58"/><circle cx="365.1" cy="306.1" r="1.05" fill="#5040b0" fill-opacity="0.56"/><circle cx="390.4" cy="230.1" r="0.30" fill="#5040b0" fill-opacity="0.47"/><circle cx="349.7" cy="289.0" r="0.47" fill="#5040b0" fill-opacity="0.50"/><circle cx="391.1" cy="231.4" r="0.59" fill="#5040b0" fill-opacity="0.43"/><circle cx="383.9" cy="255.4" r="0.51" fill="#5040b0" fill-opacity="0.65"/><circle cx="374.7" cy="303.3" r="0.48" fill="#5040b0" fill-opacity="0.57"/><circle cx="348.5" cy="227.8" r="0.40" fill="#5040b0" fill-opacity="0.33"/><circle cx="383.8" cy="282.7" r="0.50" fill="#5040b0" fill-opacity="0.35"/><circle cx="399.9" cy="260.1" r="0.59" fill="#5040b0" fill-opacity="0.64"/><circle cx="373.9" cy="303.3" r="0.49" fill="#5040b0" fill-opacity="0.55"/><circle cx="368.2" cy="223.9" r="0.55" fill="#5040b0" fill-opacity="0.45"/><circle cx="377.1" cy="283.8" r="0.33" fill="#5040b0" fill-opacity="0.47"/><circle cx="345.7" cy="280.1" r="0.48" fill="#5040b0" fill-opacity="0.65"/><circle cx="396.3" cy="247.6" r="0.62" fill="#5040b0" fill-opacity="0.32"/><circle cx="349.4" cy="307.3" r="0.37" fill="#5040b0" fill-opacity="0.34"/><circle cx="378.9" cy="264.1" r="0.58" fill="#5040b0" fill-opacity="0.54"/><circle cx="407.5" cy="266.6" r="0.41" fill="#5040b0" fill-opacity="0.32"/><circle cx="410.1" cy="256.0" r="0.37" fill="#5040b0" fill-opacity="0.38"/><circle cx="380.3" cy="272.7" r="0.61" fill="#5040b0" fill-opacity="0.48"/><circle cx="350.1" cy="233.2" r="0.63" fill="#5040b0" fill-opacity="0.60"/><circle cx="352.6" cy="235.9" r="0.45" fill="#5040b0" fill-opacity="0.35"/><circle cx="376.4" cy="294.5" r="0.41" fill="#5040b0" fill-opacity="0.65"/><circle cx="354.7" cy="237.4" r="0.37" fill="#5040b0" fill-opacity="0.64"/><circle cx="402.8" cy="245.9" r="0.48" fill="#5040b0" fill-opacity="0.36"/><circle cx="352.2" cy="297.8" r="0.55" fill="#5040b0" fill-opacity="0.47"/><circle cx="381.6" cy="255.5" r="0.50" fill="#5040b0" fill-opacity="0.54"/><circle cx="340.0" cy="256.8" r="0.61" fill="#5040b0" fill-opacity="0.35"/><circle cx="362.5" cy="299.9" r="0.39" fill="#5040b0" fill-opacity="0.33"/><circle cx="385.3" cy="295.9" r="0.53" fill="#5040b0" fill-opacity="0.45"/><circle cx="407.4" cy="277.6" r="0.45" fill="#5040b0" fill-opacity="0.60"/><circle cx="377.8" cy="289.3" r="1.11" fill="#5040b0" fill-opacity="0.54"/><circle cx="361.5" cy="286.5" r="0.58" fill="#5040b0" fill-opacity="0.49"/><circle cx="383.8" cy="276.9" r="0.61" fill="#5040b0" fill-opacity="0.31"/><circle cx="345.5" cy="305.1" r="0.89" fill="#5040b0" fill-opacity="0.77"/><circle cx="364.6" cy="305.1" r="0.35" fill="#5040b0" fill-opacity="0.51"/><circle cx="365.8" cy="224.9" r="0.44" fill="#5040b0" fill-opacity="0.63"/><circle cx="406.3" cy="243.9" r="0.53" fill="#5040b0" fill-opacity="0.61"/><circle cx="366.1" cy="306.4" r="0.80" fill="#5040b0" fill-opacity="0.50"/><circle cx="373.7" cy="310.9" r="0.61" fill="#5040b0" fill-opacity="0.44"/><circle cx="354.2" cy="228.3" r="1.18" fill="#5040b0" fill-opacity="0.55"/><circle cx="328.7" cy="280.9" r="0.40" fill="#5040b0" fill-opacity="0.40"/><circle cx="364.5" cy="244.3" r="0.43" fill="#5040b0" fill-opacity="0.41"/><circle cx="363.5" cy="248.7" r="0.83" fill="#5040b0" fill-opacity="0.69"/><circle cx="371.2" cy="266.8" r="0.40" fill="#5040b0" fill-opacity="0.42"/><circle cx="390.6" cy="285.4" r="0.83" fill="#5040b0" fill-opacity="0.78"/><circle cx="358.9" cy="223.1" r="0.37" fill="#5040b0" fill-opacity="0.34"/><circle cx="408.9" cy="262.9" r="0.57" fill="#5040b0" fill-opacity="0.49"/><circle cx="394.9" cy="283.8" r="0.33" fill="#5040b0" fill-opacity="0.33"/><circle cx="367.8" cy="240.3" r="0.36" fill="#5040b0" fill-opacity="0.47"/><circle cx="350.3" cy="275.5" r="0.34" fill="#5040b0" fill-opacity="0.32"/><circle cx="344.7" cy="270.9" r="0.54" fill="#5040b0" fill-opacity="0.63"/><circle cx="382.5" cy="292.2" r="1.17" fill="#5040b0" fill-opacity="0.51"/><circle cx="408.8" cy="262.6" r="1.18" fill="#5040b0" fill-opacity="0.79"/><circle cx="374.8" cy="227.7" r="0.59" fill="#5040b0" fill-opacity="0.50"/><circle cx="332.5" cy="256.2" r="0.62" fill="#5040b0" fill-opacity="0.57"/><circle cx="349.4" cy="300.5" r="0.48" fill="#5040b0" fill-opacity="0.55"/><circle cx="383.2" cy="274.6" r="0.36" fill="#5040b0" fill-opacity="0.50"/><circle cx="389.4" cy="247.1" r="0.44" fill="#5040b0" fill-opacity="0.45"/><circle cx="384.0" cy="300.5" r="0.47" fill="#5040b0" fill-opacity="0.54"/><circle cx="407.5" cy="246.6" r="0.33" fill="#5040b0" fill-opacity="0.63"/><circle cx="375.8" cy="234.6" r="0.45" fill="#5040b0" fill-opacity="0.52"/><circle cx="328.2" cy="278.1" r="1.06" fill="#5040b0" fill-opacity="0.71"/><circle cx="389.8" cy="242.5" r="0.36" fill="#5040b0" fill-opacity="0.61"/><circle cx="407.2" cy="283.3" r="0.51" fill="#5040b0" fill-opacity="0.31"/><circle cx="329.8" cy="280.1" r="0.32" fill="#5040b0" fill-opacity="0.63"/><circle cx="400.4" cy="292.1" r="0.49" fill="#5040b0" fill-opacity="0.54"/><circle cx="376.4" cy="298.9" r="0.46" fill="#5040b0" fill-opacity="0.46"/><circle cx="375.3" cy="224.2" r="0.48" fill="#5040b0" fill-opacity="0.33"/><circle cx="334.3" cy="250.2" r="0.34" fill="#5040b0" fill-opacity="0.43"/><circle cx="386.6" cy="233.3" r="0.87" fill="#5040b0" fill-opacity="0.58"/><circle cx="339.7" cy="269.8" r="0.30" fill="#5040b0" fill-opacity="0.38"/><circle cx="327.3" cy="266.6" r="1.22" fill="#5040b0" fill-opacity="0.76"/><circle cx="331.7" cy="263.7" r="0.30" fill="#5040b0" fill-opacity="0.64"/><circle cx="396.8" cy="243.0" r="0.53" fill="#5040b0" fill-opacity="0.33"/><circle cx="368.2" cy="248.2" r="0.59" fill="#5040b0" fill-opacity="0.52"/><circle cx="385.4" cy="303.6" r="0.57" fill="#5040b0" fill-opacity="0.64"/><circle cx="391.8" cy="285.5" r="0.43" fill="#5040b0" fill-opacity="0.62"/><circle cx="377.8" cy="231.2" r="0.34" fill="#5040b0" fill-opacity="0.40"/><circle cx="394.8" cy="297.9" r="0.54" fill="#5040b0" fill-opacity="0.65"/><circle cx="391.4" cy="296.0" r="0.55" fill="#5040b0" fill-opacity="0.57"/><circle cx="343.2" cy="252.9" r="1.04" fill="#5040b0" fill-opacity="0.79"/><circle cx="363.3" cy="305.0" r="0.41" fill="#5040b0" fill-opacity="0.45"/><circle cx="398.0" cy="243.9" r="0.59" fill="#5040b0" fill-opacity="0.51"/><circle cx="386.0" cy="252.7" r="0.38" fill="#5040b0" fill-opacity="0.34"/><circle cx="393.9" cy="302.1" r="0.55" fill="#5040b0" fill-opacity="0.37"/><circle cx="364.4" cy="263.8" r="0.47" fill="#5040b0" fill-opacity="0.52"/><circle cx="395.7" cy="292.5" r="0.55" fill="#5040b0" fill-opacity="0.51"/><circle cx="381.5" cy="230.9" r="0.58" fill="#5040b0" fill-opacity="0.45"/><circle cx="362.1" cy="238.6" r="0.45" fill="#5040b0" fill-opacity="0.41"/><circle cx="399.6" cy="242.1" r="0.46" fill="#5040b0" fill-opacity="0.36"/><circle cx="349.6" cy="243.0" r="0.34" fill="#5040b0" fill-opacity="0.53"/><circle cx="373.3" cy="240.3" r="0.51" fill="#5040b0" fill-opacity="0.41"/><circle cx="396.5" cy="285.3" r="0.54" fill="#5040b0" fill-opacity="0.40"/><circle cx="356.7" cy="274.3" r="0.60" fill="#5040b0" fill-opacity="0.45"/><circle cx="389.9" cy="261.7" r="0.43" fill="#5040b0" fill-opacity="0.40"/><circle cx="334.7" cy="279.1" r="1.04" fill="#5040b0" fill-opacity="0.70"/><circle cx="339.8" cy="255.9" r="0.48" fill="#5040b0" fill-opacity="0.61"/><circle cx="388.9" cy="290.6" r="0.37" fill="#5040b0" fill-opacity="0.38"/><circle cx="372.6" cy="300.3" r="0.59" fill="#5040b0" fill-opacity="0.55"/><circle cx="333.7" cy="289.6" r="0.62" fill="#5040b0" fill-opacity="0.34"/><circle cx="370.8" cy="224.3" r="0.31" fill="#5040b0" fill-opacity="0.61"/><circle cx="368.9" cy="271.0" r="0.53" fill="#5040b0" fill-opacity="0.62"/><circle cx="353.8" cy="243.7" r="0.57" fill="#5040b0" fill-opacity="0.62"/><circle cx="388.9" cy="231.4" r="1.23" fill="#5040b0" fill-opacity="0.50"/><circle cx="337.4" cy="282.3" r="0.47" fill="#5040b0" fill-opacity="0.41"/><circle cx="363.6" cy="260.4" r="0.45" fill="#5040b0" fill-opacity="0.31"/><circle cx="325.8" cy="278.0" r="0.43" fill="#5040b0" fill-opacity="0.64"/><circle cx="325.3" cy="260.2" r="0.43" fill="#5040b0" fill-opacity="0.62"/><circle cx="411.6" cy="263.7" r="0.41" fill="#5040b0" fill-opacity="0.61"/><circle cx="383.6" cy="236.2" r="1.03" fill="#5040b0" fill-opacity="0.52"/><circle cx="335.8" cy="261.7" r="0.41" fill="#5040b0" fill-opacity="0.57"/><circle cx="342.4" cy="253.2" r="0.96" fill="#5040b0" fill-opacity="0.71"/><circle cx="332.0" cy="247.0" r="1.00" fill="#5040b0" fill-opacity="0.58"/><circle cx="336.9" cy="244.8" r="0.47" fill="#5040b0" fill-opacity="0.45"/><circle cx="339.2" cy="256.5" r="0.47" fill="#5040b0" fill-opacity="0.59"/><circle cx="390.2" cy="228.1" r="0.44" fill="#5040b0" fill-opacity="0.57"/><circle cx="364.4" cy="263.8" r="0.42" fill="#5040b0" fill-opacity="0.59"/><circle cx="365.5" cy="224.7" r="0.49" fill="#5040b0" fill-opacity="0.42"/><circle cx="360.0" cy="292.2" r="0.42" fill="#5040b0" fill-opacity="0.39"/><circle cx="331.6" cy="253.6" r="0.93" fill="#5040b0" fill-opacity="0.75"/><circle cx="370.8" cy="256.0" r="0.63" fill="#5040b0" fill-opacity="0.41"/><circle cx="366.8" cy="241.1" r="0.34" fill="#5040b0" fill-opacity="0.65"/><circle cx="328.1" cy="279.5" r="0.55" fill="#5040b0" fill-opacity="0.36"/><circle cx="397.9" cy="271.6" r="0.80" fill="#5040b0" fill-opacity="0.61"/><circle cx="400.5" cy="278.5" r="0.57" fill="#5040b0" fill-opacity="0.39"/><circle cx="343.4" cy="294.7" r="1.14" fill="#5040b0" fill-opacity="0.53"/><circle cx="406.6" cy="259.8" r="0.53" fill="#5040b0" fill-opacity="0.54"/><circle cx="386.8" cy="291.9" r="0.38" fill="#5040b0" fill-opacity="0.32"/><circle cx="358.6" cy="228.1" r="0.34" fill="#5040b0" fill-opacity="0.47"/><circle cx="345.2" cy="265.0" r="0.56" fill="#5040b0" fill-opacity="0.39"/><circle cx="372.6" cy="311.2" r="1.20" fill="#5040b0" fill-opacity="0.78"/><circle cx="376.5" cy="305.1" r="0.41" fill="#5040b0" fill-opacity="0.30"/><circle cx="391.8" cy="292.5" r="0.45" fill="#5040b0" fill-opacity="0.39"/><circle cx="354.6" cy="277.4" r="0.36" fill="#5040b0" fill-opacity="0.50"/><circle cx="405.3" cy="266.5" r="0.33" fill="#5040b0" fill-opacity="0.34"/><circle cx="382.8" cy="228.1" r="0.42" fill="#5040b0" fill-opacity="0.59"/><circle cx="324.8" cy="262.9" r="0.57" fill="#5040b0" fill-opacity="0.42"/><circle cx="335.4" cy="238.1" r="0.37" fill="#5040b0" fill-opacity="0.36"/><circle cx="379.8" cy="245.2" r="0.44" fill="#5040b0" fill-opacity="0.56"/><circle cx="384.3" cy="302.1" r="0.43" fill="#5040b0" fill-opacity="0.44"/><circle cx="379.4" cy="279.5" r="0.34" fill="#5040b0" fill-opacity="0.52"/><circle cx="343.5" cy="291.5" r="0.45" fill="#5040b0" fill-opacity="0.39"/><circle cx="326.9" cy="264.5" r="0.30" fill="#5040b0" fill-opacity="0.36"/><circle cx="401.0" cy="266.2" r="1.13" fill="#5040b0" fill-opacity="0.75"/><circle cx="359.1" cy="288.8" r="0.47" fill="#5040b0" fill-opacity="0.46"/><circle cx="381.8" cy="267.8" r="0.63" fill="#5040b0" fill-opacity="0.60"/><circle cx="331.8" cy="268.5" r="0.52" fill="#5040b0" fill-opacity="0.55"/><circle cx="397.9" cy="254.6" r="0.61" fill="#5040b0" fill-opacity="0.38"/><circle cx="336.0" cy="295.1" r="1.14" fill="#5040b0" fill-opacity="0.57"/><circle cx="374.7" cy="274.1" r="0.36" fill="#5040b0" fill-opacity="0.55"/><circle cx="385.2" cy="307.7" r="0.31" fill="#5040b0" fill-opacity="0.32"/><circle cx="332.8" cy="259.2" r="0.38" fill="#5040b0" fill-opacity="0.36"/><circle cx="410.1" cy="264.8" r="0.45" fill="#5040b0" fill-opacity="0.56"/><circle cx="353.4" cy="248.1" r="0.32" fill="#5040b0" fill-opacity="0.53"/><circle cx="358.9" cy="235.9" r="0.41" fill="#5040b0" fill-opacity="0.56"/><circle cx="361.2" cy="228.9" r="0.43" fill="#5040b0" fill-opacity="0.35"/><circle cx="387.2" cy="254.3" r="0.34" fill="#5040b0" fill-opacity="0.40"/><circle cx="336.8" cy="240.5" r="0.39" fill="#5040b0" fill-opacity="0.59"/><circle cx="329.5" cy="261.0" r="0.31" fill="#5040b0" fill-opacity="0.59"/><circle cx="399.2" cy="245.6" r="0.53" fill="#5040b0" fill-opacity="0.40"/><circle cx="337.4" cy="296.7" r="0.31" fill="#5040b0" fill-opacity="0.31"/><circle cx="401.1" cy="276.3" r="0.46" fill="#5040b0" fill-opacity="0.35"/><circle cx="352.6" cy="261.3" r="0.39" fill="#5040b0" fill-opacity="0.57"/><circle cx="334.6" cy="252.9" r="0.34" fill="#5040b0" fill-opacity="0.40"/><circle cx="404.5" cy="265.4" r="0.61" fill="#5040b0" fill-opacity="0.58"/><circle cx="350.2" cy="264.2" r="1.15" fill="#5040b0" fill-opacity="0.73"/><circle cx="356.0" cy="230.6" r="0.30" fill="#5040b0" fill-opacity="0.31"/><circle cx="364.9" cy="264.4" r="0.59" fill="#5040b0" fill-opacity="0.42"/><circle cx="378.0" cy="302.7" r="0.61" fill="#5040b0" fill-opacity="0.65"/><circle cx="353.7" cy="254.0" r="0.45" fill="#5040b0" fill-opacity="0.55"/><circle cx="377.8" cy="305.4" r="0.58" fill="#5040b0" fill-opacity="0.35"/><circle cx="363.1" cy="259.1" r="0.86" fill="#5040b0" fill-opacity="0.66"/><circle cx="384.0" cy="227.2" r="0.62" fill="#5040b0" fill-opacity="0.45"/><circle cx="348.6" cy="233.9" r="0.45" fill="#5040b0" fill-opacity="0.42"/><circle cx="361.9" cy="223.8" r="1.14" fill="#5040b0" fill-opacity="0.73"/><circle cx="398.8" cy="263.8" r="0.49" fill="#5040b0" fill-opacity="0.37"/><circle cx="367.5" cy="296.2" r="0.49" fill="#5040b0" fill-opacity="0.45"/><circle cx="374.7" cy="302.5" r="0.88" fill="#5040b0" fill-opacity="0.63"/><circle cx="349.3" cy="250.2" r="1.21" fill="#5040b0" fill-opacity="0.51"/><circle cx="355.2" cy="300.1" r="0.86" fill="#5040b0" fill-opacity="0.75"/><circle cx="377.0" cy="261.8" r="0.42" fill="#5040b0" fill-opacity="0.54"/><circle cx="401.3" cy="254.2" r="0.32" fill="#5040b0" fill-opacity="0.32"/><circle cx="395.0" cy="235.2" r="0.59" fill="#5040b0" fill-opacity="0.38"/><circle cx="332.7" cy="290.8" r="0.37" fill="#5040b0" fill-opacity="0.46"/><circle cx="408.7" cy="249.3" r="0.43" fill="#5040b0" fill-opacity="0.56"/><circle cx="362.4" cy="224.5" r="0.36" fill="#5040b0" fill-opacity="0.50"/><circle cx="407.7" cy="253.4" r="0.42" fill="#5040b0" fill-opacity="0.50"/><circle cx="375.2" cy="246.4" r="0.53" fill="#5040b0" fill-opacity="0.39"/><circle cx="389.7" cy="282.8" r="0.48" fill="#5040b0" fill-opacity="0.32"/><circle cx="407.4" cy="250.3" r="0.62" fill="#5040b0" fill-opacity="0.31"/><circle cx="387.0" cy="297.5" r="1.01" fill="#5040b0" fill-opacity="0.73"/><circle cx="341.5" cy="240.1" r="0.46" fill="#5040b0" fill-opacity="0.39"/><circle cx="340.5" cy="237.2" r="0.44" fill="#5040b0" fill-opacity="0.36"/><circle cx="356.0" cy="289.1" r="0.45" fill="#5040b0" fill-opacity="0.60"/><circle cx="381.1" cy="242.0" r="0.38" fill="#5040b0" fill-opacity="0.51"/><circle cx="402.5" cy="292.0" r="0.58" fill="#5040b0" fill-opacity="0.33"/><circle cx="388.7" cy="293.5" r="0.42" fill="#5040b0" fill-opacity="0.57"/><circle cx="374.5" cy="225.2" r="0.58" fill="#5040b0" fill-opacity="0.44"/><circle cx="391.7" cy="288.1" r="0.44" fill="#5040b0" fill-opacity="0.36"/><circle cx="368.1" cy="224.5" r="0.47" fill="#5040b0" fill-opacity="0.36"/><circle cx="396.6" cy="260.0" r="0.37" fill="#5040b0" fill-opacity="0.39"/><circle cx="334.9" cy="240.5" r="0.62" fill="#5040b0" fill-opacity="0.47"/><circle cx="336.0" cy="296.9" r="0.57" fill="#5040b0" fill-opacity="0.39"/><circle cx="385.3" cy="279.8" r="0.38" fill="#5040b0" fill-opacity="0.33"/><circle cx="399.0" cy="292.4" r="0.41" fill="#5040b0" fill-opacity="0.35"/><circle cx="383.9" cy="302.5" r="0.62" fill="#5040b0" fill-opacity="0.47"/><circle cx="404.3" cy="290.5" r="0.48" fill="#5040b0" fill-opacity="0.57"/><circle cx="355.7" cy="281.9" r="0.41" fill="#5040b0" fill-opacity="0.61"/><circle cx="398.9" cy="246.1" r="0.47" fill="#5040b0" fill-opacity="0.48"/><circle cx="394.5" cy="256.2" r="0.41" fill="#5040b0" fill-opacity="0.57"/><circle cx="406.9" cy="287.5" r="0.59" fill="#5040b0" fill-opacity="0.51"/><circle cx="345.8" cy="282.6" r="0.41" fill="#5040b0" fill-opacity="0.40"/><circle cx="393.0" cy="261.5" r="0.54" fill="#5040b0" fill-opacity="0.58"/><circle cx="363.6" cy="303.9" r="0.35" fill="#5040b0" fill-opacity="0.57"/><circle cx="389.6" cy="283.5" r="0.53" fill="#5040b0" fill-opacity="0.60"/><circle cx="393.1" cy="234.5" r="0.58" fill="#5040b0" fill-opacity="0.35"/><circle cx="360.7" cy="296.3" r="0.60" fill="#5040b0" fill-opacity="0.52"/><circle cx="407.3" cy="246.1" r="0.63" fill="#5040b0" fill-opacity="0.34"/><circle cx="345.4" cy="287.8" r="0.59" fill="#5040b0" fill-opacity="0.64"/><circle cx="393.7" cy="243.8" r="0.44" fill="#5040b0" fill-opacity="0.45"/><circle cx="401.7" cy="264.9" r="0.34" fill="#5040b0" fill-opacity="0.31"/><circle cx="395.9" cy="239.9" r="0.37" fill="#5040b0" fill-opacity="0.32"/><circle cx="397.2" cy="278.1" r="0.63" fill="#5040b0" fill-opacity="0.47"/><circle cx="381.8" cy="242.8" r="0.59" fill="#5040b0" fill-opacity="0.49"/><circle cx="349.8" cy="288.6" r="0.46" fill="#5040b0" fill-opacity="0.35"/><circle cx="362.8" cy="294.3" r="0.48" fill="#5040b0" fill-opacity="0.55"/><circle cx="405.1" cy="267.9" r="0.57" fill="#5040b0" fill-opacity="0.40"/><circle cx="375.0" cy="255.7" r="0.84" fill="#5040b0" fill-opacity="0.71"/><circle cx="403.0" cy="249.2" r="0.51" fill="#5040b0" fill-opacity="0.40"/><circle cx="407.8" cy="284.2" r="0.33" fill="#5040b0" fill-opacity="0.58"/><circle cx="375.9" cy="288.8" r="0.38" fill="#5040b0" fill-opacity="0.53"/><circle cx="361.1" cy="231.4" r="0.42" fill="#5040b0" fill-opacity="0.37"/><circle cx="373.0" cy="246.2" r="0.46" fill="#5040b0" fill-opacity="0.57"/><circle cx="399.5" cy="298.9" r="0.45" fill="#5040b0" fill-opacity="0.43"/><circle cx="356.8" cy="262.2" r="0.36" fill="#5040b0" fill-opacity="0.39"/><circle cx="388.2" cy="305.0" r="0.32" fill="#5040b0" fill-opacity="0.51"/><circle cx="392.8" cy="244.9" r="0.50" fill="#5040b0" fill-opacity="0.55"/><circle cx="364.1" cy="244.3" r="0.37" fill="#5040b0" fill-opacity="0.56"/><circle cx="374.1" cy="257.5" r="0.45" fill="#5040b0" fill-opacity="0.38"/><circle cx="410.6" cy="265.5" r="0.61" fill="#5040b0" fill-opacity="0.61"/><circle cx="375.1" cy="231.0" r="0.41" fill="#5040b0" fill-opacity="0.57"/><circle cx="405.4" cy="274.5" r="0.94" fill="#5040b0" fill-opacity="0.58"/><circle cx="356.9" cy="246.9" r="0.43" fill="#5040b0" fill-opacity="0.57"/><circle cx="385.8" cy="287.8" r="0.47" fill="#5040b0" fill-opacity="0.60"/><circle cx="325.7" cy="266.0" r="1.16" fill="#5040b0" fill-opacity="0.59"/><circle cx="356.7" cy="306.8" r="0.47" fill="#5040b0" fill-opacity="0.38"/><circle cx="392.4" cy="277.8" r="0.34" fill="#5040b0" fill-opacity="0.39"/><circle cx="364.7" cy="286.8" r="0.54" fill="#5040b0" fill-opacity="0.56"/><circle cx="361.5" cy="235.1" r="0.41" fill="#5040b0" fill-opacity="0.39"/><circle cx="389.4" cy="228.9" r="0.50" fill="#5040b0" fill-opacity="0.59"/><circle cx="337.9" cy="236.5" r="0.33" fill="#5040b0" fill-opacity="0.44"/><circle cx="401.5" cy="263.5" r="0.41" fill="#5040b0" fill-opacity="0.51"/><circle cx="362.9" cy="229.2" r="0.36" fill="#5040b0" fill-opacity="0.33"/><circle cx="396.7" cy="288.1" r="0.36" fill="#5040b0" fill-opacity="0.56"/><circle cx="343.1" cy="293.6" r="0.49" fill="#5040b0" fill-opacity="0.62"/><circle cx="361.8" cy="290.8" r="0.54" fill="#5040b0" fill-opacity="0.32"/><circle cx="349.9" cy="266.7" r="1.07" fill="#5040b0" fill-opacity="0.64"/><circle cx="382.2" cy="250.4" r="0.40" fill="#5040b0" fill-opacity="0.63"/><circle cx="341.3" cy="232.4" r="0.38" fill="#5040b0" fill-opacity="0.48"/><circle cx="376.5" cy="302.6" r="0.50" fill="#5040b0" fill-opacity="0.55"/><circle cx="403.0" cy="294.7" r="0.53" fill="#5040b0" fill-opacity="0.54"/><circle cx="354.7" cy="287.4" r="0.41" fill="#5040b0" fill-opacity="0.40"/><circle cx="380.1" cy="307.3" r="0.34" fill="#5040b0" fill-opacity="0.44"/><circle cx="396.5" cy="279.6" r="0.51" fill="#5040b0" fill-opacity="0.48"/><circle cx="353.3" cy="256.4" r="0.37" fill="#5040b0" fill-opacity="0.31"/><circle cx="392.6" cy="235.1" r="0.36" fill="#5040b0" fill-opacity="0.57"/><circle cx="381.2" cy="298.6" r="0.56" fill="#5040b0" fill-opacity="0.59"/><circle cx="379.5" cy="276.5" r="0.60" fill="#5040b0" fill-opacity="0.34"/><circle cx="357.4" cy="265.1" r="0.45" fill="#5040b0" fill-opacity="0.39"/><circle cx="382.9" cy="303.7" r="0.86" fill="#5040b0" fill-opacity="0.53"/><circle cx="351.3" cy="272.0" r="0.64" fill="#5040b0" fill-opacity="0.56"/><circle cx="404.4" cy="276.8" r="0.49" fill="#5040b0" fill-opacity="0.57"/><circle cx="331.2" cy="279.1" r="0.39" fill="#5040b0" fill-opacity="0.35"/><circle cx="350.8" cy="226.0" r="0.37" fill="#5040b0" fill-opacity="0.37"/><circle cx="341.4" cy="276.0" r="0.45" fill="#5040b0" fill-opacity="0.37"/><circle cx="398.5" cy="285.3" r="0.34" fill="#5040b0" fill-opacity="0.44"/><circle cx="350.6" cy="304.9" r="0.41" fill="#5040b0" fill-opacity="0.37"/><circle cx="325.5" cy="269.2" r="0.62" fill="#5040b0" fill-opacity="0.37"/><circle cx="381.9" cy="227.2" r="0.52" fill="#5040b0" fill-opacity="0.54"/><circle cx="386.1" cy="228.8" r="0.49" fill="#5040b0" fill-opacity="0.52"/><circle cx="343.9" cy="292.5" r="0.51" fill="#5040b0" fill-opacity="0.38"/><circle cx="326.5" cy="280.6" r="1.21" fill="#5040b0" fill-opacity="0.53"/><circle cx="371.0" cy="288.0" r="0.32" fill="#5040b0" fill-opacity="0.42"/><circle cx="351.4" cy="247.5" r="0.51" fill="#5040b0" fill-opacity="0.57"/><circle cx="406.7" cy="247.7" r="0.41" fill="#5040b0" fill-opacity="0.61"/><circle cx="340.8" cy="237.8" r="0.43" fill="#5040b0" fill-opacity="0.50"/><circle cx="391.4" cy="302.8" r="0.53" fill="#5040b0" fill-opacity="0.42"/><circle cx="371.4" cy="273.1" r="0.58" fill="#5040b0" fill-opacity="0.50"/><circle cx="402.9" cy="251.3" r="0.59" fill="#5040b0" fill-opacity="0.38"/><circle cx="382.9" cy="294.6" r="0.60" fill="#5040b0" fill-opacity="0.60"/><circle cx="362.9" cy="310.2" r="0.41" fill="#5040b0" fill-opacity="0.62"/><circle cx="348.8" cy="302.7" r="0.61" fill="#5040b0" fill-opacity="0.47"/><circle cx="352.1" cy="229.2" r="0.40" fill="#5040b0" fill-opacity="0.32"/><circle cx="397.0" cy="282.9" r="0.52" fill="#5040b0" fill-opacity="0.43"/><circle cx="369.9" cy="235.3" r="0.37" fill="#5040b0" fill-opacity="0.46"/><circle cx="403.9" cy="268.8" r="0.31" fill="#5040b0" fill-opacity="0.51"/><circle cx="336.6" cy="286.9" r="0.53" fill="#5040b0" fill-opacity="0.60"/><circle cx="394.9" cy="234.6" r="0.45" fill="#5040b0" fill-opacity="0.35"/><circle cx="389.2" cy="287.3" r="0.46" fill="#5040b0" fill-opacity="0.36"/><circle cx="348.7" cy="280.8" r="0.37" fill="#5040b0" fill-opacity="0.42"/><circle cx="341.5" cy="278.5" r="0.62" fill="#5040b0" fill-opacity="0.51"/><circle cx="405.4" cy="247.2" r="0.63" fill="#5040b0" fill-opacity="0.39"/><circle cx="362.7" cy="227.6" r="0.60" fill="#5040b0" fill-opacity="0.46"/><circle cx="398.3" cy="278.2" r="0.91" fill="#5040b0" fill-opacity="0.56"/><circle cx="402.4" cy="242.4" r="0.43" fill="#5040b0" fill-opacity="0.53"/><circle cx="349.3" cy="226.3" r="0.48" fill="#5040b0" fill-opacity="0.58"/><circle cx="375.0" cy="234.7" r="0.57" fill="#5040b0" fill-opacity="0.63"/><circle cx="376.6" cy="251.0" r="0.87" fill="#5040b0" fill-opacity="0.53"/><circle cx="368.6" cy="294.0" r="0.54" fill="#5040b0" fill-opacity="0.60"/><circle cx="346.5" cy="243.6" r="1.12" fill="#5040b0" fill-opacity="0.54"/><circle cx="385.5" cy="252.3" r="0.45" fill="#5040b0" fill-opacity="0.45"/><circle cx="408.2" cy="266.3" r="0.55" fill="#5040b0" fill-opacity="0.40"/><circle cx="393.0" cy="288.5" r="0.52" fill="#5040b0" fill-opacity="0.33"/><circle cx="330.2" cy="245.3" r="0.36" fill="#5040b0" fill-opacity="0.41"/><circle cx="346.6" cy="306.6" r="0.38" fill="#5040b0" fill-opacity="0.55"/><circle cx="407.7" cy="247.1" r="0.63" fill="#5040b0" fill-opacity="0.55"/><circle cx="376.9" cy="238.9" r="0.53" fill="#5040b0" fill-opacity="0.54"/><circle cx="335.3" cy="252.6" r="0.54" fill="#5040b0" fill-opacity="0.51"/><circle cx="382.2" cy="232.2" r="0.61" fill="#5040b0" fill-opacity="0.45"/><circle cx="387.8" cy="260.7" r="0.62" fill="#5040b0" fill-opacity="0.53"/><circle cx="359.7" cy="283.6" r="0.41" fill="#5040b0" fill-opacity="0.43"/><circle cx="340.9" cy="241.3" r="1.11" fill="#5040b0" fill-opacity="0.64"/><circle cx="380.2" cy="239.1" r="0.51" fill="#5040b0" fill-opacity="0.63"/><circle cx="387.6" cy="301.7" r="0.38" fill="#5040b0" fill-opacity="0.56"/><circle cx="366.6" cy="305.8" r="1.05" fill="#5040b0" fill-opacity="0.59"/><circle cx="367.4" cy="230.4" r="0.96" fill="#5040b0" fill-opacity="0.53"/><circle cx="344.8" cy="276.7" r="0.62" fill="#5040b0" fill-opacity="0.39"/><circle cx="381.1" cy="242.9" r="0.43" fill="#5040b0" fill-opacity="0.36"/><circle cx="358.8" cy="244.5" r="0.47" fill="#5040b0" fill-opacity="0.37"/><circle cx="386.9" cy="305.4" r="0.55" fill="#5040b0" fill-opacity="0.40"/><circle cx="399.6" cy="256.7" r="0.56" fill="#5040b0" fill-opacity="0.32"/><circle cx="356.5" cy="241.7" r="0.55" fill="#5040b0" fill-opacity="0.59"/><circle cx="395.3" cy="254.3" r="0.43" fill="#5040b0" fill-opacity="0.52"/><circle cx="332.2" cy="252.8" r="0.62" fill="#5040b0" fill-opacity="0.50"/><circle cx="339.2" cy="295.3" r="0.30" fill="#5040b0" fill-opacity="0.32"/><circle cx="387.1" cy="227.3" r="0.39" fill="#5040b0" fill-opacity="0.47"/><circle cx="368.8" cy="226.7" r="0.41" fill="#5040b0" fill-opacity="0.43"/><circle cx="408.4" cy="285.7" r="0.62" fill="#5040b0" fill-opacity="0.58"/><circle cx="372.1" cy="225.1" r="0.38" fill="#5040b0" fill-opacity="0.45"/><circle cx="351.3" cy="298.5" r="0.42" fill="#5040b0" fill-opacity="0.34"/><circle cx="323.8" cy="275.8" r="0.32" fill="#5040b0" fill-opacity="0.32"/><circle cx="399.7" cy="294.1" r="0.31" fill="#5040b0" fill-opacity="0.44"/><circle cx="367.1" cy="306.9" r="0.63" fill="#5040b0" fill-opacity="0.31"/><circle cx="401.9" cy="290.3" r="0.40" fill="#5040b0" fill-opacity="0.36"/></g>
<rect x="426.1" y="217.0" width="99.7" height="99.6" fill="url(#pbg2)"/>
<circle cx="475.75" cy="267.00" r="47.80" fill="url(#pinC)" stroke="url(#rim2)" stroke-width="2.8"/>
<g filter="url(#blur1)"></g>
<rect x="210.2" y="339.0" width="99.7" height="100.5" fill="url(#pbg)"/>
<circle cx="259.85" cy="389.45" r="47.85" fill="url(#pinA)" stroke="url(#rim)" stroke-width="2.8"/>
<g filter="url(#blur1)"><circle cx="292.5" cy="415.4" r="0.48" fill="#5040b0" fill-opacity="0.39"/><circle cx="256.2" cy="353.1" r="0.53" fill="#5040b0" fill-opacity="0.57"/><circle cx="283.7" cy="411.4" r="0.48" fill="#5040b0" fill-opacity="0.58"/><circle cx="248.1" cy="376.6" r="0.44" fill="#5040b0" fill-opacity="0.53"/><circle cx="278.6" cy="407.7" r="0.78" fill="#5040b0" fill-opacity="0.44"/><circle cx="297.4" cy="387.2" r="0.66" fill="#5040b0" fill-opacity="0.34"/><circle cx="229.5" cy="370.4" r="1.45" fill="#5040b0" fill-opacity="0.65"/><circle cx="270.3" cy="417.9" r="0.58" fill="#5040b0" fill-opacity="0.34"/><circle cx="265.4" cy="377.2" r="1.37" fill="#5040b0" fill-opacity="0.53"/><circle cx="246.3" cy="387.2" r="0.59" fill="#5040b0" fill-opacity="0.46"/><circle cx="230.2" cy="392.3" r="1.22" fill="#5040b0" fill-opacity="0.57"/><circle cx="288.8" cy="356.8" r="1.35" fill="#5040b0" fill-opacity="0.67"/><circle cx="301.3" cy="394.4" r="0.51" fill="#5040b0" fill-opacity="0.50"/><circle cx="281.3" cy="380.8" r="0.63" fill="#5040b0" fill-opacity="0.46"/><circle cx="258.8" cy="417.5" r="0.78" fill="#5040b0" fill-opacity="0.51"/><circle cx="251.0" cy="432.1" r="0.38" fill="#5040b0" fill-opacity="0.35"/><circle cx="270.1" cy="420.4" r="0.47" fill="#5040b0" fill-opacity="0.51"/><circle cx="289.6" cy="372.4" r="0.60" fill="#5040b0" fill-opacity="0.51"/><circle cx="296.5" cy="375.5" r="0.52" fill="#5040b0" fill-opacity="0.43"/><circle cx="298.0" cy="379.6" r="0.75" fill="#5040b0" fill-opacity="0.51"/><circle cx="260.6" cy="433.0" r="0.48" fill="#5040b0" fill-opacity="0.34"/><circle cx="271.3" cy="425.1" r="0.56" fill="#5040b0" fill-opacity="0.49"/><circle cx="230.7" cy="416.7" r="0.55" fill="#5040b0" fill-opacity="0.35"/><circle cx="265.0" cy="418.5" r="1.33" fill="#5040b0" fill-opacity="0.57"/><circle cx="237.8" cy="360.3" r="0.64" fill="#5040b0" fill-opacity="0.50"/><circle cx="287.4" cy="397.7" r="0.76" fill="#5040b0" fill-opacity="0.60"/><circle cx="298.1" cy="405.1" r="0.41" fill="#5040b0" fill-opacity="0.60"/><circle cx="219.7" cy="409.5" r="0.76" fill="#5040b0" fill-opacity="0.32"/><circle cx="266.6" cy="365.5" r="0.61" fill="#5040b0" fill-opacity="0.30"/><circle cx="221.9" cy="401.9" r="0.49" fill="#5040b0" fill-opacity="0.64"/><circle cx="260.3" cy="430.8" r="1.52" fill="#5040b0" fill-opacity="0.57"/><circle cx="304.1" cy="386.3" r="0.53" fill="#5040b0" fill-opacity="0.46"/><circle cx="235.2" cy="425.4" r="1.50" fill="#5040b0" fill-opacity="0.74"/><circle cx="247.8" cy="346.8" r="0.55" fill="#5040b0" fill-opacity="0.62"/><circle cx="286.9" cy="402.1" r="0.54" fill="#5040b0" fill-opacity="0.54"/><circle cx="288.4" cy="383.6" r="1.44" fill="#5040b0" fill-opacity="0.64"/><circle cx="235.1" cy="410.5" r="0.47" fill="#5040b0" fill-opacity="0.39"/><circle cx="274.1" cy="372.2" r="0.60" fill="#5040b0" fill-opacity="0.31"/><circle cx="241.1" cy="352.5" r="0.55" fill="#5040b0" fill-opacity="0.38"/><circle cx="258.4" cy="348.9" r="0.52" fill="#5040b0" fill-opacity="0.54"/><circle cx="233.7" cy="412.6" r="0.51" fill="#5040b0" fill-opacity="0.47"/><circle cx="271.7" cy="367.3" r="0.42" fill="#5040b0" fill-opacity="0.60"/><circle cx="253.2" cy="431.8" r="0.59" fill="#5040b0" fill-opacity="0.54"/><circle cx="224.1" cy="392.6" r="0.44" fill="#5040b0" fill-opacity="0.58"/><circle cx="291.6" cy="394.2" r="1.28" fill="#5040b0" fill-opacity="0.77"/><circle cx="249.4" cy="416.1" r="0.51" fill="#5040b0" fill-opacity="0.42"/><circle cx="280.2" cy="362.7" r="0.79" fill="#5040b0" fill-opacity="0.45"/><circle cx="294.4" cy="392.8" r="0.45" fill="#5040b0" fill-opacity="0.58"/><circle cx="291.1" cy="416.8" r="0.62" fill="#5040b0" fill-opacity="0.34"/><circle cx="265.7" cy="352.3" r="0.40" fill="#5040b0" fill-opacity="0.59"/><circle cx="269.4" cy="369.5" r="0.59" fill="#5040b0" fill-opacity="0.56"/><circle cx="236.3" cy="412.4" r="0.63" fill="#5040b0" fill-opacity="0.59"/><circle cx="293.8" cy="408.3" r="0.46" fill="#5040b0" fill-opacity="0.62"/><circle cx="284.2" cy="408.6" r="0.39" fill="#5040b0" fill-opacity="0.53"/><circle cx="295.3" cy="383.2" r="0.48" fill="#5040b0" fill-opacity="0.46"/><circle cx="301.9" cy="382.2" r="1.21" fill="#5040b0" fill-opacity="0.50"/><circle cx="285.4" cy="399.9" r="1.24" fill="#5040b0" fill-opacity="0.73"/><circle cx="298.4" cy="370.0" r="0.77" fill="#5040b0" fill-opacity="0.45"/><circle cx="237.3" cy="423.6" r="0.66" fill="#5040b0" fill-opacity="0.63"/><circle cx="284.9" cy="425.4" r="0.49" fill="#5040b0" fill-opacity="0.39"/><circle cx="251.0" cy="418.7" r="1.09" fill="#5040b0" fill-opacity="0.69"/><circle cx="265.7" cy="409.4" r="0.37" fill="#5040b0" fill-opacity="0.56"/><circle cx="241.0" cy="360.1" r="0.46" fill="#5040b0" fill-opacity="0.64"/><circle cx="265.3" cy="432.1" r="1.43" fill="#5040b0" fill-opacity="0.63"/><circle cx="216.0" cy="388.8" r="0.39" fill="#5040b0" fill-opacity="0.61"/><circle cx="219.7" cy="401.1" r="0.76" fill="#5040b0" fill-opacity="0.63"/><circle cx="216.9" cy="388.2" r="1.31" fill="#5040b0" fill-opacity="0.51"/><circle cx="285.1" cy="385.0" r="0.50" fill="#5040b0" fill-opacity="0.49"/><circle cx="261.6" cy="384.3" r="0.77" fill="#5040b0" fill-opacity="0.45"/><circle cx="218.9" cy="404.4" r="0.54" fill="#5040b0" fill-opacity="0.38"/><circle cx="253.0" cy="366.3" r="0.69" fill="#5040b0" fill-opacity="0.56"/><circle cx="215.6" cy="394.7" r="0.67" fill="#5040b0" fill-opacity="0.46"/><circle cx="233.2" cy="421.7" r="0.53" fill="#5040b0" fill-opacity="0.43"/><circle cx="298.1" cy="393.8" r="0.67" fill="#5040b0" fill-opacity="0.59"/><circle cx="294.4" cy="377.0" r="0.39" fill="#5040b0" fill-opacity="0.44"/><circle cx="296.8" cy="370.7" r="0.44" fill="#5040b0" fill-opacity="0.31"/><circle cx="247.3" cy="431.0" r="0.58" fill="#5040b0" fill-opacity="0.37"/><circle cx="270.0" cy="378.8" r="0.37" fill="#5040b0" fill-opacity="0.38"/><circle cx="224.4" cy="412.5" r="0.71" fill="#5040b0" fill-opacity="0.52"/><circle cx="262.7" cy="384.4" r="1.44" fill="#5040b0" fill-opacity="0.51"/><circle cx="290.8" cy="410.4" r="1.31" fill="#5040b0" fill-opacity="0.53"/><circle cx="249.9" cy="409.5" r="0.69" fill="#5040b0" fill-opacity="0.41"/><circle cx="259.9" cy="434.1" r="0.54" fill="#5040b0" fill-opacity="0.61"/><circle cx="242.3" cy="353.6" r="0.58" fill="#5040b0" fill-opacity="0.40"/><circle cx="237.8" cy="392.6" r="0.44" fill="#5040b0" fill-opacity="0.58"/><circle cx="225.3" cy="383.8" r="0.55" fill="#5040b0" fill-opacity="0.49"/><circle cx="295.8" cy="389.5" r="0.78" fill="#5040b0" fill-opacity="0.31"/><circle cx="271.0" cy="390.7" r="0.78" fill="#5040b0" fill-opacity="0.57"/><circle cx="237.9" cy="372.4" r="1.17" fill="#5040b0" fill-opacity="0.54"/><circle cx="272.0" cy="358.7" r="0.49" fill="#5040b0" fill-opacity="0.61"/><circle cx="252.6" cy="354.5" r="0.75" fill="#5040b0" fill-opacity="0.65"/><circle cx="218.7" cy="373.5" r="0.74" fill="#5040b0" fill-opacity="0.52"/><circle cx="292.5" cy="416.5" r="0.77" fill="#5040b0" fill-opacity="0.33"/><circle cx="239.9" cy="363.8" r="0.41" fill="#5040b0" fill-opacity="0.47"/><circle cx="222.2" cy="399.8" r="0.49" fill="#5040b0" fill-opacity="0.49"/><circle cx="286.7" cy="418.7" r="0.48" fill="#5040b0" fill-opacity="0.47"/><circle cx="291.5" cy="410.7" r="1.32" fill="#5040b0" fill-opacity="0.78"/><circle cx="253.4" cy="423.9" r="0.48" fill="#5040b0" fill-opacity="0.52"/><circle cx="241.5" cy="387.3" r="0.73" fill="#5040b0" fill-opacity="0.37"/><circle cx="246.8" cy="359.3" r="0.71" fill="#5040b0" fill-opacity="0.34"/><circle cx="230.0" cy="380.4" r="0.44" fill="#5040b0" fill-opacity="0.44"/><circle cx="298.9" cy="396.9" r="0.76" fill="#5040b0" fill-opacity="0.39"/><circle cx="271.0" cy="355.3" r="0.68" fill="#5040b0" fill-opacity="0.44"/><circle cx="296.7" cy="379.8" r="0.67" fill="#5040b0" fill-opacity="0.37"/><circle cx="229.3" cy="409.2" r="0.48" fill="#5040b0" fill-opacity="0.63"/><circle cx="290.0" cy="397.2" r="1.07" fill="#5040b0" fill-opacity="0.78"/><circle cx="297.7" cy="394.7" r="0.72" fill="#5040b0" fill-opacity="0.34"/><circle cx="274.9" cy="381.6" r="0.66" fill="#5040b0" fill-opacity="0.50"/><circle cx="252.1" cy="370.0" r="0.77" fill="#5040b0" fill-opacity="0.50"/><circle cx="250.4" cy="360.8" r="1.08" fill="#5040b0" fill-opacity="0.72"/><circle cx="269.0" cy="419.3" r="1.16" fill="#5040b0" fill-opacity="0.65"/><circle cx="294.4" cy="369.7" r="0.47" fill="#5040b0" fill-opacity="0.42"/><circle cx="216.3" cy="380.9" r="0.53" fill="#5040b0" fill-opacity="0.50"/><circle cx="265.9" cy="392.2" r="1.42" fill="#5040b0" fill-opacity="0.70"/><circle cx="215.8" cy="398.4" r="0.46" fill="#5040b0" fill-opacity="0.33"/><circle cx="225.9" cy="409.0" r="1.35" fill="#5040b0" fill-opacity="0.59"/><circle cx="300.2" cy="375.1" r="0.98" fill="#5040b0" fill-opacity="0.51"/><circle cx="252.0" cy="392.4" r="1.52" fill="#5040b0" fill-opacity="0.64"/><circle cx="258.6" cy="406.9" r="1.41" fill="#5040b0" fill-opacity="0.78"/><circle cx="270.0" cy="366.0" r="0.53" fill="#5040b0" fill-opacity="0.57"/><circle cx="298.7" cy="392.5" r="0.41" fill="#5040b0" fill-opacity="0.64"/><circle cx="272.7" cy="357.8" r="0.63" fill="#5040b0" fill-opacity="0.55"/><circle cx="229.3" cy="367.5" r="0.40" fill="#5040b0" fill-opacity="0.35"/><circle cx="283.3" cy="421.6" r="0.61" fill="#5040b0" fill-opacity="0.32"/><circle cx="302.0" cy="374.2" r="0.47" fill="#5040b0" fill-opacity="0.35"/><circle cx="297.5" cy="408.9" r="0.44" fill="#5040b0" fill-opacity="0.40"/><circle cx="279.3" cy="382.6" r="1.35" fill="#5040b0" fill-opacity="0.53"/><circle cx="278.3" cy="349.9" r="0.70" fill="#5040b0" fill-opacity="0.47"/><circle cx="241.8" cy="429.8" r="0.72" fill="#5040b0" fill-opacity="0.31"/><circle cx="276.1" cy="357.7" r="1.07" fill="#5040b0" fill-opacity="0.62"/><circle cx="220.2" cy="388.4" r="1.08" fill="#5040b0" fill-opacity="0.53"/><circle cx="290.4" cy="378.8" r="0.48" fill="#5040b0" fill-opacity="0.46"/><circle cx="244.3" cy="421.5" r="0.75" fill="#5040b0" fill-opacity="0.56"/><circle cx="293.3" cy="408.2" r="1.49" fill="#5040b0" fill-opacity="0.53"/><circle cx="272.1" cy="399.2" r="1.22" fill="#5040b0" fill-opacity="0.68"/><circle cx="215.2" cy="394.0" r="1.17" fill="#5040b0" fill-opacity="0.55"/><circle cx="285.2" cy="369.0" r="0.55" fill="#5040b0" fill-opacity="0.49"/><circle cx="258.8" cy="425.6" r="0.71" fill="#5040b0" fill-opacity="0.33"/><circle cx="274.7" cy="357.7" r="0.45" fill="#5040b0" fill-opacity="0.48"/><circle cx="228.9" cy="380.5" r="0.59" fill="#5040b0" fill-opacity="0.58"/><circle cx="243.1" cy="414.8" r="0.39" fill="#5040b0" fill-opacity="0.61"/><circle cx="226.0" cy="385.7" r="0.41" fill="#5040b0" fill-opacity="0.35"/><circle cx="235.8" cy="384.1" r="0.78" fill="#5040b0" fill-opacity="0.53"/><circle cx="296.3" cy="393.8" r="0.52" fill="#5040b0" fill-opacity="0.61"/><circle cx="269.7" cy="352.8" r="0.43" fill="#5040b0" fill-opacity="0.55"/><circle cx="284.1" cy="361.3" r="0.42" fill="#5040b0" fill-opacity="0.39"/><circle cx="300.8" cy="407.4" r="0.65" fill="#5040b0" fill-opacity="0.54"/><circle cx="237.6" cy="393.6" r="0.53" fill="#5040b0" fill-opacity="0.38"/><circle cx="228.4" cy="371.3" r="1.38" fill="#5040b0" fill-opacity="0.80"/><circle cx="254.4" cy="346.7" r="0.61" fill="#5040b0" fill-opacity="0.46"/><circle cx="287.3" cy="385.4" r="1.12" fill="#5040b0" fill-opacity="0.67"/><circle cx="300.8" cy="373.9" r="0.68" fill="#5040b0" fill-opacity="0.41"/><circle cx="293.0" cy="399.1" r="0.69" fill="#5040b0" fill-opacity="0.64"/><circle cx="289.8" cy="420.7" r="0.70" fill="#5040b0" fill-opacity="0.54"/><circle cx="228.7" cy="418.5" r="0.78" fill="#5040b0" fill-opacity="0.59"/><circle cx="280.9" cy="408.0" r="0.54" fill="#5040b0" fill-opacity="0.36"/><circle cx="217.8" cy="399.9" r="0.42" fill="#5040b0" fill-opacity="0.34"/><circle cx="268.8" cy="368.4" r="0.66" fill="#5040b0" fill-opacity="0.33"/><circle cx="230.4" cy="394.6" r="0.65" fill="#5040b0" fill-opacity="0.64"/><circle cx="262.9" cy="401.3" r="0.73" fill="#5040b0" fill-opacity="0.31"/><circle cx="291.6" cy="398.2" r="0.66" fill="#5040b0" fill-opacity="0.44"/><circle cx="280.4" cy="385.2" r="1.00" fill="#5040b0" fill-opacity="0.79"/><circle cx="289.2" cy="363.9" r="0.46" fill="#5040b0" fill-opacity="0.36"/><circle cx="264.5" cy="412.3" r="0.48" fill="#5040b0" fill-opacity="0.42"/><circle cx="272.2" cy="351.1" r="0.41" fill="#5040b0" fill-opacity="0.52"/><circle cx="237.5" cy="368.2" r="0.77" fill="#5040b0" fill-opacity="0.39"/><circle cx="284.4" cy="424.3" r="0.55" fill="#5040b0" fill-opacity="0.36"/><circle cx="216.4" cy="399.6" r="0.73" fill="#5040b0" fill-opacity="0.65"/><circle cx="226.5" cy="386.4" r="0.75" fill="#5040b0" fill-opacity="0.62"/><circle cx="225.1" cy="374.2" r="0.78" fill="#5040b0" fill-opacity="0.34"/><circle cx="256.5" cy="349.3" r="1.14" fill="#5040b0" fill-opacity="0.79"/><circle cx="262.0" cy="354.0" r="1.37" fill="#5040b0" fill-opacity="0.67"/><circle cx="284.2" cy="387.2" r="0.55" fill="#5040b0" fill-opacity="0.46"/><circle cx="270.5" cy="417.6" r="0.72" fill="#5040b0" fill-opacity="0.41"/><circle cx="217.3" cy="403.3" r="0.61" fill="#5040b0" fill-opacity="0.64"/><circle cx="219.8" cy="396.0" r="0.55" fill="#5040b0" fill-opacity="0.53"/><circle cx="251.4" cy="352.7" r="0.69" fill="#5040b0" fill-opacity="0.55"/><circle cx="237.2" cy="386.6" r="0.75" fill="#5040b0" fill-opacity="0.60"/><circle cx="258.8" cy="352.2" r="0.50" fill="#5040b0" fill-opacity="0.49"/><circle cx="246.8" cy="404.4" r="0.77" fill="#5040b0" fill-opacity="0.64"/><circle cx="259.0" cy="407.8" r="0.51" fill="#5040b0" fill-opacity="0.59"/><circle cx="295.5" cy="388.6" r="0.97" fill="#5040b0" fill-opacity="0.70"/><circle cx="251.9" cy="409.6" r="0.55" fill="#5040b0" fill-opacity="0.49"/><circle cx="260.6" cy="375.8" r="1.06" fill="#5040b0" fill-opacity="0.54"/><circle cx="278.4" cy="428.5" r="0.40" fill="#5040b0" fill-opacity="0.30"/><circle cx="294.5" cy="372.2" r="0.61" fill="#5040b0" fill-opacity="0.57"/><circle cx="291.7" cy="390.5" r="0.45" fill="#5040b0" fill-opacity="0.44"/><circle cx="243.0" cy="353.4" r="1.09" fill="#5040b0" fill-opacity="0.70"/><circle cx="257.9" cy="348.3" r="0.37" fill="#5040b0" fill-opacity="0.41"/><circle cx="285.5" cy="401.8" r="0.74" fill="#5040b0" fill-opacity="0.31"/><circle cx="217.2" cy="402.0" r="0.73" fill="#5040b0" fill-opacity="0.58"/><circle cx="242.9" cy="423.2" r="0.55" fill="#5040b0" fill-opacity="0.63"/><circle cx="258.5" cy="427.0" r="0.69" fill="#5040b0" fill-opacity="0.61"/><circle cx="270.4" cy="359.3" r="0.68" fill="#5040b0" fill-opacity="0.62"/><circle cx="279.3" cy="391.5" r="0.41" fill="#5040b0" fill-opacity="0.41"/><circle cx="275.9" cy="408.9" r="0.43" fill="#5040b0" fill-opacity="0.46"/><circle cx="286.4" cy="399.4" r="0.48" fill="#5040b0" fill-opacity="0.38"/><circle cx="233.3" cy="425.1" r="0.68" fill="#5040b0" fill-opacity="0.32"/><circle cx="243.4" cy="428.8" r="0.57" fill="#5040b0" fill-opacity="0.46"/><circle cx="298.8" cy="402.5" r="0.43" fill="#5040b0" fill-opacity="0.39"/><circle cx="264.4" cy="376.8" r="0.68" fill="#5040b0" fill-opacity="0.43"/><circle cx="251.8" cy="370.4" r="0.41" fill="#5040b0" fill-opacity="0.48"/><circle cx="256.3" cy="381.2" r="0.70" fill="#5040b0" fill-opacity="0.64"/><circle cx="291.5" cy="416.0" r="0.44" fill="#5040b0" fill-opacity="0.43"/><circle cx="266.8" cy="407.1" r="1.00" fill="#5040b0" fill-opacity="0.73"/><circle cx="266.6" cy="376.8" r="0.51" fill="#5040b0" fill-opacity="0.46"/><circle cx="254.4" cy="415.2" r="0.45" fill="#5040b0" fill-opacity="0.36"/><circle cx="236.1" cy="395.2" r="0.71" fill="#5040b0" fill-opacity="0.58"/><circle cx="286.9" cy="413.8" r="0.99" fill="#5040b0" fill-opacity="0.80"/><circle cx="290.5" cy="413.5" r="0.66" fill="#5040b0" fill-opacity="0.33"/><circle cx="239.5" cy="408.3" r="0.47" fill="#5040b0" fill-opacity="0.50"/><circle cx="260.2" cy="416.8" r="0.43" fill="#5040b0" fill-opacity="0.30"/><circle cx="225.6" cy="415.8" r="0.56" fill="#5040b0" fill-opacity="0.36"/><circle cx="258.9" cy="416.4" r="0.65" fill="#5040b0" fill-opacity="0.31"/><circle cx="256.8" cy="367.3" r="0.46" fill="#5040b0" fill-opacity="0.58"/><circle cx="242.9" cy="364.2" r="0.64" fill="#5040b0" fill-opacity="0.45"/><circle cx="224.6" cy="376.6" r="0.69" fill="#5040b0" fill-opacity="0.63"/><circle cx="271.6" cy="391.2" r="0.52" fill="#5040b0" fill-opacity="0.47"/><circle cx="223.7" cy="401.4" r="0.45" fill="#5040b0" fill-opacity="0.47"/><circle cx="277.5" cy="364.7" r="0.54" fill="#5040b0" fill-opacity="0.44"/><circle cx="273.2" cy="421.7" r="0.37" fill="#5040b0" fill-opacity="0.58"/><circle cx="227.0" cy="405.2" r="0.47" fill="#5040b0" fill-opacity="0.52"/><circle cx="255.7" cy="416.3" r="0.64" fill="#5040b0" fill-opacity="0.39"/><circle cx="238.7" cy="415.0" r="0.73" fill="#5040b0" fill-opacity="0.57"/><circle cx="268.7" cy="362.3" r="0.78" fill="#5040b0" fill-opacity="0.55"/><circle cx="259.5" cy="413.9" r="1.44" fill="#5040b0" fill-opacity="0.55"/><circle cx="254.8" cy="416.7" r="0.44" fill="#5040b0" fill-opacity="0.43"/><circle cx="277.8" cy="407.0" r="0.47" fill="#5040b0" fill-opacity="0.36"/><circle cx="259.2" cy="381.5" r="0.59" fill="#5040b0" fill-opacity="0.42"/><circle cx="280.3" cy="377.5" r="0.39" fill="#5040b0" fill-opacity="0.34"/><circle cx="255.4" cy="420.4" r="0.42" fill="#5040b0" fill-opacity="0.58"/><circle cx="287.4" cy="369.1" r="0.72" fill="#5040b0" fill-opacity="0.62"/><circle cx="240.3" cy="379.4" r="0.40" fill="#5040b0" fill-opacity="0.40"/><circle cx="290.3" cy="412.7" r="0.49" fill="#5040b0" fill-opacity="0.52"/><circle cx="251.3" cy="363.5" r="1.22" fill="#5040b0" fill-opacity="0.69"/><circle cx="225.9" cy="378.0" r="0.73" fill="#5040b0" fill-opacity="0.47"/><circle cx="271.0" cy="375.0" r="0.50" fill="#5040b0" fill-opacity="0.43"/><circle cx="289.3" cy="416.4" r="1.11" fill="#5040b0" fill-opacity="0.52"/><circle cx="240.6" cy="399.3" r="0.55" fill="#5040b0" fill-opacity="0.47"/><circle cx="296.3" cy="383.3" r="0.56" fill="#5040b0" fill-opacity="0.61"/><circle cx="283.6" cy="419.5" r="0.72" fill="#5040b0" fill-opacity="0.62"/><circle cx="283.9" cy="361.6" r="0.58" fill="#5040b0" fill-opacity="0.33"/><circle cx="288.3" cy="422.3" r="0.71" fill="#5040b0" fill-opacity="0.64"/><circle cx="264.1" cy="434.0" r="0.57" fill="#5040b0" fill-opacity="0.46"/><circle cx="233.6" cy="378.5" r="0.52" fill="#5040b0" fill-opacity="0.37"/><circle cx="273.5" cy="427.1" r="0.68" fill="#5040b0" fill-opacity="0.60"/><circle cx="218.1" cy="376.1" r="0.69" fill="#5040b0" fill-opacity="0.46"/><circle cx="281.3" cy="409.6" r="0.46" fill="#5040b0" fill-opacity="0.45"/><circle cx="303.5" cy="378.9" r="0.49" fill="#5040b0" fill-opacity="0.44"/><circle cx="290.5" cy="361.8" r="1.22" fill="#5040b0" fill-opacity="0.57"/><circle cx="259.3" cy="381.2" r="0.64" fill="#5040b0" fill-opacity="0.50"/><circle cx="278.9" cy="389.4" r="0.48" fill="#5040b0" fill-opacity="0.52"/><circle cx="235.1" cy="373.6" r="0.60" fill="#5040b0" fill-opacity="0.53"/><circle cx="243.0" cy="372.8" r="0.49" fill="#5040b0" fill-opacity="0.59"/><circle cx="286.0" cy="426.1" r="0.37" fill="#5040b0" fill-opacity="0.44"/><circle cx="291.8" cy="410.5" r="0.67" fill="#5040b0" fill-opacity="0.30"/><circle cx="286.7" cy="353.9" r="0.77" fill="#5040b0" fill-opacity="0.49"/><circle cx="293.1" cy="366.3" r="0.47" fill="#5040b0" fill-opacity="0.31"/><circle cx="277.0" cy="404.0" r="0.42" fill="#5040b0" fill-opacity="0.40"/><circle cx="231.9" cy="376.1" r="1.02" fill="#5040b0" fill-opacity="0.59"/><circle cx="285.8" cy="358.0" r="0.77" fill="#5040b0" fill-opacity="0.59"/><circle cx="219.2" cy="406.8" r="0.67" fill="#5040b0" fill-opacity="0.35"/><circle cx="250.4" cy="360.1" r="0.73" fill="#5040b0" fill-opacity="0.61"/><circle cx="243.2" cy="359.4" r="0.71" fill="#5040b0" fill-opacity="0.46"/><circle cx="283.5" cy="393.4" r="0.73" fill="#5040b0" fill-opacity="0.30"/><circle cx="246.6" cy="369.9" r="0.54" fill="#5040b0" fill-opacity="0.46"/><circle cx="236.6" cy="352.8" r="0.56" fill="#5040b0" fill-opacity="0.35"/><circle cx="252.4" cy="423.4" r="0.64" fill="#5040b0" fill-opacity="0.60"/><circle cx="249.4" cy="416.1" r="0.63" fill="#5040b0" fill-opacity="0.37"/><circle cx="239.6" cy="400.6" r="0.54" fill="#5040b0" fill-opacity="0.40"/><circle cx="267.7" cy="408.9" r="1.07" fill="#5040b0" fill-opacity="0.76"/><circle cx="278.8" cy="426.6" r="0.53" fill="#5040b0" fill-opacity="0.35"/><circle cx="264.9" cy="366.6" r="0.62" fill="#5040b0" fill-opacity="0.43"/><circle cx="243.1" cy="351.2" r="0.61" fill="#5040b0" fill-opacity="0.35"/><circle cx="266.7" cy="355.5" r="0.71" fill="#5040b0" fill-opacity="0.63"/><circle cx="246.3" cy="399.7" r="1.51" fill="#5040b0" fill-opacity="0.65"/><circle cx="275.4" cy="376.2" r="0.74" fill="#5040b0" fill-opacity="0.65"/><circle cx="285.9" cy="417.4" r="0.77" fill="#5040b0" fill-opacity="0.46"/><circle cx="232.7" cy="390.6" r="0.50" fill="#5040b0" fill-opacity="0.35"/><circle cx="259.3" cy="379.8" r="1.28" fill="#5040b0" fill-opacity="0.52"/><circle cx="282.0" cy="422.9" r="0.70" fill="#5040b0" fill-opacity="0.58"/><circle cx="286.5" cy="360.3" r="0.38" fill="#5040b0" fill-opacity="0.59"/><circle cx="218.8" cy="395.1" r="0.68" fill="#5040b0" fill-opacity="0.36"/><circle cx="298.7" cy="381.7" r="1.31" fill="#5040b0" fill-opacity="0.60"/><circle cx="272.5" cy="350.1" r="0.40" fill="#5040b0" fill-opacity="0.61"/><circle cx="243.2" cy="373.1" r="1.30" fill="#5040b0" fill-opacity="0.62"/><circle cx="252.4" cy="428.2" r="0.52" fill="#5040b0" fill-opacity="0.61"/><circle cx="227.9" cy="361.6" r="1.44" fill="#5040b0" fill-opacity="0.57"/><circle cx="219.5" cy="382.1" r="0.62" fill="#5040b0" fill-opacity="0.37"/><circle cx="251.2" cy="428.9" r="0.72" fill="#5040b0" fill-opacity="0.63"/><circle cx="246.8" cy="347.1" r="0.62" fill="#5040b0" fill-opacity="0.53"/><circle cx="254.3" cy="355.5" r="0.49" fill="#5040b0" fill-opacity="0.35"/><circle cx="270.1" cy="354.9" r="0.67" fill="#5040b0" fill-opacity="0.35"/><circle cx="263.7" cy="407.0" r="0.50" fill="#5040b0" fill-opacity="0.51"/><circle cx="274.9" cy="349.4" r="0.41" fill="#5040b0" fill-opacity="0.32"/><circle cx="281.4" cy="412.1" r="0.69" fill="#5040b0" fill-opacity="0.38"/><circle cx="220.7" cy="402.9" r="0.69" fill="#5040b0" fill-opacity="0.32"/><circle cx="248.8" cy="391.9" r="1.21" fill="#5040b0" fill-opacity="0.51"/><circle cx="226.8" cy="367.5" r="0.58" fill="#5040b0" fill-opacity="0.44"/><circle cx="264.7" cy="404.2" r="0.50" fill="#5040b0" fill-opacity="0.46"/><circle cx="281.9" cy="424.0" r="0.45" fill="#5040b0" fill-opacity="0.37"/><circle cx="264.5" cy="414.7" r="0.77" fill="#5040b0" fill-opacity="0.35"/><circle cx="251.5" cy="405.7" r="1.16" fill="#5040b0" fill-opacity="0.64"/><circle cx="287.0" cy="395.8" r="1.13" fill="#5040b0" fill-opacity="0.58"/><circle cx="289.6" cy="363.5" r="0.38" fill="#5040b0" fill-opacity="0.47"/><circle cx="237.5" cy="380.3" r="1.33" fill="#5040b0" fill-opacity="0.73"/><circle cx="299.4" cy="402.1" r="0.77" fill="#5040b0" fill-opacity="0.63"/><circle cx="271.0" cy="370.7" r="0.41" fill="#5040b0" fill-opacity="0.62"/><circle cx="231.3" cy="384.2" r="1.41" fill="#5040b0" fill-opacity="0.72"/><circle cx="289.9" cy="405.7" r="0.74" fill="#5040b0" fill-opacity="0.54"/><circle cx="221.7" cy="412.0" r="0.41" fill="#5040b0" fill-opacity="0.61"/><circle cx="222.0" cy="411.4" r="0.60" fill="#5040b0" fill-opacity="0.50"/><circle cx="277.0" cy="414.5" r="0.50" fill="#5040b0" fill-opacity="0.36"/><circle cx="297.4" cy="365.3" r="0.47" fill="#5040b0" fill-opacity="0.33"/><circle cx="241.4" cy="429.2" r="0.73" fill="#5040b0" fill-opacity="0.62"/><circle cx="281.8" cy="401.2" r="0.77" fill="#5040b0" fill-opacity="0.37"/><circle cx="272.4" cy="351.5" r="0.39" fill="#5040b0" fill-opacity="0.38"/><circle cx="222.1" cy="371.3" r="0.68" fill="#5040b0" fill-opacity="0.42"/><circle cx="278.2" cy="352.8" r="0.40" fill="#5040b0" fill-opacity="0.35"/><circle cx="260.8" cy="426.7" r="0.44" fill="#5040b0" fill-opacity="0.59"/><circle cx="222.5" cy="366.1" r="0.63" fill="#5040b0" fill-opacity="0.60"/><circle cx="235.1" cy="401.8" r="0.51" fill="#5040b0" fill-opacity="0.49"/><circle cx="242.3" cy="397.2" r="0.68" fill="#5040b0" fill-opacity="0.33"/><circle cx="260.0" cy="384.9" r="1.35" fill="#5040b0" fill-opacity="0.65"/><circle cx="272.9" cy="427.1" r="0.63" fill="#5040b0" fill-opacity="0.43"/><circle cx="225.2" cy="367.9" r="1.20" fill="#5040b0" fill-opacity="0.63"/><circle cx="284.5" cy="376.8" r="0.43" fill="#5040b0" fill-opacity="0.61"/><circle cx="282.3" cy="355.6" r="0.49" fill="#5040b0" fill-opacity="0.59"/><circle cx="224.7" cy="415.7" r="0.70" fill="#5040b0" fill-opacity="0.48"/><circle cx="256.1" cy="391.9" r="0.55" fill="#5040b0" fill-opacity="0.43"/><circle cx="215.7" cy="387.9" r="0.45" fill="#5040b0" fill-opacity="0.63"/><circle cx="238.1" cy="419.9" r="0.41" fill="#5040b0" fill-opacity="0.57"/><circle cx="265.1" cy="398.6" r="0.73" fill="#5040b0" fill-opacity="0.55"/><circle cx="297.6" cy="389.2" r="0.39" fill="#5040b0" fill-opacity="0.34"/><circle cx="284.9" cy="355.0" r="1.40" fill="#5040b0" fill-opacity="0.64"/><circle cx="259.4" cy="398.6" r="0.61" fill="#5040b0" fill-opacity="0.37"/><circle cx="297.8" cy="384.9" r="0.46" fill="#5040b0" fill-opacity="0.31"/><circle cx="222.4" cy="378.2" r="0.53" fill="#5040b0" fill-opacity="0.63"/><circle cx="241.1" cy="424.0" r="0.74" fill="#5040b0" fill-opacity="0.44"/><circle cx="255.5" cy="371.7" r="0.76" fill="#5040b0" fill-opacity="0.58"/><circle cx="294.3" cy="398.9" r="1.29" fill="#5040b0" fill-opacity="0.73"/><circle cx="233.7" cy="391.4" r="0.49" fill="#5040b0" fill-opacity="0.56"/><circle cx="272.7" cy="356.6" r="0.48" fill="#5040b0" fill-opacity="0.41"/><circle cx="220.8" cy="407.8" r="0.37" fill="#5040b0" fill-opacity="0.37"/><circle cx="298.1" cy="405.1" r="0.71" fill="#5040b0" fill-opacity="0.49"/><circle cx="222.0" cy="395.0" r="0.63" fill="#5040b0" fill-opacity="0.32"/><circle cx="218.7" cy="391.7" r="0.49" fill="#5040b0" fill-opacity="0.37"/><circle cx="283.8" cy="364.7" r="0.64" fill="#5040b0" fill-opacity="0.49"/><circle cx="271.5" cy="405.1" r="0.63" fill="#5040b0" fill-opacity="0.48"/><circle cx="283.3" cy="368.1" r="0.75" fill="#5040b0" fill-opacity="0.45"/><circle cx="228.8" cy="368.7" r="1.00" fill="#5040b0" fill-opacity="0.77"/><circle cx="245.0" cy="372.3" r="0.67" fill="#5040b0" fill-opacity="0.62"/><circle cx="276.9" cy="416.8" r="0.41" fill="#5040b0" fill-opacity="0.48"/><circle cx="233.1" cy="408.2" r="0.68" fill="#5040b0" fill-opacity="0.63"/><circle cx="229.2" cy="390.0" r="0.77" fill="#5040b0" fill-opacity="0.48"/><circle cx="261.3" cy="353.1" r="0.40" fill="#5040b0" fill-opacity="0.45"/><circle cx="229.5" cy="403.8" r="0.49" fill="#5040b0" fill-opacity="0.63"/><circle cx="224.5" cy="394.1" r="0.57" fill="#5040b0" fill-opacity="0.38"/><circle cx="255.5" cy="433.0" r="0.70" fill="#5040b0" fill-opacity="0.54"/><circle cx="262.5" cy="406.0" r="0.59" fill="#5040b0" fill-opacity="0.48"/><circle cx="261.4" cy="363.5" r="0.44" fill="#5040b0" fill-opacity="0.41"/><circle cx="242.6" cy="382.8" r="0.61" fill="#5040b0" fill-opacity="0.48"/><circle cx="235.0" cy="354.7" r="0.77" fill="#5040b0" fill-opacity="0.46"/><circle cx="296.0" cy="393.0" r="1.26" fill="#5040b0" fill-opacity="0.50"/><circle cx="285.6" cy="356.8" r="0.39" fill="#5040b0" fill-opacity="0.41"/><circle cx="218.4" cy="383.0" r="0.37" fill="#5040b0" fill-opacity="0.58"/><circle cx="247.1" cy="419.4" r="0.52" fill="#5040b0" fill-opacity="0.43"/><circle cx="221.3" cy="377.0" r="1.21" fill="#5040b0" fill-opacity="0.62"/><circle cx="270.6" cy="393.9" r="0.49" fill="#5040b0" fill-opacity="0.35"/><circle cx="233.1" cy="421.9" r="0.58" fill="#5040b0" fill-opacity="0.38"/><circle cx="286.1" cy="384.0" r="0.67" fill="#5040b0" fill-opacity="0.37"/><circle cx="262.0" cy="430.3" r="1.37" fill="#5040b0" fill-opacity="0.61"/><circle cx="265.5" cy="391.9" r="1.05" fill="#5040b0" fill-opacity="0.79"/><circle cx="295.8" cy="394.6" r="0.71" fill="#5040b0" fill-opacity="0.47"/><circle cx="278.5" cy="376.2" r="0.60" fill="#5040b0" fill-opacity="0.38"/><circle cx="228.4" cy="414.7" r="0.74" fill="#5040b0" fill-opacity="0.51"/><circle cx="277.0" cy="392.0" r="0.63" fill="#5040b0" fill-opacity="0.62"/><circle cx="227.0" cy="360.2" r="0.74" fill="#5040b0" fill-opacity="0.60"/><circle cx="241.3" cy="427.8" r="0.59" fill="#5040b0" fill-opacity="0.55"/><circle cx="292.2" cy="383.9" r="0.79" fill="#5040b0" fill-opacity="0.51"/><circle cx="299.5" cy="387.8" r="1.42" fill="#5040b0" fill-opacity="0.61"/><circle cx="301.9" cy="394.9" r="0.71" fill="#5040b0" fill-opacity="0.40"/><circle cx="263.3" cy="354.2" r="0.68" fill="#5040b0" fill-opacity="0.35"/><circle cx="235.7" cy="406.3" r="0.39" fill="#5040b0" fill-opacity="0.62"/><circle cx="268.8" cy="430.0" r="0.59" fill="#5040b0" fill-opacity="0.37"/><circle cx="278.7" cy="384.5" r="1.49" fill="#5040b0" fill-opacity="0.65"/><circle cx="254.4" cy="432.4" r="1.42" fill="#5040b0" fill-opacity="0.68"/><circle cx="266.9" cy="375.8" r="0.41" fill="#5040b0" fill-opacity="0.56"/><circle cx="276.1" cy="412.7" r="1.40" fill="#5040b0" fill-opacity="0.67"/><circle cx="234.4" cy="414.8" r="0.51" fill="#5040b0" fill-opacity="0.32"/><circle cx="242.0" cy="364.2" r="0.48" fill="#5040b0" fill-opacity="0.32"/><circle cx="278.6" cy="374.7" r="0.41" fill="#5040b0" fill-opacity="0.51"/><circle cx="255.2" cy="411.4" r="0.39" fill="#5040b0" fill-opacity="0.53"/><circle cx="224.8" cy="382.2" r="0.72" fill="#5040b0" fill-opacity="0.63"/><circle cx="264.9" cy="425.4" r="1.30" fill="#5040b0" fill-opacity="0.73"/><circle cx="249.6" cy="350.7" r="0.63" fill="#5040b0" fill-opacity="0.36"/><circle cx="248.4" cy="352.7" r="0.56" fill="#5040b0" fill-opacity="0.63"/><circle cx="226.2" cy="416.1" r="0.47" fill="#5040b0" fill-opacity="0.52"/><circle cx="272.5" cy="358.5" r="0.74" fill="#5040b0" fill-opacity="0.57"/><circle cx="286.8" cy="419.2" r="0.71" fill="#5040b0" fill-opacity="0.56"/><circle cx="259.1" cy="406.7" r="0.79" fill="#5040b0" fill-opacity="0.61"/><circle cx="234.6" cy="400.2" r="0.75" fill="#5040b0" fill-opacity="0.62"/><circle cx="225.0" cy="416.0" r="0.59" fill="#5040b0" fill-opacity="0.47"/><circle cx="265.5" cy="412.8" r="0.57" fill="#5040b0" fill-opacity="0.41"/><circle cx="284.9" cy="355.5" r="0.59" fill="#5040b0" fill-opacity="0.43"/><circle cx="286.4" cy="387.1" r="0.73" fill="#5040b0" fill-opacity="0.60"/><circle cx="238.0" cy="387.5" r="0.61" fill="#5040b0" fill-opacity="0.46"/><circle cx="245.0" cy="431.3" r="0.70" fill="#5040b0" fill-opacity="0.51"/><circle cx="283.3" cy="351.9" r="0.66" fill="#5040b0" fill-opacity="0.56"/><circle cx="263.6" cy="346.4" r="0.63" fill="#5040b0" fill-opacity="0.44"/><circle cx="232.3" cy="420.4" r="0.53" fill="#5040b0" fill-opacity="0.46"/><circle cx="266.9" cy="426.2" r="0.58" fill="#5040b0" fill-opacity="0.58"/><circle cx="267.2" cy="360.0" r="1.02" fill="#5040b0" fill-opacity="0.53"/><circle cx="218.3" cy="399.5" r="0.48" fill="#5040b0" fill-opacity="0.61"/><circle cx="266.9" cy="362.3" r="0.54" fill="#5040b0" fill-opacity="0.60"/><circle cx="291.8" cy="376.5" r="0.79" fill="#5040b0" fill-opacity="0.49"/><circle cx="252.2" cy="345.2" r="0.61" fill="#5040b0" fill-opacity="0.41"/><circle cx="231.0" cy="392.9" r="0.49" fill="#5040b0" fill-opacity="0.65"/><circle cx="263.8" cy="382.5" r="0.54" fill="#5040b0" fill-opacity="0.37"/><circle cx="272.6" cy="415.9" r="0.72" fill="#5040b0" fill-opacity="0.62"/><circle cx="282.7" cy="416.6" r="0.58" fill="#5040b0" fill-opacity="0.52"/><circle cx="231.1" cy="396.7" r="1.38" fill="#5040b0" fill-opacity="0.77"/><circle cx="274.2" cy="351.4" r="1.24" fill="#5040b0" fill-opacity="0.61"/><circle cx="218.3" cy="393.6" r="0.66" fill="#5040b0" fill-opacity="0.40"/><circle cx="245.5" cy="428.6" r="1.43" fill="#5040b0" fill-opacity="0.72"/><circle cx="229.2" cy="390.0" r="0.64" fill="#5040b0" fill-opacity="0.43"/><circle cx="283.6" cy="403.0" r="0.42" fill="#5040b0" fill-opacity="0.53"/><circle cx="225.8" cy="361.8" r="1.05" fill="#5040b0" fill-opacity="0.52"/><circle cx="275.1" cy="359.5" r="0.72" fill="#5040b0" fill-opacity="0.52"/><circle cx="253.7" cy="386.9" r="0.66" fill="#5040b0" fill-opacity="0.42"/><circle cx="227.2" cy="361.5" r="0.65" fill="#5040b0" fill-opacity="0.52"/><circle cx="275.2" cy="411.8" r="0.39" fill="#5040b0" fill-opacity="0.56"/><circle cx="238.8" cy="372.3" r="0.64" fill="#5040b0" fill-opacity="0.57"/><circle cx="293.4" cy="391.2" r="0.42" fill="#5040b0" fill-opacity="0.43"/><circle cx="228.5" cy="371.5" r="0.76" fill="#5040b0" fill-opacity="0.56"/><circle cx="281.0" cy="423.5" r="0.40" fill="#5040b0" fill-opacity="0.61"/><circle cx="224.9" cy="388.6" r="0.63" fill="#5040b0" fill-opacity="0.35"/><circle cx="257.0" cy="348.7" r="0.51" fill="#5040b0" fill-opacity="0.46"/><circle cx="236.3" cy="391.9" r="1.13" fill="#5040b0" fill-opacity="0.51"/><circle cx="228.1" cy="360.2" r="0.61" fill="#5040b0" fill-opacity="0.33"/><circle cx="231.7" cy="368.4" r="0.78" fill="#5040b0" fill-opacity="0.53"/><circle cx="226.0" cy="363.9" r="0.73" fill="#5040b0" fill-opacity="0.45"/><circle cx="244.6" cy="374.9" r="0.37" fill="#5040b0" fill-opacity="0.36"/><circle cx="290.5" cy="363.0" r="0.48" fill="#5040b0" fill-opacity="0.47"/><circle cx="243.9" cy="370.3" r="0.48" fill="#5040b0" fill-opacity="0.52"/><circle cx="235.1" cy="401.0" r="0.45" fill="#5040b0" fill-opacity="0.56"/><circle cx="232.3" cy="366.9" r="0.44" fill="#5040b0" fill-opacity="0.42"/><circle cx="257.8" cy="344.5" r="0.55" fill="#5040b0" fill-opacity="0.60"/><circle cx="246.0" cy="426.8" r="0.45" fill="#5040b0" fill-opacity="0.61"/><circle cx="267.1" cy="419.7" r="0.59" fill="#5040b0" fill-opacity="0.59"/><circle cx="230.8" cy="413.7" r="0.41" fill="#5040b0" fill-opacity="0.54"/><circle cx="254.4" cy="418.7" r="0.75" fill="#5040b0" fill-opacity="0.59"/><circle cx="219.4" cy="403.4" r="0.38" fill="#5040b0" fill-opacity="0.43"/><circle cx="239.7" cy="428.0" r="0.50" fill="#5040b0" fill-opacity="0.63"/><circle cx="283.4" cy="407.5" r="0.55" fill="#5040b0" fill-opacity="0.56"/><circle cx="254.7" cy="411.7" r="0.61" fill="#5040b0" fill-opacity="0.44"/><circle cx="289.3" cy="381.0" r="1.33" fill="#5040b0" fill-opacity="0.58"/><circle cx="239.9" cy="426.4" r="0.50" fill="#5040b0" fill-opacity="0.31"/><circle cx="265.3" cy="370.5" r="0.48" fill="#5040b0" fill-opacity="0.53"/><circle cx="281.3" cy="373.5" r="0.99" fill="#5040b0" fill-opacity="0.70"/><circle cx="254.8" cy="365.3" r="0.78" fill="#5040b0" fill-opacity="0.31"/><circle cx="220.5" cy="386.2" r="0.38" fill="#5040b0" fill-opacity="0.39"/><circle cx="242.4" cy="352.2" r="0.57" fill="#5040b0" fill-opacity="0.55"/><circle cx="292.4" cy="404.5" r="0.74" fill="#5040b0" fill-opacity="0.61"/><circle cx="244.0" cy="365.0" r="0.52" fill="#5040b0" fill-opacity="0.37"/><circle cx="287.0" cy="423.1" r="0.57" fill="#5040b0" fill-opacity="0.33"/><circle cx="250.8" cy="402.1" r="0.47" fill="#5040b0" fill-opacity="0.46"/><circle cx="283.7" cy="422.1" r="0.96" fill="#5040b0" fill-opacity="0.75"/><circle cx="237.3" cy="377.9" r="1.03" fill="#5040b0" fill-opacity="0.64"/><circle cx="266.1" cy="345.2" r="0.39" fill="#5040b0" fill-opacity="0.33"/><circle cx="272.7" cy="373.6" r="0.40" fill="#5040b0" fill-opacity="0.60"/><circle cx="269.8" cy="409.6" r="0.46" fill="#5040b0" fill-opacity="0.56"/><circle cx="254.1" cy="378.6" r="0.46" fill="#5040b0" fill-opacity="0.55"/><circle cx="291.0" cy="372.0" r="0.50" fill="#5040b0" fill-opacity="0.46"/><circle cx="260.4" cy="355.9" r="0.67" fill="#5040b0" fill-opacity="0.60"/><circle cx="255.3" cy="348.7" r="0.51" fill="#5040b0" fill-opacity="0.41"/><circle cx="271.2" cy="350.3" r="0.57" fill="#5040b0" fill-opacity="0.59"/><circle cx="254.1" cy="364.4" r="0.65" fill="#5040b0" fill-opacity="0.35"/><circle cx="277.0" cy="397.9" r="0.53" fill="#5040b0" fill-opacity="0.38"/><circle cx="226.5" cy="416.3" r="0.58" fill="#5040b0" fill-opacity="0.47"/><circle cx="245.7" cy="352.5" r="0.72" fill="#5040b0" fill-opacity="0.49"/><circle cx="245.2" cy="350.9" r="0.61" fill="#5040b0" fill-opacity="0.43"/><circle cx="264.6" cy="368.1" r="0.66" fill="#5040b0" fill-opacity="0.64"/><circle cx="252.6" cy="355.3" r="0.52" fill="#5040b0" fill-opacity="0.57"/><circle cx="279.3" cy="426.0" r="0.76" fill="#5040b0" fill-opacity="0.61"/><circle cx="241.0" cy="421.7" r="1.10" fill="#5040b0" fill-opacity="0.68"/><circle cx="221.1" cy="369.1" r="0.59" fill="#5040b0" fill-opacity="0.58"/><circle cx="235.2" cy="407.5" r="0.69" fill="#5040b0" fill-opacity="0.54"/><circle cx="241.0" cy="424.7" r="0.48" fill="#5040b0" fill-opacity="0.63"/><circle cx="226.2" cy="409.6" r="1.37" fill="#5040b0" fill-opacity="0.62"/><circle cx="276.1" cy="357.9" r="0.41" fill="#5040b0" fill-opacity="0.55"/><circle cx="272.3" cy="385.5" r="0.72" fill="#5040b0" fill-opacity="0.61"/><circle cx="292.9" cy="406.2" r="0.62" fill="#5040b0" fill-opacity="0.52"/><circle cx="223.8" cy="398.3" r="0.58" fill="#5040b0" fill-opacity="0.62"/><circle cx="226.7" cy="409.6" r="0.78" fill="#5040b0" fill-opacity="0.36"/><circle cx="296.5" cy="406.8" r="0.77" fill="#5040b0" fill-opacity="0.46"/><circle cx="224.4" cy="391.9" r="1.48" fill="#5040b0" fill-opacity="0.57"/><circle cx="224.4" cy="404.9" r="1.45" fill="#5040b0" fill-opacity="0.63"/><circle cx="274.6" cy="391.0" r="0.77" fill="#5040b0" fill-opacity="0.57"/><circle cx="256.4" cy="353.0" r="0.46" fill="#5040b0" fill-opacity="0.57"/><circle cx="234.4" cy="411.3" r="0.60" fill="#5040b0" fill-opacity="0.62"/><circle cx="219.1" cy="405.5" r="0.62" fill="#5040b0" fill-opacity="0.55"/><circle cx="294.4" cy="369.6" r="0.68" fill="#5040b0" fill-opacity="0.35"/><circle cx="262.7" cy="369.8" r="0.50" fill="#5040b0" fill-opacity="0.36"/><circle cx="227.9" cy="400.4" r="0.54" fill="#5040b0" fill-opacity="0.45"/><circle cx="235.5" cy="369.3" r="0.73" fill="#5040b0" fill-opacity="0.47"/><circle cx="285.5" cy="422.2" r="0.74" fill="#5040b0" fill-opacity="0.33"/><circle cx="290.6" cy="421.9" r="1.45" fill="#5040b0" fill-opacity="0.78"/><circle cx="240.2" cy="350.8" r="0.64" fill="#5040b0" fill-opacity="0.33"/><circle cx="273.5" cy="362.9" r="0.61" fill="#5040b0" fill-opacity="0.33"/><circle cx="264.8" cy="354.5" r="0.56" fill="#5040b0" fill-opacity="0.45"/><circle cx="292.0" cy="405.0" r="1.16" fill="#5040b0" fill-opacity="0.54"/><circle cx="289.1" cy="407.5" r="0.72" fill="#5040b0" fill-opacity="0.46"/><circle cx="231.6" cy="380.6" r="0.67" fill="#5040b0" fill-opacity="0.64"/><circle cx="251.5" cy="374.4" r="0.73" fill="#5040b0" fill-opacity="0.32"/><circle cx="258.7" cy="352.9" r="1.34" fill="#5040b0" fill-opacity="0.79"/><circle cx="223.0" cy="375.6" r="0.64" fill="#5040b0" fill-opacity="0.62"/><circle cx="246.5" cy="351.0" r="0.69" fill="#5040b0" fill-opacity="0.31"/><circle cx="234.0" cy="424.5" r="0.63" fill="#5040b0" fill-opacity="0.55"/><circle cx="303.2" cy="381.1" r="0.62" fill="#5040b0" fill-opacity="0.45"/><circle cx="229.5" cy="370.1" r="0.37" fill="#5040b0" fill-opacity="0.64"/><circle cx="262.6" cy="409.9" r="0.75" fill="#5040b0" fill-opacity="0.49"/><circle cx="279.3" cy="400.4" r="1.15" fill="#5040b0" fill-opacity="0.58"/><circle cx="292.0" cy="363.2" r="0.52" fill="#5040b0" fill-opacity="0.60"/><circle cx="220.5" cy="405.8" r="0.68" fill="#5040b0" fill-opacity="0.42"/><circle cx="237.4" cy="392.7" r="0.58" fill="#5040b0" fill-opacity="0.30"/><circle cx="274.3" cy="361.3" r="1.47" fill="#5040b0" fill-opacity="0.68"/><circle cx="221.6" cy="367.2" r="0.58" fill="#5040b0" fill-opacity="0.63"/><circle cx="267.9" cy="396.8" r="0.56" fill="#5040b0" fill-opacity="0.59"/><circle cx="296.5" cy="367.4" r="0.60" fill="#5040b0" fill-opacity="0.37"/><circle cx="223.6" cy="388.0" r="0.68" fill="#5040b0" fill-opacity="0.54"/><circle cx="233.2" cy="408.8" r="0.48" fill="#5040b0" fill-opacity="0.62"/><circle cx="274.2" cy="427.4" r="1.19" fill="#5040b0" fill-opacity="0.51"/><circle cx="223.6" cy="414.6" r="1.49" fill="#5040b0" fill-opacity="0.51"/><circle cx="295.7" cy="405.3" r="0.58" fill="#5040b0" fill-opacity="0.51"/><circle cx="232.7" cy="360.7" r="0.69" fill="#5040b0" fill-opacity="0.44"/><circle cx="232.8" cy="397.3" r="0.69" fill="#5040b0" fill-opacity="0.39"/><circle cx="230.1" cy="358.9" r="0.68" fill="#5040b0" fill-opacity="0.44"/><circle cx="298.6" cy="412.1" r="0.52" fill="#5040b0" fill-opacity="0.44"/><circle cx="229.3" cy="357.8" r="0.57" fill="#5040b0" fill-opacity="0.50"/><circle cx="271.2" cy="348.8" r="0.75" fill="#5040b0" fill-opacity="0.55"/><circle cx="229.4" cy="400.9" r="1.40" fill="#5040b0" fill-opacity="0.58"/><circle cx="299.0" cy="404.4" r="1.00" fill="#5040b0" fill-opacity="0.75"/><circle cx="230.5" cy="402.8" r="1.36" fill="#5040b0" fill-opacity="0.56"/><circle cx="263.0" cy="370.7" r="0.65" fill="#5040b0" fill-opacity="0.52"/><circle cx="246.1" cy="371.6" r="0.52" fill="#5040b0" fill-opacity="0.40"/><circle cx="283.3" cy="370.1" r="0.51" fill="#5040b0" fill-opacity="0.55"/><circle cx="273.6" cy="357.1" r="0.75" fill="#5040b0" fill-opacity="0.45"/><circle cx="287.2" cy="422.1" r="0.72" fill="#5040b0" fill-opacity="0.60"/><circle cx="255.3" cy="432.4" r="0.59" fill="#5040b0" fill-opacity="0.37"/><circle cx="255.1" cy="371.5" r="0.44" fill="#5040b0" fill-opacity="0.63"/><circle cx="224.9" cy="364.7" r="0.56" fill="#5040b0" fill-opacity="0.30"/><circle cx="286.9" cy="378.4" r="0.68" fill="#5040b0" fill-opacity="0.40"/><circle cx="270.8" cy="389.9" r="0.66" fill="#5040b0" fill-opacity="0.59"/><circle cx="236.0" cy="410.7" r="0.58" fill="#5040b0" fill-opacity="0.64"/><circle cx="277.5" cy="401.0" r="0.41" fill="#5040b0" fill-opacity="0.43"/><circle cx="234.7" cy="406.0" r="0.49" fill="#5040b0" fill-opacity="0.53"/><circle cx="228.4" cy="359.0" r="0.40" fill="#5040b0" fill-opacity="0.40"/><circle cx="271.8" cy="379.7" r="1.09" fill="#5040b0" fill-opacity="0.58"/><circle cx="247.9" cy="411.4" r="0.59" fill="#5040b0" fill-opacity="0.65"/><circle cx="273.4" cy="403.8" r="0.77" fill="#5040b0" fill-opacity="0.57"/><circle cx="273.7" cy="397.3" r="1.23" fill="#5040b0" fill-opacity="0.69"/><circle cx="231.7" cy="382.0" r="1.08" fill="#5040b0" fill-opacity="0.55"/><circle cx="236.3" cy="357.7" r="0.51" fill="#5040b0" fill-opacity="0.37"/><circle cx="237.5" cy="423.7" r="0.54" fill="#5040b0" fill-opacity="0.52"/><circle cx="221.9" cy="384.6" r="0.75" fill="#5040b0" fill-opacity="0.49"/><circle cx="216.9" cy="400.6" r="0.40" fill="#5040b0" fill-opacity="0.36"/><circle cx="290.2" cy="368.8" r="0.98" fill="#5040b0" fill-opacity="0.78"/><circle cx="239.2" cy="422.8" r="0.65" fill="#5040b0" fill-opacity="0.48"/><circle cx="292.5" cy="420.1" r="0.41" fill="#5040b0" fill-opacity="0.52"/><circle cx="278.1" cy="366.1" r="0.72" fill="#5040b0" fill-opacity="0.42"/><circle cx="267.7" cy="386.0" r="0.51" fill="#5040b0" fill-opacity="0.53"/><circle cx="247.7" cy="354.5" r="0.45" fill="#5040b0" fill-opacity="0.34"/><circle cx="288.8" cy="407.9" r="0.65" fill="#5040b0" fill-opacity="0.51"/><circle cx="226.7" cy="392.0" r="0.43" fill="#5040b0" fill-opacity="0.40"/><circle cx="222.9" cy="385.1" r="0.48" fill="#5040b0" fill-opacity="0.31"/><circle cx="258.6" cy="345.8" r="0.67" fill="#5040b0" fill-opacity="0.56"/><circle cx="242.0" cy="375.7" r="0.65" fill="#5040b0" fill-opacity="0.31"/><circle cx="276.2" cy="407.9" r="0.78" fill="#5040b0" fill-opacity="0.46"/><circle cx="261.0" cy="400.3" r="0.39" fill="#5040b0" fill-opacity="0.58"/><circle cx="267.6" cy="345.6" r="1.26" fill="#5040b0" fill-opacity="0.60"/><circle cx="217.7" cy="384.3" r="0.67" fill="#5040b0" fill-opacity="0.61"/><circle cx="260.3" cy="434.0" r="0.46" fill="#5040b0" fill-opacity="0.44"/><circle cx="246.3" cy="397.9" r="0.50" fill="#5040b0" fill-opacity="0.36"/><circle cx="235.9" cy="379.2" r="0.71" fill="#5040b0" fill-opacity="0.46"/><circle cx="234.0" cy="358.3" r="0.68" fill="#5040b0" fill-opacity="0.60"/><circle cx="280.8" cy="395.0" r="0.46" fill="#5040b0" fill-opacity="0.56"/><circle cx="253.9" cy="391.8" r="0.61" fill="#5040b0" fill-opacity="0.54"/><circle cx="293.8" cy="402.5" r="0.76" fill="#5040b0" fill-opacity="0.45"/><circle cx="297.9" cy="376.4" r="0.39" fill="#5040b0" fill-opacity="0.39"/><circle cx="297.0" cy="364.6" r="0.62" fill="#5040b0" fill-opacity="0.34"/><circle cx="288.3" cy="378.1" r="0.45" fill="#5040b0" fill-opacity="0.64"/><circle cx="251.2" cy="374.3" r="0.67" fill="#5040b0" fill-opacity="0.43"/><circle cx="215.5" cy="387.9" r="0.48" fill="#5040b0" fill-opacity="0.51"/><circle cx="286.1" cy="423.3" r="0.55" fill="#5040b0" fill-opacity="0.53"/><circle cx="273.5" cy="406.5" r="0.50" fill="#5040b0" fill-opacity="0.50"/><circle cx="291.9" cy="371.1" r="1.26" fill="#5040b0" fill-opacity="0.69"/><circle cx="259.8" cy="366.4" r="0.61" fill="#5040b0" fill-opacity="0.38"/><circle cx="262.1" cy="434.2" r="0.72" fill="#5040b0" fill-opacity="0.49"/><circle cx="253.0" cy="406.2" r="0.63" fill="#5040b0" fill-opacity="0.49"/></g>
<rect x="318.1" y="339.0" width="99.7" height="100.5" fill="url(#pbg)"/>
<circle cx="367.75" cy="389.45" r="47.85" fill="url(#pinB)" stroke="url(#rim)" stroke-width="2.8"/>
<g filter="url(#blur1)"><circle cx="384.3" cy="385.8" r="0.60" fill="#5040b0" fill-opacity="0.31"/><circle cx="397.8" cy="361.0" r="0.36" fill="#5040b0" fill-opacity="0.42"/><circle cx="361.6" cy="366.4" r="0.55" fill="#5040b0" fill-opacity="0.61"/><circle cx="377.3" cy="358.5" r="0.35" fill="#5040b0" fill-opacity="0.46"/><circle cx="356.7" cy="395.6" r="0.46" fill="#5040b0" fill-opacity="0.63"/><circle cx="345.2" cy="360.2" r="0.44" fill="#5040b0" fill-opacity="0.63"/><circle cx="384.5" cy="391.4" r="0.50" fill="#5040b0" fill-opacity="0.55"/><circle cx="358.9" cy="427.0" r="0.77" fill="#5040b0" fill-opacity="0.51"/><circle cx="327.2" cy="397.5" r="0.44" fill="#5040b0" fill-opacity="0.36"/><circle cx="393.1" cy="380.9" r="0.54" fill="#5040b0" fill-opacity="0.41"/><circle cx="389.3" cy="374.7" r="1.12" fill="#5040b0" fill-opacity="0.74"/><circle cx="352.6" cy="391.9" r="0.55" fill="#5040b0" fill-opacity="0.62"/><circle cx="366.4" cy="365.3" r="0.58" fill="#5040b0" fill-opacity="0.36"/><circle cx="329.4" cy="389.5" r="0.75" fill="#5040b0" fill-opacity="0.75"/><circle cx="333.3" cy="373.4" r="0.50" fill="#5040b0" fill-opacity="0.39"/><circle cx="371.4" cy="391.6" r="0.40" fill="#5040b0" fill-opacity="0.42"/><circle cx="339.9" cy="363.8" r="0.54" fill="#5040b0" fill-opacity="0.58"/><circle cx="401.1" cy="363.0" r="0.39" fill="#5040b0" fill-opacity="0.44"/><circle cx="350.8" cy="387.5" r="0.39" fill="#5040b0" fill-opacity="0.62"/><circle cx="357.6" cy="366.3" r="0.50" fill="#5040b0" fill-opacity="0.42"/><circle cx="396.3" cy="400.5" r="0.31" fill="#5040b0" fill-opacity="0.59"/><circle cx="336.3" cy="373.2" r="0.31" fill="#5040b0" fill-opacity="0.42"/><circle cx="365.2" cy="356.2" r="0.41" fill="#5040b0" fill-opacity="0.58"/><circle cx="407.6" cy="390.6" r="0.55" fill="#5040b0" fill-opacity="0.53"/><circle cx="333.0" cy="370.7" r="0.35" fill="#5040b0" fill-opacity="0.49"/><circle cx="352.5" cy="387.5" r="0.33" fill="#5040b0" fill-opacity="0.55"/><circle cx="374.1" cy="354.5" r="0.49" fill="#5040b0" fill-opacity="0.44"/><circle cx="365.5" cy="405.5" r="0.30" fill="#5040b0" fill-opacity="0.62"/><circle cx="354.8" cy="351.7" r="0.35" fill="#5040b0" fill-opacity="0.54"/><circle cx="378.2" cy="352.7" r="0.35" fill="#5040b0" fill-opacity="0.35"/><circle cx="374.8" cy="381.5" r="0.56" fill="#5040b0" fill-opacity="0.43"/><circle cx="338.8" cy="376.0" r="0.43" fill="#5040b0" fill-opacity="0.51"/><circle cx="333.8" cy="404.8" r="0.36" fill="#5040b0" fill-opacity="0.63"/><circle cx="402.7" cy="394.7" r="0.49" fill="#5040b0" fill-opacity="0.65"/><circle cx="344.5" cy="369.7" r="0.43" fill="#5040b0" fill-opacity="0.58"/><circle cx="336.5" cy="415.2" r="0.52" fill="#5040b0" fill-opacity="0.36"/><circle cx="396.7" cy="380.7" r="0.46" fill="#5040b0" fill-opacity="0.48"/><circle cx="375.1" cy="420.9" r="0.49" fill="#5040b0" fill-opacity="0.54"/><circle cx="353.3" cy="357.4" r="0.34" fill="#5040b0" fill-opacity="0.60"/><circle cx="390.8" cy="373.0" r="0.37" fill="#5040b0" fill-opacity="0.50"/><circle cx="394.0" cy="375.4" r="0.33" fill="#5040b0" fill-opacity="0.63"/><circle cx="408.8" cy="388.2" r="0.42" fill="#5040b0" fill-opacity="0.52"/><circle cx="382.5" cy="354.7" r="0.41" fill="#5040b0" fill-opacity="0.58"/><circle cx="394.7" cy="360.4" r="0.59" fill="#5040b0" fill-opacity="0.43"/><circle cx="360.6" cy="377.4" r="0.50" fill="#5040b0" fill-opacity="0.38"/><circle cx="353.8" cy="368.3" r="0.36" fill="#5040b0" fill-opacity="0.38"/><circle cx="367.6" cy="421.1" r="0.54" fill="#5040b0" fill-opacity="0.63"/><circle cx="388.5" cy="422.5" r="0.46" fill="#5040b0" fill-opacity="0.49"/><circle cx="373.5" cy="347.1" r="0.54" fill="#5040b0" fill-opacity="0.31"/><circle cx="370.1" cy="368.3" r="0.45" fill="#5040b0" fill-opacity="0.51"/><circle cx="346.1" cy="376.3" r="0.58" fill="#5040b0" fill-opacity="0.43"/><circle cx="411.2" cy="391.6" r="0.48" fill="#5040b0" fill-opacity="0.45"/><circle cx="407.4" cy="406.7" r="0.48" fill="#5040b0" fill-opacity="0.32"/><circle cx="336.9" cy="415.4" r="0.34" fill="#5040b0" fill-opacity="0.42"/><circle cx="373.6" cy="377.2" r="0.58" fill="#5040b0" fill-opacity="0.61"/><circle cx="377.4" cy="387.4" r="0.47" fill="#5040b0" fill-opacity="0.58"/><circle cx="326.5" cy="394.1" r="0.40" fill="#5040b0" fill-opacity="0.38"/><circle cx="359.5" cy="345.4" r="0.55" fill="#5040b0" fill-opacity="0.53"/><circle cx="339.5" cy="390.2" r="0.58" fill="#5040b0" fill-opacity="0.60"/><circle cx="358.6" cy="432.6" r="0.31" fill="#5040b0" fill-opacity="0.40"/><circle cx="392.3" cy="425.6" r="0.52" fill="#5040b0" fill-opacity="0.44"/><circle cx="343.7" cy="363.2" r="0.49" fill="#5040b0" fill-opacity="0.56"/><circle cx="363.7" cy="354.2" r="0.58" fill="#5040b0" fill-opacity="0.34"/><circle cx="354.6" cy="403.8" r="0.42" fill="#5040b0" fill-opacity="0.35"/><circle cx="330.4" cy="393.7" r="0.49" fill="#5040b0" fill-opacity="0.59"/><circle cx="410.0" cy="389.1" r="0.87" fill="#5040b0" fill-opacity="0.55"/><circle cx="384.2" cy="367.7" r="0.43" fill="#5040b0" fill-opacity="0.65"/><circle cx="348.9" cy="360.2" r="0.50" fill="#5040b0" fill-opacity="0.45"/><circle cx="329.3" cy="368.4" r="0.40" fill="#5040b0" fill-opacity="0.32"/><circle cx="360.5" cy="431.7" r="0.30" fill="#5040b0" fill-opacity="0.65"/><circle cx="370.9" cy="401.5" r="1.04" fill="#5040b0" fill-opacity="0.71"/><circle cx="333.8" cy="407.4" r="0.49" fill="#5040b0" fill-opacity="0.56"/><circle cx="395.6" cy="424.2" r="0.38" fill="#5040b0" fill-opacity="0.48"/><circle cx="359.9" cy="359.9" r="0.51" fill="#5040b0" fill-opacity="0.44"/><circle cx="401.5" cy="367.9" r="0.38" fill="#5040b0" fill-opacity="0.41"/><circle cx="338.1" cy="421.0" r="0.30" fill="#5040b0" fill-opacity="0.35"/><circle cx="344.3" cy="412.9" r="0.45" fill="#5040b0" fill-opacity="0.41"/><circle cx="387.9" cy="383.1" r="0.55" fill="#5040b0" fill-opacity="0.44"/><circle cx="352.7" cy="372.5" r="0.30" fill="#5040b0" fill-opacity="0.57"/><circle cx="391.9" cy="394.3" r="0.54" fill="#5040b0" fill-opacity="0.40"/><circle cx="410.0" cy="391.6" r="0.32" fill="#5040b0" fill-opacity="0.53"/><circle cx="335.4" cy="360.0" r="0.55" fill="#5040b0" fill-opacity="0.33"/><circle cx="407.9" cy="386.2" r="0.45" fill="#5040b0" fill-opacity="0.61"/><circle cx="407.3" cy="380.8" r="0.77" fill="#5040b0" fill-opacity="0.58"/><circle cx="394.5" cy="362.4" r="0.44" fill="#5040b0" fill-opacity="0.35"/><circle cx="407.2" cy="374.5" r="0.44" fill="#5040b0" fill-opacity="0.61"/><circle cx="370.4" cy="392.4" r="0.31" fill="#5040b0" fill-opacity="0.57"/><circle cx="351.9" cy="385.5" r="0.40" fill="#5040b0" fill-opacity="0.61"/><circle cx="405.6" cy="402.0" r="0.37" fill="#5040b0" fill-opacity="0.50"/><circle cx="386.6" cy="425.8" r="0.33" fill="#5040b0" fill-opacity="0.61"/><circle cx="407.0" cy="403.2" r="0.40" fill="#5040b0" fill-opacity="0.64"/><circle cx="348.4" cy="360.5" r="0.36" fill="#5040b0" fill-opacity="0.55"/><circle cx="358.8" cy="409.1" r="0.32" fill="#5040b0" fill-opacity="0.40"/><circle cx="325.4" cy="379.5" r="0.58" fill="#5040b0" fill-opacity="0.42"/><circle cx="337.9" cy="404.2" r="0.49" fill="#5040b0" fill-opacity="0.37"/><circle cx="373.9" cy="414.8" r="0.46" fill="#5040b0" fill-opacity="0.33"/><circle cx="334.1" cy="407.0" r="0.49" fill="#5040b0" fill-opacity="0.46"/><circle cx="382.7" cy="381.9" r="0.58" fill="#5040b0" fill-opacity="0.58"/><circle cx="390.7" cy="370.4" r="0.48" fill="#5040b0" fill-opacity="0.53"/><circle cx="339.9" cy="403.8" r="0.36" fill="#5040b0" fill-opacity="0.59"/><circle cx="374.5" cy="348.7" r="0.48" fill="#5040b0" fill-opacity="0.44"/><circle cx="387.7" cy="428.1" r="0.38" fill="#5040b0" fill-opacity="0.56"/><circle cx="399.8" cy="365.7" r="0.35" fill="#5040b0" fill-opacity="0.39"/><circle cx="408.9" cy="385.7" r="0.36" fill="#5040b0" fill-opacity="0.52"/><circle cx="372.6" cy="378.5" r="0.33" fill="#5040b0" fill-opacity="0.62"/><circle cx="402.1" cy="396.2" r="0.92" fill="#5040b0" fill-opacity="0.75"/><circle cx="402.9" cy="368.6" r="1.05" fill="#5040b0" fill-opacity="0.64"/><circle cx="326.5" cy="392.2" r="0.59" fill="#5040b0" fill-opacity="0.40"/><circle cx="376.4" cy="380.4" r="0.52" fill="#5040b0" fill-opacity="0.52"/><circle cx="408.5" cy="407.0" r="0.51" fill="#5040b0" fill-opacity="0.30"/><circle cx="349.5" cy="396.3" r="0.55" fill="#5040b0" fill-opacity="0.53"/><circle cx="394.3" cy="385.9" r="0.56" fill="#5040b0" fill-opacity="0.48"/><circle cx="371.7" cy="425.3" r="0.47" fill="#5040b0" fill-opacity="0.55"/><circle cx="366.7" cy="375.3" r="0.38" fill="#5040b0" fill-opacity="0.32"/><circle cx="365.2" cy="426.9" r="0.35" fill="#5040b0" fill-opacity="0.50"/><circle cx="371.8" cy="405.3" r="0.55" fill="#5040b0" fill-opacity="0.41"/><circle cx="405.5" cy="376.7" r="0.37" fill="#5040b0" fill-opacity="0.31"/><circle cx="328.6" cy="400.0" r="0.73" fill="#5040b0" fill-opacity="0.71"/><circle cx="401.9" cy="371.6" r="0.33" fill="#5040b0" fill-opacity="0.46"/><circle cx="382.6" cy="385.8" r="0.29" fill="#5040b0" fill-opacity="0.58"/><circle cx="382.7" cy="430.0" r="0.81" fill="#5040b0" fill-opacity="0.63"/><circle cx="404.1" cy="402.8" r="0.35" fill="#5040b0" fill-opacity="0.54"/><circle cx="338.0" cy="403.0" r="0.36" fill="#5040b0" fill-opacity="0.46"/><circle cx="380.8" cy="405.1" r="0.29" fill="#5040b0" fill-opacity="0.61"/><circle cx="358.6" cy="421.1" r="0.87" fill="#5040b0" fill-opacity="0.63"/><circle cx="336.1" cy="379.4" r="0.32" fill="#5040b0" fill-opacity="0.55"/><circle cx="351.3" cy="379.0" r="0.44" fill="#5040b0" fill-opacity="0.38"/><circle cx="328.3" cy="392.9" r="0.52" fill="#5040b0" fill-opacity="0.43"/><circle cx="342.2" cy="386.4" r="0.53" fill="#5040b0" fill-opacity="0.63"/><circle cx="371.4" cy="349.8" r="0.40" fill="#5040b0" fill-opacity="0.48"/><circle cx="336.3" cy="393.8" r="0.40" fill="#5040b0" fill-opacity="0.42"/><circle cx="388.6" cy="359.3" r="0.95" fill="#5040b0" fill-opacity="0.51"/><circle cx="327.6" cy="388.2" r="0.52" fill="#5040b0" fill-opacity="0.44"/><circle cx="385.4" cy="427.3" r="0.60" fill="#5040b0" fill-opacity="0.61"/><circle cx="340.8" cy="422.1" r="0.57" fill="#5040b0" fill-opacity="0.35"/><circle cx="366.6" cy="351.7" r="0.50" fill="#5040b0" fill-opacity="0.33"/><circle cx="352.4" cy="430.8" r="0.42" fill="#5040b0" fill-opacity="0.40"/><circle cx="366.1" cy="349.8" r="0.58" fill="#5040b0" fill-opacity="0.39"/><circle cx="352.5" cy="347.2" r="0.96" fill="#5040b0" fill-opacity="0.71"/><circle cx="345.5" cy="396.5" r="0.49" fill="#5040b0" fill-opacity="0.49"/><circle cx="386.6" cy="361.3" r="0.39" fill="#5040b0" fill-opacity="0.43"/><circle cx="361.6" cy="400.1" r="0.38" fill="#5040b0" fill-opacity="0.39"/><circle cx="369.2" cy="386.9" r="0.40" fill="#5040b0" fill-opacity="0.35"/><circle cx="357.7" cy="357.1" r="0.55" fill="#5040b0" fill-opacity="0.34"/><circle cx="371.5" cy="372.3" r="0.31" fill="#5040b0" fill-opacity="0.49"/><circle cx="342.7" cy="361.9" r="0.29" fill="#5040b0" fill-opacity="0.57"/><circle cx="384.7" cy="386.6" r="0.48" fill="#5040b0" fill-opacity="0.46"/><circle cx="381.6" cy="417.9" r="0.58" fill="#5040b0" fill-opacity="0.45"/><circle cx="411.2" cy="388.6" r="0.32" fill="#5040b0" fill-opacity="0.35"/><circle cx="346.1" cy="381.4" r="0.59" fill="#5040b0" fill-opacity="0.56"/><circle cx="386.6" cy="359.7" r="0.57" fill="#5040b0" fill-opacity="0.62"/><circle cx="368.8" cy="349.2" r="0.35" fill="#5040b0" fill-opacity="0.38"/><circle cx="404.3" cy="412.1" r="0.29" fill="#5040b0" fill-opacity="0.35"/><circle cx="382.1" cy="355.9" r="0.46" fill="#5040b0" fill-opacity="0.31"/><circle cx="393.9" cy="387.5" r="0.58" fill="#5040b0" fill-opacity="0.39"/><circle cx="385.5" cy="374.7" r="0.79" fill="#5040b0" fill-opacity="0.67"/><circle cx="363.0" cy="430.5" r="0.94" fill="#5040b0" fill-opacity="0.53"/><circle cx="411.1" cy="391.6" r="0.83" fill="#5040b0" fill-opacity="0.54"/><circle cx="334.0" cy="404.2" r="0.30" fill="#5040b0" fill-opacity="0.36"/><circle cx="364.1" cy="429.9" r="0.43" fill="#5040b0" fill-opacity="0.36"/><circle cx="345.7" cy="418.4" r="0.44" fill="#5040b0" fill-opacity="0.47"/><circle cx="363.3" cy="347.9" r="0.52" fill="#5040b0" fill-opacity="0.64"/><circle cx="392.5" cy="372.5" r="0.57" fill="#5040b0" fill-opacity="0.61"/><circle cx="393.5" cy="355.2" r="0.47" fill="#5040b0" fill-opacity="0.39"/><circle cx="331.5" cy="371.8" r="0.41" fill="#5040b0" fill-opacity="0.56"/><circle cx="335.3" cy="393.4" r="0.47" fill="#5040b0" fill-opacity="0.58"/><circle cx="339.0" cy="378.9" r="0.37" fill="#5040b0" fill-opacity="0.51"/><circle cx="402.1" cy="365.7" r="1.01" fill="#5040b0" fill-opacity="0.77"/><circle cx="331.4" cy="382.0" r="0.36" fill="#5040b0" fill-opacity="0.48"/><circle cx="372.3" cy="350.6" r="0.46" fill="#5040b0" fill-opacity="0.52"/><circle cx="360.3" cy="370.9" r="0.46" fill="#5040b0" fill-opacity="0.36"/><circle cx="387.7" cy="360.8" r="0.48" fill="#5040b0" fill-opacity="0.41"/><circle cx="345.2" cy="403.8" r="0.31" fill="#5040b0" fill-opacity="0.32"/><circle cx="357.3" cy="364.5" r="0.59" fill="#5040b0" fill-opacity="0.62"/><circle cx="364.4" cy="430.8" r="0.43" fill="#5040b0" fill-opacity="0.58"/><circle cx="376.0" cy="426.8" r="0.38" fill="#5040b0" fill-opacity="0.61"/><circle cx="386.0" cy="407.4" r="0.30" fill="#5040b0" fill-opacity="0.36"/><circle cx="368.4" cy="410.9" r="0.59" fill="#5040b0" fill-opacity="0.46"/><circle cx="345.6" cy="416.0" r="0.89" fill="#5040b0" fill-opacity="0.74"/><circle cx="367.0" cy="413.1" r="0.39" fill="#5040b0" fill-opacity="0.41"/><circle cx="369.8" cy="419.4" r="0.54" fill="#5040b0" fill-opacity="0.50"/><circle cx="354.8" cy="422.6" r="0.50" fill="#5040b0" fill-opacity="0.61"/><circle cx="350.0" cy="358.7" r="0.48" fill="#5040b0" fill-opacity="0.41"/><circle cx="377.3" cy="430.8" r="0.84" fill="#5040b0" fill-opacity="0.75"/><circle cx="385.4" cy="349.0" r="0.47" fill="#5040b0" fill-opacity="0.58"/><circle cx="326.8" cy="372.1" r="1.05" fill="#5040b0" fill-opacity="0.66"/><circle cx="393.0" cy="372.1" r="0.42" fill="#5040b0" fill-opacity="0.36"/><circle cx="395.0" cy="391.6" r="0.30" fill="#5040b0" fill-opacity="0.59"/><circle cx="338.2" cy="381.8" r="0.49" fill="#5040b0" fill-opacity="0.35"/><circle cx="341.4" cy="389.2" r="1.14" fill="#5040b0" fill-opacity="0.64"/><circle cx="382.4" cy="404.4" r="0.46" fill="#5040b0" fill-opacity="0.44"/><circle cx="378.3" cy="376.6" r="0.97" fill="#5040b0" fill-opacity="0.70"/><circle cx="358.8" cy="354.9" r="0.54" fill="#5040b0" fill-opacity="0.32"/><circle cx="383.3" cy="390.4" r="0.37" fill="#5040b0" fill-opacity="0.32"/><circle cx="361.8" cy="409.3" r="0.51" fill="#5040b0" fill-opacity="0.61"/><circle cx="352.4" cy="399.9" r="0.36" fill="#5040b0" fill-opacity="0.34"/><circle cx="346.6" cy="407.0" r="0.52" fill="#5040b0" fill-opacity="0.53"/><circle cx="362.5" cy="425.9" r="0.39" fill="#5040b0" fill-opacity="0.39"/><circle cx="378.8" cy="424.8" r="0.96" fill="#5040b0" fill-opacity="0.72"/><circle cx="403.0" cy="402.7" r="0.42" fill="#5040b0" fill-opacity="0.42"/></g>
<rect x="426.1" y="339.0" width="99.7" height="100.5" fill="url(#pbg)"/>
<circle cx="475.75" cy="389.45" r="47.85" fill="url(#pinD)" stroke="url(#rim2)" stroke-width="2.8"/>
<g filter="url(#blur1)"><circle cx="455.6" cy="413.3" r="0.31" fill="#5040b0" fill-opacity="0.31"/><circle cx="473.8" cy="425.3" r="0.29" fill="#5040b0" fill-opacity="0.19"/><circle cx="474.3" cy="354.7" r="0.27" fill="#5040b0" fill-opacity="0.37"/><circle cx="488.8" cy="355.0" r="0.36" fill="#5040b0" fill-opacity="0.22"/><circle cx="479.8" cy="414.2" r="0.29" fill="#5040b0" fill-opacity="0.26"/><circle cx="448.4" cy="355.1" r="0.86" fill="#5040b0" fill-opacity="0.36"/><circle cx="483.9" cy="357.9" r="0.28" fill="#5040b0" fill-opacity="0.27"/><circle cx="513.9" cy="406.2" r="0.82" fill="#5040b0" fill-opacity="0.27"/><circle cx="509.1" cy="370.8" r="0.36" fill="#5040b0" fill-opacity="0.27"/><circle cx="492.7" cy="391.9" r="0.30" fill="#5040b0" fill-opacity="0.28"/><circle cx="460.4" cy="365.5" r="0.44" fill="#5040b0" fill-opacity="0.35"/><circle cx="452.9" cy="355.7" r="0.57" fill="#5040b0" fill-opacity="0.18"/><circle cx="516.3" cy="391.8" r="0.77" fill="#5040b0" fill-opacity="0.39"/><circle cx="478.6" cy="359.8" r="0.25" fill="#5040b0" fill-opacity="0.15"/><circle cx="433.1" cy="382.6" r="0.30" fill="#5040b0" fill-opacity="0.16"/><circle cx="438.2" cy="398.0" r="0.55" fill="#5040b0" fill-opacity="0.20"/><circle cx="454.2" cy="351.9" r="0.61" fill="#5040b0" fill-opacity="0.25"/><circle cx="487.7" cy="399.1" r="0.27" fill="#5040b0" fill-opacity="0.37"/><circle cx="496.9" cy="368.6" r="0.37" fill="#5040b0" fill-opacity="0.36"/><circle cx="488.9" cy="373.6" r="0.64" fill="#5040b0" fill-opacity="0.22"/><circle cx="494.0" cy="407.4" r="0.33" fill="#5040b0" fill-opacity="0.28"/><circle cx="441.7" cy="395.5" r="0.23" fill="#5040b0" fill-opacity="0.31"/><circle cx="457.0" cy="356.0" r="0.40" fill="#5040b0" fill-opacity="0.33"/><circle cx="500.4" cy="397.9" r="0.31" fill="#5040b0" fill-opacity="0.25"/><circle cx="482.2" cy="426.8" r="0.26" fill="#5040b0" fill-opacity="0.25"/></g>
<line x1="209.90" y1="203.20" x2="523.00" y2="203.20" stroke="#000" stroke-width="1.3" />
<text x="368.70" y="200.10" font-size="11.8" text-anchor="middle" fill="#000" stroke="#000" stroke-width="0.22" >Chaetocin (nM)</text>
<text x="256.60" y="214.10" font-size="11.6" text-anchor="middle" fill="#000" stroke="#000" stroke-width="0.22" >Control</text>
<text x="365.40" y="214.10" font-size="11.6" text-anchor="middle" fill="#000" stroke="#000" stroke-width="0.22" >5</text>
<text x="474.80" y="214.10" font-size="11.6" text-anchor="middle" fill="#000" stroke="#000" stroke-width="0.22" >10</text>
<text x="256.20" y="336.10" font-size="11.6" text-anchor="middle" fill="#000" stroke="#000" stroke-width="0.22" >Control</text>
<text x="363.60" y="336.10" font-size="11.6" text-anchor="middle" fill="#000" stroke="#000" stroke-width="0.22" >0.625</text>
<text x="470.60" y="336.10" font-size="11.6" text-anchor="middle" fill="#000" stroke="#000" stroke-width="0.22" >1.25</text>
<line x1="589.30" y1="217.80" x2="589.30" y2="305.70" stroke="#222" stroke-width="1.0" />
<line x1="588.80" y1="305.20" x2="685.00" y2="305.20" stroke="#222" stroke-width="1.0" />
<line x1="587.30" y1="305.20" x2="589.30" y2="305.20" stroke="#222" stroke-width="0.9" />
<text transform="translate(586.90,307.40) scale(0.85,1)" font-size="6.6" text-anchor="end" fill="#222">0</text>
<line x1="587.30" y1="287.82" x2="589.30" y2="287.82" stroke="#222" stroke-width="0.9" />
<text transform="translate(586.90,290.02) scale(0.85,1)" font-size="6.6" text-anchor="end" fill="#222">25</text>
<line x1="587.30" y1="270.44" x2="589.30" y2="270.44" stroke="#222" stroke-width="0.9" />
<text transform="translate(586.90,272.64) scale(0.85,1)" font-size="6.6" text-anchor="end" fill="#222">50</text>
<line x1="587.30" y1="253.06" x2="589.30" y2="253.06" stroke="#222" stroke-width="0.9" />
<text transform="translate(586.90,255.26) scale(0.85,1)" font-size="6.6" text-anchor="end" fill="#222">75</text>
<line x1="587.30" y1="235.68" x2="589.30" y2="235.68" stroke="#222" stroke-width="0.9" />
<text transform="translate(586.90,237.88) scale(0.85,1)" font-size="6.6" text-anchor="end" fill="#222">100</text>
<line x1="587.30" y1="218.30" x2="589.30" y2="218.30" stroke="#222" stroke-width="0.9" />
<text transform="translate(586.90,220.50) scale(0.85,1)" font-size="6.6" text-anchor="end" fill="#222">125</text>
<line x1="605.40" y1="235.68" x2="605.40" y2="233.66" stroke="#222" stroke-width="1.0" />
<line x1="600.20" y1="233.66" x2="610.60" y2="233.66" stroke="#222" stroke-width="1.0" />
<rect x="594.80" y="235.68" width="21.1" height="69.52" fill="#ffffff" stroke="#222" stroke-width="1.1"/>
<line x1="605.40" y1="305.20" x2="605.40" y2="307.20" stroke="#222" stroke-width="0.9" />
<text transform="translate(605.40,313.70) scale(0.85,1)" font-size="6.6" text-anchor="middle" fill="#222">0</text>
<line x1="637.00" y1="260.92" x2="637.00" y2="258.27" stroke="#222" stroke-width="1.0" />
<line x1="631.80" y1="258.27" x2="642.20" y2="258.27" stroke="#222" stroke-width="1.0" />
<rect x="626.40" y="260.92" width="21.1" height="44.28" fill="#ffffff" stroke="#222" stroke-width="1.1"/>
<line x1="637.00" y1="305.20" x2="637.00" y2="307.20" stroke="#222" stroke-width="0.9" />
<text transform="translate(637.00,313.70) scale(0.85,1)" font-size="6.6" text-anchor="middle" fill="#222">5</text>
<line x1="668.60" y1="304.50" x2="668.60" y2="303.95" stroke="#222" stroke-width="1.0" />
<line x1="663.40" y1="303.95" x2="673.80" y2="303.95" stroke="#222" stroke-width="1.0" />
<rect x="658.00" y="304.50" width="21.1" height="0.70" fill="#ffffff" stroke="#222" stroke-width="1.1"/>
<line x1="668.60" y1="305.20" x2="668.60" y2="307.20" stroke="#222" stroke-width="0.9" />
<text transform="translate(668.60,313.70) scale(0.85,1)" font-size="6.6" text-anchor="middle" fill="#222">10</text>
<text x="637.10" y="259.70" font-size="10.6" text-anchor="middle" fill="#222" stroke="#222" stroke-width="0.22" >***</text>
<text x="669.00" y="306.50" font-size="10.6" text-anchor="middle" fill="#222" stroke="#222" stroke-width="0.22" >***</text>
<text x="636.50" y="326.70" font-size="11.7" text-anchor="middle" fill="#000" stroke="#000" stroke-width="0.22" >Chaetocin (nM)</text>
<text transform="translate(540.60,264.80) rotate(-90)" font-size="11.7" text-anchor="middle" fill="#000" stroke="#000" stroke-width="0.22">HGC-27</text>
<text transform="translate(559.40,264.80) rotate(-90)" font-size="11.7" text-anchor="middle" fill="#000" stroke="#000" stroke-width="0.22">Colony formation</text>
<text transform="translate(572.20,264.30) rotate(-90)" font-size="11.7" text-anchor="middle" fill="#000" stroke="#000" stroke-width="0.22">(% of control)</text>
<line x1="589.30" y1="342.75" x2="589.30" y2="430.90" stroke="#222" stroke-width="1.0" />
<line x1="588.80" y1="430.40" x2="685.00" y2="430.40" stroke="#222" stroke-width="1.0" />
<line x1="587.30" y1="430.40" x2="589.30" y2="430.40" stroke="#222" stroke-width="0.9" />
<text transform="translate(586.90,432.60) scale(0.85,1)" font-size="6.6" text-anchor="end" fill="#222">0</text>
<line x1="587.30" y1="412.97" x2="589.30" y2="412.97" stroke="#222" stroke-width="0.9" />
<text transform="translate(586.90,415.17) scale(0.85,1)" font-size="6.6" text-anchor="end" fill="#222">25</text>
<line x1="587.30" y1="395.54" x2="589.30" y2="395.54" stroke="#222" stroke-width="0.9" />
<text transform="translate(586.90,397.74) scale(0.85,1)" font-size="6.6" text-anchor="end" fill="#222">50</text>
<line x1="587.30" y1="378.11" x2="589.30" y2="378.11" stroke="#222" stroke-width="0.9" />
<text transform="translate(586.90,380.31) scale(0.85,1)" font-size="6.6" text-anchor="end" fill="#222">75</text>
<line x1="587.30" y1="360.68" x2="589.30" y2="360.68" stroke="#222" stroke-width="0.9" />
<text transform="translate(586.90,362.88) scale(0.85,1)" font-size="6.6" text-anchor="end" fill="#222">100</text>
<line x1="587.30" y1="343.25" x2="589.30" y2="343.25" stroke="#222" stroke-width="0.9" />
<text transform="translate(586.90,345.45) scale(0.85,1)" font-size="6.6" text-anchor="end" fill="#222">125</text>
<line x1="605.40" y1="360.68" x2="605.40" y2="355.59" stroke="#222" stroke-width="1.0" />
<line x1="600.20" y1="355.59" x2="610.60" y2="355.59" stroke="#222" stroke-width="1.0" />
<rect x="594.80" y="360.68" width="21.1" height="69.72" fill="#808080" stroke="#222" stroke-width="1.1"/>
<line x1="605.40" y1="430.40" x2="605.40" y2="432.40" stroke="#222" stroke-width="0.9" />
<text transform="translate(605.40,438.90) scale(0.85,1)" font-size="6.6" text-anchor="middle" fill="#222">0</text>
<line x1="637.00" y1="392.61" x2="637.00" y2="391.71" stroke="#222" stroke-width="1.0" />
<line x1="631.80" y1="391.71" x2="642.20" y2="391.71" stroke="#222" stroke-width="1.0" />
<rect x="626.40" y="392.61" width="21.1" height="37.79" fill="#808080" stroke="#222" stroke-width="1.1"/>
<line x1="637.00" y1="430.40" x2="637.00" y2="432.40" stroke="#222" stroke-width="0.9" />
<text transform="translate(637.00,438.90) scale(0.85,1)" font-size="6.6" text-anchor="middle" fill="#222">0.625</text>
<line x1="668.60" y1="421.89" x2="668.60" y2="419.80" stroke="#222" stroke-width="1.0" />
<line x1="663.40" y1="419.80" x2="673.80" y2="419.80" stroke="#222" stroke-width="1.0" />
<rect x="658.00" y="421.89" width="21.1" height="8.51" fill="#808080" stroke="#222" stroke-width="1.1"/>
<line x1="668.60" y1="430.40" x2="668.60" y2="432.40" stroke="#222" stroke-width="0.9" />
<text transform="translate(668.60,438.90) scale(0.85,1)" font-size="6.6" text-anchor="middle" fill="#222">1.25</text>
<text x="637.00" y="392.90" font-size="10.6" text-anchor="middle" fill="#222" stroke="#222" stroke-width="0.22" >***</text>
<text x="668.60" y="421.00" font-size="10.6" text-anchor="middle" fill="#222" stroke="#222" stroke-width="0.22" >***</text>
<text x="636.50" y="452.90" font-size="11.7" text-anchor="middle" fill="#000" stroke="#000" stroke-width="0.22" >Chaetocin (nM)</text>
<text transform="translate(540.60,388.00) rotate(-90)" font-size="11.7" text-anchor="middle" fill="#000" stroke="#000" stroke-width="0.22">AGS</text>
<text transform="translate(559.40,390.20) rotate(-90)" font-size="11.7" text-anchor="middle" fill="#000" stroke="#000" stroke-width="0.22">Colony formation</text>
<text transform="translate(572.20,389.70) rotate(-90)" font-size="11.7" text-anchor="middle" fill="#000" stroke="#000" stroke-width="0.22">(% of control)</text>
<polygon points="22.70,599.90 22.70,598.90 24.20,599.60 32.70,599.30 36.70,598.90 38.70,597.40 41.50,574.90 43.20,541.00 44.40,534.00 45.40,534.00 46.40,541.00 47.20,577.90 48.20,589.50 51.00,591.50 53.90,592.40 57.00,590.50 60.00,587.00 63.00,585.00 64.70,586.20 65.90,584.20 67.40,588.20 68.50,593.90 70.00,598.90 74.00,599.40 80.00,599.70 84.00,599.30 88.00,599.70 135.30,599.80 135.30,599.90" fill="#fc6268" stroke="none" stroke-width="0" fill-opacity="0.95"/>
<polygon points="146.90,599.90 146.90,598.90 148.40,599.60 159.00,599.30 163.00,598.90 165.00,597.40 166.90,574.90 168.60,541.00 169.80,534.00 170.80,534.00 171.80,541.00 172.60,577.90 173.50,584.00 177.00,589.00 181.90,592.20 185.00,590.00 187.50,583.00 189.10,576.20 190.30,574.20 191.80,578.20 194.40,593.90 195.90,598.90 199.90,599.40 205.90,599.70 209.90,599.30 213.90,599.70 259.60,599.80 259.60,599.90" fill="#fc6268" stroke="none" stroke-width="0" fill-opacity="0.95"/>
<polygon points="270.90,598.60 270.90,597.60 272.40,598.30 282.50,598.00 286.50,597.60 288.50,596.10 289.40,573.60 291.10,540.00 292.30,533.00 293.30,533.00 294.30,540.00 295.10,576.60 296.00,580.00 299.00,587.00 302.00,589.00 305.00,588.00 308.00,582.00 310.00,574.00 310.70,572.30 311.90,570.30 313.40,574.30 316.40,592.60 317.90,597.60 321.90,598.10 327.90,598.40 331.90,598.00 335.90,598.40 384.50,598.50 384.50,598.60" fill="#fc6268" stroke="none" stroke-width="0" fill-opacity="0.95"/>
<polygon points="394.70,598.40 394.70,597.40 396.20,598.10 406.00,597.80 410.00,597.40 412.00,595.90 413.00,573.40 414.70,539.60 415.90,532.60 416.90,532.60 417.90,539.60 418.70,576.40 418.70,549.30 420.00,565.00 422.00,580.00 425.00,586.00 427.90,588.10 431.00,584.00 433.50,573.00 434.90,571.30 436.10,569.30 437.60,573.30 439.00,578.00 441.80,584.00 443.80,592.40 445.30,597.40 449.30,597.90 455.30,598.20 459.30,597.80 463.30,598.20 507.70,598.30 507.70,598.40" fill="#fc6268" stroke="none" stroke-width="0" fill-opacity="0.95"/>
<polygon points="22.40,693.70 22.40,692.70 23.90,693.40 33.00,693.10 37.00,692.70 39.00,691.20 40.90,668.70 42.60,635.40 43.80,628.40 44.80,628.40 45.80,635.40 46.60,671.70 47.10,683.20 50.40,683.90 52.50,685.20 54.70,685.80 58.00,684.00 61.00,680.00 63.40,677.50 64.60,675.50 66.10,679.50 68.10,687.70 69.60,692.70 73.60,693.20 79.60,693.50 83.60,693.10 87.60,693.50 134.80,693.60 134.80,693.70" fill="#fc6268" stroke="none" stroke-width="0" fill-opacity="0.95"/>
<polygon points="146.70,693.90 146.70,692.90 148.20,693.60 158.00,693.30 162.00,692.90 164.00,691.40 165.40,668.90 167.10,635.10 168.30,628.10 169.30,628.10 170.30,635.10 171.10,671.90 171.80,681.60 176.00,685.00 180.00,686.70 183.00,683.00 185.10,680.20 187.50,673.00 188.00,665.20 189.20,663.20 190.70,667.20 191.70,687.90 193.20,692.90 197.20,693.40 203.20,693.70 207.20,693.30 211.20,693.70 259.60,693.80 259.60,693.90" fill="#fc6268" stroke="none" stroke-width="0" fill-opacity="0.95"/>
<polygon points="271.70,693.50 271.70,692.50 273.20,693.20 282.60,692.90 286.60,692.50 288.60,691.00 290.40,668.50 292.10,634.70 293.30,627.70 294.30,627.70 295.30,634.70 296.10,671.50 296.80,682.30 300.00,684.00 303.00,683.50 307.00,684.00 309.00,680.00 310.10,675.50 312.00,665.00 312.30,653.60 313.50,651.60 315.00,655.60 316.70,687.50 318.20,692.50 322.20,693.00 328.20,693.30 332.20,692.90 336.20,693.30 384.20,693.40 384.20,693.50" fill="#fc6268" stroke="none" stroke-width="0" fill-opacity="0.95"/>
<polygon points="395.30,693.50 395.30,692.50 396.80,693.20 403.50,692.90 407.50,692.50 409.50,691.00 413.00,668.50 414.70,635.10 415.90,628.10 416.90,628.10 417.90,635.10 418.70,671.50 420.20,680.60 422.40,677.60 424.90,680.20 426.50,676.00 428.30,667.30 431.00,665.00 434.00,663.20 435.30,658.50 436.50,656.50 438.00,660.50 438.30,687.50 439.80,692.50 443.80,693.00 449.80,693.30 453.80,692.90 457.80,693.30 507.70,693.40 507.70,693.50" fill="#fc6268" stroke="none" stroke-width="0" fill-opacity="0.95"/>
<line x1="20.60" y1="599.90" x2="22.20" y2="599.90" stroke="#888" stroke-width="0.5" />
<line x1="21.20" y1="596.88" x2="22.20" y2="596.88" stroke="#888" stroke-width="0.5" />
<line x1="21.20" y1="593.85" x2="22.20" y2="593.85" stroke="#888" stroke-width="0.5" />
<line x1="21.20" y1="590.83" x2="22.20" y2="590.83" stroke="#888" stroke-width="0.5" />
<line x1="20.60" y1="587.81" x2="22.20" y2="587.81" stroke="#888" stroke-width="0.5" />
<line x1="21.20" y1="584.79" x2="22.20" y2="584.79" stroke="#888" stroke-width="0.5" />
<line x1="21.20" y1="581.76" x2="22.20" y2="581.76" stroke="#888" stroke-width="0.5" />
<line x1="21.20" y1="578.74" x2="22.20" y2="578.74" stroke="#888" stroke-width="0.5" />
<line x1="20.60" y1="575.72" x2="22.20" y2="575.72" stroke="#888" stroke-width="0.5" />
<line x1="21.20" y1="572.70" x2="22.20" y2="572.70" stroke="#888" stroke-width="0.5" />
<line x1="21.20" y1="569.67" x2="22.20" y2="569.67" stroke="#888" stroke-width="0.5" />
<line x1="21.20" y1="566.65" x2="22.20" y2="566.65" stroke="#888" stroke-width="0.5" />
<line x1="20.60" y1="563.63" x2="22.20" y2="563.63" stroke="#888" stroke-width="0.5" />
<line x1="21.20" y1="560.60" x2="22.20" y2="560.60" stroke="#888" stroke-width="0.5" />
<line x1="21.20" y1="557.58" x2="22.20" y2="557.58" stroke="#888" stroke-width="0.5" />
<line x1="21.20" y1="554.56" x2="22.20" y2="554.56" stroke="#888" stroke-width="0.5" />
<line x1="20.60" y1="551.54" x2="22.20" y2="551.54" stroke="#888" stroke-width="0.5" />
<line x1="21.20" y1="548.51" x2="22.20" y2="548.51" stroke="#888" stroke-width="0.5" />
<line x1="21.20" y1="545.49" x2="22.20" y2="545.49" stroke="#888" stroke-width="0.5" />
<line x1="21.20" y1="542.47" x2="22.20" y2="542.47" stroke="#888" stroke-width="0.5" />
<line x1="20.60" y1="539.45" x2="22.20" y2="539.45" stroke="#888" stroke-width="0.5" />
<line x1="21.20" y1="536.42" x2="22.20" y2="536.42" stroke="#888" stroke-width="0.5" />
<line x1="21.20" y1="533.40" x2="22.20" y2="533.40" stroke="#888" stroke-width="0.5" />
<line x1="22.20" y1="599.90" x2="22.20" y2="602.70" stroke="#555" stroke-width="0.7" />
<line x1="26.54" y1="599.90" x2="26.54" y2="601.40" stroke="#777" stroke-width="0.7" />
<line x1="30.87" y1="599.90" x2="30.87" y2="601.40" stroke="#777" stroke-width="0.7" />
<line x1="35.21" y1="599.90" x2="35.21" y2="601.40" stroke="#777" stroke-width="0.7" />
<line x1="39.54" y1="599.90" x2="39.54" y2="601.40" stroke="#777" stroke-width="0.7" />
<line x1="43.88" y1="599.90" x2="43.88" y2="602.70" stroke="#555" stroke-width="0.7" />
<line x1="48.22" y1="599.90" x2="48.22" y2="601.40" stroke="#777" stroke-width="0.7" />
<line x1="52.55" y1="599.90" x2="52.55" y2="601.40" stroke="#777" stroke-width="0.7" />
<line x1="56.89" y1="599.90" x2="56.89" y2="601.40" stroke="#777" stroke-width="0.7" />
<line x1="61.22" y1="599.90" x2="61.22" y2="601.40" stroke="#777" stroke-width="0.7" />
<line x1="65.56" y1="599.90" x2="65.56" y2="602.70" stroke="#555" stroke-width="0.7" />
<line x1="69.90" y1="599.90" x2="69.90" y2="601.40" stroke="#777" stroke-width="0.7" />
<line x1="74.23" y1="599.90" x2="74.23" y2="601.40" stroke="#777" stroke-width="0.7" />
<line x1="78.57" y1="599.90" x2="78.57" y2="601.40" stroke="#777" stroke-width="0.7" />
<line x1="82.90" y1="599.90" x2="82.90" y2="601.40" stroke="#777" stroke-width="0.7" />
<line x1="87.24" y1="599.90" x2="87.24" y2="602.70" stroke="#555" stroke-width="0.7" />
<line x1="91.58" y1="599.90" x2="91.58" y2="601.40" stroke="#777" stroke-width="0.7" />
<line x1="95.91" y1="599.90" x2="95.91" y2="601.40" stroke="#777" stroke-width="0.7" />
<line x1="100.25" y1="599.90" x2="100.25" y2="601.40" stroke="#777" stroke-width="0.7" />
<line x1="104.58" y1="599.90" x2="104.58" y2="601.40" stroke="#777" stroke-width="0.7" />
<line x1="108.92" y1="599.90" x2="108.92" y2="602.70" stroke="#555" stroke-width="0.7" />
<line x1="113.26" y1="599.90" x2="113.26" y2="601.40" stroke="#777" stroke-width="0.7" />
<line x1="117.59" y1="599.90" x2="117.59" y2="601.40" stroke="#777" stroke-width="0.7" />
<line x1="121.93" y1="599.90" x2="121.93" y2="601.40" stroke="#777" stroke-width="0.7" />
<line x1="126.26" y1="599.90" x2="126.26" y2="601.40" stroke="#777" stroke-width="0.7" />
<line x1="130.60" y1="599.90" x2="130.60" y2="602.70" stroke="#555" stroke-width="0.7" />
<rect x="22.20" y="533.40" width="113.60" height="66.50" fill="none" stroke="#808080" stroke-width="0.8"/>
<line x1="144.80" y1="599.90" x2="146.40" y2="599.90" stroke="#888" stroke-width="0.5" />
<line x1="145.40" y1="596.88" x2="146.40" y2="596.88" stroke="#888" stroke-width="0.5" />
<line x1="145.40" y1="593.85" x2="146.40" y2="593.85" stroke="#888" stroke-width="0.5" />
<line x1="145.40" y1="590.83" x2="146.40" y2="590.83" stroke="#888" stroke-width="0.5" />
<line x1="144.80" y1="587.81" x2="146.40" y2="587.81" stroke="#888" stroke-width="0.5" />
<line x1="145.40" y1="584.79" x2="146.40" y2="584.79" stroke="#888" stroke-width="0.5" />
<line x1="145.40" y1="581.76" x2="146.40" y2="581.76" stroke="#888" stroke-width="0.5" />
<line x1="145.40" y1="578.74" x2="146.40" y2="578.74" stroke="#888" stroke-width="0.5" />
<line x1="144.80" y1="575.72" x2="146.40" y2="575.72" stroke="#888" stroke-width="0.5" />
<line x1="145.40" y1="572.70" x2="146.40" y2="572.70" stroke="#888" stroke-width="0.5" />
<line x1="145.40" y1="569.67" x2="146.40" y2="569.67" stroke="#888" stroke-width="0.5" />
<line x1="145.40" y1="566.65" x2="146.40" y2="566.65" stroke="#888" stroke-width="0.5" />
<line x1="144.80" y1="563.63" x2="146.40" y2="563.63" stroke="#888" stroke-width="0.5" />
<line x1="145.40" y1="560.60" x2="146.40" y2="560.60" stroke="#888" stroke-width="0.5" />
<line x1="145.40" y1="557.58" x2="146.40" y2="557.58" stroke="#888" stroke-width="0.5" />
<line x1="145.40" y1="554.56" x2="146.40" y2="554.56" stroke="#888" stroke-width="0.5" />
<line x1="144.80" y1="551.54" x2="146.40" y2="551.54" stroke="#888" stroke-width="0.5" />
<line x1="145.40" y1="548.51" x2="146.40" y2="548.51" stroke="#888" stroke-width="0.5" />
<line x1="145.40" y1="545.49" x2="146.40" y2="545.49" stroke="#888" stroke-width="0.5" />
<line x1="145.40" y1="542.47" x2="146.40" y2="542.47" stroke="#888" stroke-width="0.5" />
<line x1="144.80" y1="539.45" x2="146.40" y2="539.45" stroke="#888" stroke-width="0.5" />
<line x1="145.40" y1="536.42" x2="146.40" y2="536.42" stroke="#888" stroke-width="0.5" />
<line x1="145.40" y1="533.40" x2="146.40" y2="533.40" stroke="#888" stroke-width="0.5" />
<line x1="146.40" y1="599.90" x2="146.40" y2="602.70" stroke="#555" stroke-width="0.7" />
<line x1="150.74" y1="599.90" x2="150.74" y2="601.40" stroke="#777" stroke-width="0.7" />
<line x1="155.08" y1="599.90" x2="155.08" y2="601.40" stroke="#777" stroke-width="0.7" />
<line x1="159.42" y1="599.90" x2="159.42" y2="601.40" stroke="#777" stroke-width="0.7" />
<line x1="163.76" y1="599.90" x2="163.76" y2="601.40" stroke="#777" stroke-width="0.7" />
<line x1="168.10" y1="599.90" x2="168.10" y2="602.70" stroke="#555" stroke-width="0.7" />
<line x1="172.44" y1="599.90" x2="172.44" y2="601.40" stroke="#777" stroke-width="0.7" />
<line x1="176.78" y1="599.90" x2="176.78" y2="601.40" stroke="#777" stroke-width="0.7" />
<line x1="181.12" y1="599.90" x2="181.12" y2="601.40" stroke="#777" stroke-width="0.7" />
<line x1="185.46" y1="599.90" x2="185.46" y2="601.40" stroke="#777" stroke-width="0.7" />
<line x1="189.80" y1="599.90" x2="189.80" y2="602.70" stroke="#555" stroke-width="0.7" />
<line x1="194.14" y1="599.90" x2="194.14" y2="601.40" stroke="#777" stroke-width="0.7" />
<line x1="198.48" y1="599.90" x2="198.48" y2="601.40" stroke="#777" stroke-width="0.7" />
<line x1="202.82" y1="599.90" x2="202.82" y2="601.40" stroke="#777" stroke-width="0.7" />
<line x1="207.16" y1="599.90" x2="207.16" y2="601.40" stroke="#777" stroke-width="0.7" />
<line x1="211.50" y1="599.90" x2="211.50" y2="602.70" stroke="#555" stroke-width="0.7" />
<line x1="215.84" y1="599.90" x2="215.84" y2="601.40" stroke="#777" stroke-width="0.7" />
<line x1="220.18" y1="599.90" x2="220.18" y2="601.40" stroke="#777" stroke-width="0.7" />
<line x1="224.52" y1="599.90" x2="224.52" y2="601.40" stroke="#777" stroke-width="0.7" />
<line x1="228.86" y1="599.90" x2="228.86" y2="601.40" stroke="#777" stroke-width="0.7" />
<line x1="233.20" y1="599.90" x2="233.20" y2="602.70" stroke="#555" stroke-width="0.7" />
<line x1="237.54" y1="599.90" x2="237.54" y2="601.40" stroke="#777" stroke-width="0.7" />
<line x1="241.88" y1="599.90" x2="241.88" y2="601.40" stroke="#777" stroke-width="0.7" />
<line x1="246.22" y1="599.90" x2="246.22" y2="601.40" stroke="#777" stroke-width="0.7" />
<line x1="250.56" y1="599.90" x2="250.56" y2="601.40" stroke="#777" stroke-width="0.7" />
<line x1="254.90" y1="599.90" x2="254.90" y2="602.70" stroke="#555" stroke-width="0.7" />
<rect x="146.40" y="533.40" width="113.70" height="66.50" fill="none" stroke="#808080" stroke-width="0.8"/>
<line x1="268.80" y1="598.60" x2="270.40" y2="598.60" stroke="#888" stroke-width="0.5" />
<line x1="269.40" y1="595.59" x2="270.40" y2="595.59" stroke="#888" stroke-width="0.5" />
<line x1="269.40" y1="592.58" x2="270.40" y2="592.58" stroke="#888" stroke-width="0.5" />
<line x1="269.40" y1="589.57" x2="270.40" y2="589.57" stroke="#888" stroke-width="0.5" />
<line x1="268.80" y1="586.56" x2="270.40" y2="586.56" stroke="#888" stroke-width="0.5" />
<line x1="269.40" y1="583.55" x2="270.40" y2="583.55" stroke="#888" stroke-width="0.5" />
<line x1="269.40" y1="580.55" x2="270.40" y2="580.55" stroke="#888" stroke-width="0.5" />
<line x1="269.40" y1="577.54" x2="270.40" y2="577.54" stroke="#888" stroke-width="0.5" />
<line x1="268.80" y1="574.53" x2="270.40" y2="574.53" stroke="#888" stroke-width="0.5" />
<line x1="269.40" y1="571.52" x2="270.40" y2="571.52" stroke="#888" stroke-width="0.5" />
<line x1="269.40" y1="568.51" x2="270.40" y2="568.51" stroke="#888" stroke-width="0.5" />
<line x1="269.40" y1="565.50" x2="270.40" y2="565.50" stroke="#888" stroke-width="0.5" />
<line x1="268.80" y1="562.49" x2="270.40" y2="562.49" stroke="#888" stroke-width="0.5" />
<line x1="269.40" y1="559.48" x2="270.40" y2="559.48" stroke="#888" stroke-width="0.5" />
<line x1="269.40" y1="556.47" x2="270.40" y2="556.47" stroke="#888" stroke-width="0.5" />
<line x1="269.40" y1="553.46" x2="270.40" y2="553.46" stroke="#888" stroke-width="0.5" />
<line x1="268.80" y1="550.45" x2="270.40" y2="550.45" stroke="#888" stroke-width="0.5" />
<line x1="269.40" y1="547.45" x2="270.40" y2="547.45" stroke="#888" stroke-width="0.5" />
<line x1="269.40" y1="544.44" x2="270.40" y2="544.44" stroke="#888" stroke-width="0.5" />
<line x1="269.40" y1="541.43" x2="270.40" y2="541.43" stroke="#888" stroke-width="0.5" />
<line x1="268.80" y1="538.42" x2="270.40" y2="538.42" stroke="#888" stroke-width="0.5" />
<line x1="269.40" y1="535.41" x2="270.40" y2="535.41" stroke="#888" stroke-width="0.5" />
<line x1="269.40" y1="532.40" x2="270.40" y2="532.40" stroke="#888" stroke-width="0.5" />
<line x1="270.40" y1="598.60" x2="270.40" y2="601.40" stroke="#555" stroke-width="0.7" />
<line x1="274.78" y1="598.60" x2="274.78" y2="600.10" stroke="#777" stroke-width="0.7" />
<line x1="279.15" y1="598.60" x2="279.15" y2="600.10" stroke="#777" stroke-width="0.7" />
<line x1="283.53" y1="598.60" x2="283.53" y2="600.10" stroke="#777" stroke-width="0.7" />
<line x1="287.90" y1="598.60" x2="287.90" y2="600.10" stroke="#777" stroke-width="0.7" />
<line x1="292.28" y1="598.60" x2="292.28" y2="601.40" stroke="#555" stroke-width="0.7" />
<line x1="296.66" y1="598.60" x2="296.66" y2="600.10" stroke="#777" stroke-width="0.7" />
<line x1="301.03" y1="598.60" x2="301.03" y2="600.10" stroke="#777" stroke-width="0.7" />
<line x1="305.41" y1="598.60" x2="305.41" y2="600.10" stroke="#777" stroke-width="0.7" />
<line x1="309.78" y1="598.60" x2="309.78" y2="600.10" stroke="#777" stroke-width="0.7" />
<line x1="314.16" y1="598.60" x2="314.16" y2="601.40" stroke="#555" stroke-width="0.7" />
<line x1="318.54" y1="598.60" x2="318.54" y2="600.10" stroke="#777" stroke-width="0.7" />
<line x1="322.91" y1="598.60" x2="322.91" y2="600.10" stroke="#777" stroke-width="0.7" />
<line x1="327.29" y1="598.60" x2="327.29" y2="600.10" stroke="#777" stroke-width="0.7" />
<line x1="331.66" y1="598.60" x2="331.66" y2="600.10" stroke="#777" stroke-width="0.7" />
<line x1="336.04" y1="598.60" x2="336.04" y2="601.40" stroke="#555" stroke-width="0.7" />
<line x1="340.42" y1="598.60" x2="340.42" y2="600.10" stroke="#777" stroke-width="0.7" />
<line x1="344.79" y1="598.60" x2="344.79" y2="600.10" stroke="#777" stroke-width="0.7" />
<line x1="349.17" y1="598.60" x2="349.17" y2="600.10" stroke="#777" stroke-width="0.7" />
<line x1="353.54" y1="598.60" x2="353.54" y2="600.10" stroke="#777" stroke-width="0.7" />
<line x1="357.92" y1="598.60" x2="357.92" y2="601.40" stroke="#555" stroke-width="0.7" />
<line x1="362.30" y1="598.60" x2="362.30" y2="600.10" stroke="#777" stroke-width="0.7" />
<line x1="366.67" y1="598.60" x2="366.67" y2="600.10" stroke="#777" stroke-width="0.7" />
<line x1="371.05" y1="598.60" x2="371.05" y2="600.10" stroke="#777" stroke-width="0.7" />
<line x1="375.42" y1="598.60" x2="375.42" y2="600.10" stroke="#777" stroke-width="0.7" />
<line x1="379.80" y1="598.60" x2="379.80" y2="601.40" stroke="#555" stroke-width="0.7" />
<rect x="270.40" y="532.40" width="114.60" height="66.20" fill="none" stroke="#808080" stroke-width="0.8"/>
<line x1="392.60" y1="598.40" x2="394.20" y2="598.40" stroke="#888" stroke-width="0.5" />
<line x1="393.20" y1="595.38" x2="394.20" y2="595.38" stroke="#888" stroke-width="0.5" />
<line x1="393.20" y1="592.36" x2="394.20" y2="592.36" stroke="#888" stroke-width="0.5" />
<line x1="393.20" y1="589.35" x2="394.20" y2="589.35" stroke="#888" stroke-width="0.5" />
<line x1="392.60" y1="586.33" x2="394.20" y2="586.33" stroke="#888" stroke-width="0.5" />
<line x1="393.20" y1="583.31" x2="394.20" y2="583.31" stroke="#888" stroke-width="0.5" />
<line x1="393.20" y1="580.29" x2="394.20" y2="580.29" stroke="#888" stroke-width="0.5" />
<line x1="393.20" y1="577.27" x2="394.20" y2="577.27" stroke="#888" stroke-width="0.5" />
<line x1="392.60" y1="574.25" x2="394.20" y2="574.25" stroke="#888" stroke-width="0.5" />
<line x1="393.20" y1="571.24" x2="394.20" y2="571.24" stroke="#888" stroke-width="0.5" />
<line x1="393.20" y1="568.22" x2="394.20" y2="568.22" stroke="#888" stroke-width="0.5" />
<line x1="393.20" y1="565.20" x2="394.20" y2="565.20" stroke="#888" stroke-width="0.5" />
<line x1="392.60" y1="562.18" x2="394.20" y2="562.18" stroke="#888" stroke-width="0.5" />
<line x1="393.20" y1="559.16" x2="394.20" y2="559.16" stroke="#888" stroke-width="0.5" />
<line x1="393.20" y1="556.15" x2="394.20" y2="556.15" stroke="#888" stroke-width="0.5" />
<line x1="393.20" y1="553.13" x2="394.20" y2="553.13" stroke="#888" stroke-width="0.5" />
<line x1="392.60" y1="550.11" x2="394.20" y2="550.11" stroke="#888" stroke-width="0.5" />
<line x1="393.20" y1="547.09" x2="394.20" y2="547.09" stroke="#888" stroke-width="0.5" />
<line x1="393.20" y1="544.07" x2="394.20" y2="544.07" stroke="#888" stroke-width="0.5" />
<line x1="393.20" y1="541.05" x2="394.20" y2="541.05" stroke="#888" stroke-width="0.5" />
<line x1="392.60" y1="538.04" x2="394.20" y2="538.04" stroke="#888" stroke-width="0.5" />
<line x1="393.20" y1="535.02" x2="394.20" y2="535.02" stroke="#888" stroke-width="0.5" />
<line x1="393.20" y1="532.00" x2="394.20" y2="532.00" stroke="#888" stroke-width="0.5" />
<line x1="394.20" y1="598.40" x2="394.20" y2="601.20" stroke="#555" stroke-width="0.7" />
<line x1="398.55" y1="598.40" x2="398.55" y2="599.90" stroke="#777" stroke-width="0.7" />
<line x1="402.90" y1="598.40" x2="402.90" y2="599.90" stroke="#777" stroke-width="0.7" />
<line x1="407.26" y1="598.40" x2="407.26" y2="599.90" stroke="#777" stroke-width="0.7" />
<line x1="411.61" y1="598.40" x2="411.61" y2="599.90" stroke="#777" stroke-width="0.7" />
<line x1="415.96" y1="598.40" x2="415.96" y2="601.20" stroke="#555" stroke-width="0.7" />
<line x1="420.31" y1="598.40" x2="420.31" y2="599.90" stroke="#777" stroke-width="0.7" />
<line x1="424.66" y1="598.40" x2="424.66" y2="599.90" stroke="#777" stroke-width="0.7" />
<line x1="429.02" y1="598.40" x2="429.02" y2="599.90" stroke="#777" stroke-width="0.7" />
<line x1="433.37" y1="598.40" x2="433.37" y2="599.90" stroke="#777" stroke-width="0.7" />
<line x1="437.72" y1="598.40" x2="437.72" y2="601.20" stroke="#555" stroke-width="0.7" />
<line x1="442.07" y1="598.40" x2="442.07" y2="599.90" stroke="#777" stroke-width="0.7" />
<line x1="446.42" y1="598.40" x2="446.42" y2="599.90" stroke="#777" stroke-width="0.7" />
<line x1="450.78" y1="598.40" x2="450.78" y2="599.90" stroke="#777" stroke-width="0.7" />
<line x1="455.13" y1="598.40" x2="455.13" y2="599.90" stroke="#777" stroke-width="0.7" />
<line x1="459.48" y1="598.40" x2="459.48" y2="601.20" stroke="#555" stroke-width="0.7" />
<line x1="463.83" y1="598.40" x2="463.83" y2="599.90" stroke="#777" stroke-width="0.7" />
<line x1="468.18" y1="598.40" x2="468.18" y2="599.90" stroke="#777" stroke-width="0.7" />
<line x1="472.54" y1="598.40" x2="472.54" y2="599.90" stroke="#777" stroke-width="0.7" />
<line x1="476.89" y1="598.40" x2="476.89" y2="599.90" stroke="#777" stroke-width="0.7" />
<line x1="481.24" y1="598.40" x2="481.24" y2="601.20" stroke="#555" stroke-width="0.7" />
<line x1="485.59" y1="598.40" x2="485.59" y2="599.90" stroke="#777" stroke-width="0.7" />
<line x1="489.94" y1="598.40" x2="489.94" y2="599.90" stroke="#777" stroke-width="0.7" />
<line x1="494.30" y1="598.40" x2="494.30" y2="599.90" stroke="#777" stroke-width="0.7" />
<line x1="498.65" y1="598.40" x2="498.65" y2="599.90" stroke="#777" stroke-width="0.7" />
<line x1="503.00" y1="598.40" x2="503.00" y2="601.20" stroke="#555" stroke-width="0.7" />
<rect x="394.20" y="532.00" width="114.00" height="66.40" fill="none" stroke="#808080" stroke-width="0.8"/>
<line x1="20.30" y1="693.70" x2="21.90" y2="693.70" stroke="#888" stroke-width="0.5" />
<line x1="20.90" y1="690.70" x2="21.90" y2="690.70" stroke="#888" stroke-width="0.5" />
<line x1="20.90" y1="687.71" x2="21.90" y2="687.71" stroke="#888" stroke-width="0.5" />
<line x1="20.90" y1="684.71" x2="21.90" y2="684.71" stroke="#888" stroke-width="0.5" />
<line x1="20.30" y1="681.72" x2="21.90" y2="681.72" stroke="#888" stroke-width="0.5" />
<line x1="20.90" y1="678.72" x2="21.90" y2="678.72" stroke="#888" stroke-width="0.5" />
<line x1="20.90" y1="675.73" x2="21.90" y2="675.73" stroke="#888" stroke-width="0.5" />
<line x1="20.90" y1="672.73" x2="21.90" y2="672.73" stroke="#888" stroke-width="0.5" />
<line x1="20.30" y1="669.74" x2="21.90" y2="669.74" stroke="#888" stroke-width="0.5" />
<line x1="20.90" y1="666.74" x2="21.90" y2="666.74" stroke="#888" stroke-width="0.5" />
<line x1="20.90" y1="663.75" x2="21.90" y2="663.75" stroke="#888" stroke-width="0.5" />
<line x1="20.90" y1="660.75" x2="21.90" y2="660.75" stroke="#888" stroke-width="0.5" />
<line x1="20.30" y1="657.75" x2="21.90" y2="657.75" stroke="#888" stroke-width="0.5" />
<line x1="20.90" y1="654.76" x2="21.90" y2="654.76" stroke="#888" stroke-width="0.5" />
<line x1="20.90" y1="651.76" x2="21.90" y2="651.76" stroke="#888" stroke-width="0.5" />
<line x1="20.90" y1="648.77" x2="21.90" y2="648.77" stroke="#888" stroke-width="0.5" />
<line x1="20.30" y1="645.77" x2="21.90" y2="645.77" stroke="#888" stroke-width="0.5" />
<line x1="20.90" y1="642.78" x2="21.90" y2="642.78" stroke="#888" stroke-width="0.5" />
<line x1="20.90" y1="639.78" x2="21.90" y2="639.78" stroke="#888" stroke-width="0.5" />
<line x1="20.90" y1="636.79" x2="21.90" y2="636.79" stroke="#888" stroke-width="0.5" />
<line x1="20.30" y1="633.79" x2="21.90" y2="633.79" stroke="#888" stroke-width="0.5" />
<line x1="20.90" y1="630.80" x2="21.90" y2="630.80" stroke="#888" stroke-width="0.5" />
<line x1="20.90" y1="627.80" x2="21.90" y2="627.80" stroke="#888" stroke-width="0.5" />
<line x1="21.90" y1="693.70" x2="21.90" y2="696.50" stroke="#555" stroke-width="0.7" />
<line x1="26.23" y1="693.70" x2="26.23" y2="695.20" stroke="#777" stroke-width="0.7" />
<line x1="30.56" y1="693.70" x2="30.56" y2="695.20" stroke="#777" stroke-width="0.7" />
<line x1="34.88" y1="693.70" x2="34.88" y2="695.20" stroke="#777" stroke-width="0.7" />
<line x1="39.21" y1="693.70" x2="39.21" y2="695.20" stroke="#777" stroke-width="0.7" />
<line x1="43.54" y1="693.70" x2="43.54" y2="696.50" stroke="#555" stroke-width="0.7" />
<line x1="47.87" y1="693.70" x2="47.87" y2="695.20" stroke="#777" stroke-width="0.7" />
<line x1="52.20" y1="693.70" x2="52.20" y2="695.20" stroke="#777" stroke-width="0.7" />
<line x1="56.52" y1="693.70" x2="56.52" y2="695.20" stroke="#777" stroke-width="0.7" />
<line x1="60.85" y1="693.70" x2="60.85" y2="695.20" stroke="#777" stroke-width="0.7" />
<line x1="65.18" y1="693.70" x2="65.18" y2="696.50" stroke="#555" stroke-width="0.7" />
<line x1="69.51" y1="693.70" x2="69.51" y2="695.20" stroke="#777" stroke-width="0.7" />
<line x1="73.84" y1="693.70" x2="73.84" y2="695.20" stroke="#777" stroke-width="0.7" />
<line x1="78.16" y1="693.70" x2="78.16" y2="695.20" stroke="#777" stroke-width="0.7" />
<line x1="82.49" y1="693.70" x2="82.49" y2="695.20" stroke="#777" stroke-width="0.7" />
<line x1="86.82" y1="693.70" x2="86.82" y2="696.50" stroke="#555" stroke-width="0.7" />
<line x1="91.15" y1="693.70" x2="91.15" y2="695.20" stroke="#777" stroke-width="0.7" />
<line x1="95.48" y1="693.70" x2="95.48" y2="695.20" stroke="#777" stroke-width="0.7" />
<line x1="99.80" y1="693.70" x2="99.80" y2="695.20" stroke="#777" stroke-width="0.7" />
<line x1="104.13" y1="693.70" x2="104.13" y2="695.20" stroke="#777" stroke-width="0.7" />
<line x1="108.46" y1="693.70" x2="108.46" y2="696.50" stroke="#555" stroke-width="0.7" />
<line x1="112.79" y1="693.70" x2="112.79" y2="695.20" stroke="#777" stroke-width="0.7" />
<line x1="117.12" y1="693.70" x2="117.12" y2="695.20" stroke="#777" stroke-width="0.7" />
<line x1="121.44" y1="693.70" x2="121.44" y2="695.20" stroke="#777" stroke-width="0.7" />
<line x1="125.77" y1="693.70" x2="125.77" y2="695.20" stroke="#777" stroke-width="0.7" />
<line x1="130.10" y1="693.70" x2="130.10" y2="696.50" stroke="#555" stroke-width="0.7" />
<rect x="21.90" y="627.80" width="113.40" height="65.90" fill="none" stroke="#808080" stroke-width="0.8"/>
<line x1="144.60" y1="693.90" x2="146.20" y2="693.90" stroke="#888" stroke-width="0.5" />
<line x1="145.20" y1="690.88" x2="146.20" y2="690.88" stroke="#888" stroke-width="0.5" />
<line x1="145.20" y1="687.86" x2="146.20" y2="687.86" stroke="#888" stroke-width="0.5" />
<line x1="145.20" y1="684.85" x2="146.20" y2="684.85" stroke="#888" stroke-width="0.5" />
<line x1="144.60" y1="681.83" x2="146.20" y2="681.83" stroke="#888" stroke-width="0.5" />
<line x1="145.20" y1="678.81" x2="146.20" y2="678.81" stroke="#888" stroke-width="0.5" />
<line x1="145.20" y1="675.79" x2="146.20" y2="675.79" stroke="#888" stroke-width="0.5" />
<line x1="145.20" y1="672.77" x2="146.20" y2="672.77" stroke="#888" stroke-width="0.5" />
<line x1="144.60" y1="669.75" x2="146.20" y2="669.75" stroke="#888" stroke-width="0.5" />
<line x1="145.20" y1="666.74" x2="146.20" y2="666.74" stroke="#888" stroke-width="0.5" />
<line x1="145.20" y1="663.72" x2="146.20" y2="663.72" stroke="#888" stroke-width="0.5" />
<line x1="145.20" y1="660.70" x2="146.20" y2="660.70" stroke="#888" stroke-width="0.5" />
<line x1="144.60" y1="657.68" x2="146.20" y2="657.68" stroke="#888" stroke-width="0.5" />
<line x1="145.20" y1="654.66" x2="146.20" y2="654.66" stroke="#888" stroke-width="0.5" />
<line x1="145.20" y1="651.65" x2="146.20" y2="651.65" stroke="#888" stroke-width="0.5" />
<line x1="145.20" y1="648.63" x2="146.20" y2="648.63" stroke="#888" stroke-width="0.5" />
<line x1="144.60" y1="645.61" x2="146.20" y2="645.61" stroke="#888" stroke-width="0.5" />
<line x1="145.20" y1="642.59" x2="146.20" y2="642.59" stroke="#888" stroke-width="0.5" />
<line x1="145.20" y1="639.57" x2="146.20" y2="639.57" stroke="#888" stroke-width="0.5" />
<line x1="145.20" y1="636.55" x2="146.20" y2="636.55" stroke="#888" stroke-width="0.5" />
<line x1="144.60" y1="633.54" x2="146.20" y2="633.54" stroke="#888" stroke-width="0.5" />
<line x1="145.20" y1="630.52" x2="146.20" y2="630.52" stroke="#888" stroke-width="0.5" />
<line x1="145.20" y1="627.50" x2="146.20" y2="627.50" stroke="#888" stroke-width="0.5" />
<line x1="146.20" y1="693.90" x2="146.20" y2="696.70" stroke="#555" stroke-width="0.7" />
<line x1="150.55" y1="693.90" x2="150.55" y2="695.40" stroke="#777" stroke-width="0.7" />
<line x1="154.90" y1="693.90" x2="154.90" y2="695.40" stroke="#777" stroke-width="0.7" />
<line x1="159.24" y1="693.90" x2="159.24" y2="695.40" stroke="#777" stroke-width="0.7" />
<line x1="163.59" y1="693.90" x2="163.59" y2="695.40" stroke="#777" stroke-width="0.7" />
<line x1="167.94" y1="693.90" x2="167.94" y2="696.70" stroke="#555" stroke-width="0.7" />
<line x1="172.29" y1="693.90" x2="172.29" y2="695.40" stroke="#777" stroke-width="0.7" />
<line x1="176.64" y1="693.90" x2="176.64" y2="695.40" stroke="#777" stroke-width="0.7" />
<line x1="180.98" y1="693.90" x2="180.98" y2="695.40" stroke="#777" stroke-width="0.7" />
<line x1="185.33" y1="693.90" x2="185.33" y2="695.40" stroke="#777" stroke-width="0.7" />
<line x1="189.68" y1="693.90" x2="189.68" y2="696.70" stroke="#555" stroke-width="0.7" />
<line x1="194.03" y1="693.90" x2="194.03" y2="695.40" stroke="#777" stroke-width="0.7" />
<line x1="198.38" y1="693.90" x2="198.38" y2="695.40" stroke="#777" stroke-width="0.7" />
<line x1="202.72" y1="693.90" x2="202.72" y2="695.40" stroke="#777" stroke-width="0.7" />
<line x1="207.07" y1="693.90" x2="207.07" y2="695.40" stroke="#777" stroke-width="0.7" />
<line x1="211.42" y1="693.90" x2="211.42" y2="696.70" stroke="#555" stroke-width="0.7" />
<line x1="215.77" y1="693.90" x2="215.77" y2="695.40" stroke="#777" stroke-width="0.7" />
<line x1="220.12" y1="693.90" x2="220.12" y2="695.40" stroke="#777" stroke-width="0.7" />
<line x1="224.46" y1="693.90" x2="224.46" y2="695.40" stroke="#777" stroke-width="0.7" />
<line x1="228.81" y1="693.90" x2="228.81" y2="695.40" stroke="#777" stroke-width="0.7" />
<line x1="233.16" y1="693.90" x2="233.16" y2="696.70" stroke="#555" stroke-width="0.7" />
<line x1="237.51" y1="693.90" x2="237.51" y2="695.40" stroke="#777" stroke-width="0.7" />
<line x1="241.86" y1="693.90" x2="241.86" y2="695.40" stroke="#777" stroke-width="0.7" />
<line x1="246.20" y1="693.90" x2="246.20" y2="695.40" stroke="#777" stroke-width="0.7" />
<line x1="250.55" y1="693.90" x2="250.55" y2="695.40" stroke="#777" stroke-width="0.7" />
<line x1="254.90" y1="693.90" x2="254.90" y2="696.70" stroke="#555" stroke-width="0.7" />
<rect x="146.20" y="627.50" width="113.90" height="66.40" fill="none" stroke="#808080" stroke-width="0.8"/>
<line x1="269.60" y1="693.50" x2="271.20" y2="693.50" stroke="#888" stroke-width="0.5" />
<line x1="270.20" y1="690.48" x2="271.20" y2="690.48" stroke="#888" stroke-width="0.5" />
<line x1="270.20" y1="687.46" x2="271.20" y2="687.46" stroke="#888" stroke-width="0.5" />
<line x1="270.20" y1="684.45" x2="271.20" y2="684.45" stroke="#888" stroke-width="0.5" />
<line x1="269.60" y1="681.43" x2="271.20" y2="681.43" stroke="#888" stroke-width="0.5" />
<line x1="270.20" y1="678.41" x2="271.20" y2="678.41" stroke="#888" stroke-width="0.5" />
<line x1="270.20" y1="675.39" x2="271.20" y2="675.39" stroke="#888" stroke-width="0.5" />
<line x1="270.20" y1="672.37" x2="271.20" y2="672.37" stroke="#888" stroke-width="0.5" />
<line x1="269.60" y1="669.35" x2="271.20" y2="669.35" stroke="#888" stroke-width="0.5" />
<line x1="270.20" y1="666.34" x2="271.20" y2="666.34" stroke="#888" stroke-width="0.5" />
<line x1="270.20" y1="663.32" x2="271.20" y2="663.32" stroke="#888" stroke-width="0.5" />
<line x1="270.20" y1="660.30" x2="271.20" y2="660.30" stroke="#888" stroke-width="0.5" />
<line x1="269.60" y1="657.28" x2="271.20" y2="657.28" stroke="#888" stroke-width="0.5" />
<line x1="270.20" y1="654.26" x2="271.20" y2="654.26" stroke="#888" stroke-width="0.5" />
<line x1="270.20" y1="651.25" x2="271.20" y2="651.25" stroke="#888" stroke-width="0.5" />
<line x1="270.20" y1="648.23" x2="271.20" y2="648.23" stroke="#888" stroke-width="0.5" />
<line x1="269.60" y1="645.21" x2="271.20" y2="645.21" stroke="#888" stroke-width="0.5" />
<line x1="270.20" y1="642.19" x2="271.20" y2="642.19" stroke="#888" stroke-width="0.5" />
<line x1="270.20" y1="639.17" x2="271.20" y2="639.17" stroke="#888" stroke-width="0.5" />
<line x1="270.20" y1="636.15" x2="271.20" y2="636.15" stroke="#888" stroke-width="0.5" />
<line x1="269.60" y1="633.14" x2="271.20" y2="633.14" stroke="#888" stroke-width="0.5" />
<line x1="270.20" y1="630.12" x2="271.20" y2="630.12" stroke="#888" stroke-width="0.5" />
<line x1="270.20" y1="627.10" x2="271.20" y2="627.10" stroke="#888" stroke-width="0.5" />
<line x1="271.20" y1="693.50" x2="271.20" y2="696.30" stroke="#555" stroke-width="0.7" />
<line x1="275.53" y1="693.50" x2="275.53" y2="695.00" stroke="#777" stroke-width="0.7" />
<line x1="279.86" y1="693.50" x2="279.86" y2="695.00" stroke="#777" stroke-width="0.7" />
<line x1="284.20" y1="693.50" x2="284.20" y2="695.00" stroke="#777" stroke-width="0.7" />
<line x1="288.53" y1="693.50" x2="288.53" y2="695.00" stroke="#777" stroke-width="0.7" />
<line x1="292.86" y1="693.50" x2="292.86" y2="696.30" stroke="#555" stroke-width="0.7" />
<line x1="297.19" y1="693.50" x2="297.19" y2="695.00" stroke="#777" stroke-width="0.7" />
<line x1="301.52" y1="693.50" x2="301.52" y2="695.00" stroke="#777" stroke-width="0.7" />
<line x1="305.86" y1="693.50" x2="305.86" y2="695.00" stroke="#777" stroke-width="0.7" />
<line x1="310.19" y1="693.50" x2="310.19" y2="695.00" stroke="#777" stroke-width="0.7" />
<line x1="314.52" y1="693.50" x2="314.52" y2="696.30" stroke="#555" stroke-width="0.7" />
<line x1="318.85" y1="693.50" x2="318.85" y2="695.00" stroke="#777" stroke-width="0.7" />
<line x1="323.18" y1="693.50" x2="323.18" y2="695.00" stroke="#777" stroke-width="0.7" />
<line x1="327.52" y1="693.50" x2="327.52" y2="695.00" stroke="#777" stroke-width="0.7" />
<line x1="331.85" y1="693.50" x2="331.85" y2="695.00" stroke="#777" stroke-width="0.7" />
<line x1="336.18" y1="693.50" x2="336.18" y2="696.30" stroke="#555" stroke-width="0.7" />
<line x1="340.51" y1="693.50" x2="340.51" y2="695.00" stroke="#777" stroke-width="0.7" />
<line x1="344.84" y1="693.50" x2="344.84" y2="695.00" stroke="#777" stroke-width="0.7" />
<line x1="349.18" y1="693.50" x2="349.18" y2="695.00" stroke="#777" stroke-width="0.7" />
<line x1="353.51" y1="693.50" x2="353.51" y2="695.00" stroke="#777" stroke-width="0.7" />
<line x1="357.84" y1="693.50" x2="357.84" y2="696.30" stroke="#555" stroke-width="0.7" />
<line x1="362.17" y1="693.50" x2="362.17" y2="695.00" stroke="#777" stroke-width="0.7" />
<line x1="366.50" y1="693.50" x2="366.50" y2="695.00" stroke="#777" stroke-width="0.7" />
<line x1="370.84" y1="693.50" x2="370.84" y2="695.00" stroke="#777" stroke-width="0.7" />
<line x1="375.17" y1="693.50" x2="375.17" y2="695.00" stroke="#777" stroke-width="0.7" />
<line x1="379.50" y1="693.50" x2="379.50" y2="696.30" stroke="#555" stroke-width="0.7" />
<rect x="271.20" y="627.10" width="113.50" height="66.40" fill="none" stroke="#808080" stroke-width="0.8"/>
<line x1="393.20" y1="693.50" x2="394.80" y2="693.50" stroke="#888" stroke-width="0.5" />
<line x1="393.80" y1="690.50" x2="394.80" y2="690.50" stroke="#888" stroke-width="0.5" />
<line x1="393.80" y1="687.50" x2="394.80" y2="687.50" stroke="#888" stroke-width="0.5" />
<line x1="393.80" y1="684.50" x2="394.80" y2="684.50" stroke="#888" stroke-width="0.5" />
<line x1="393.20" y1="681.50" x2="394.80" y2="681.50" stroke="#888" stroke-width="0.5" />
<line x1="393.80" y1="678.50" x2="394.80" y2="678.50" stroke="#888" stroke-width="0.5" />
<line x1="393.80" y1="675.50" x2="394.80" y2="675.50" stroke="#888" stroke-width="0.5" />
<line x1="393.80" y1="672.50" x2="394.80" y2="672.50" stroke="#888" stroke-width="0.5" />
<line x1="393.20" y1="669.50" x2="394.80" y2="669.50" stroke="#888" stroke-width="0.5" />
<line x1="393.80" y1="666.50" x2="394.80" y2="666.50" stroke="#888" stroke-width="0.5" />
<line x1="393.80" y1="663.50" x2="394.80" y2="663.50" stroke="#888" stroke-width="0.5" />
<line x1="393.80" y1="660.50" x2="394.80" y2="660.50" stroke="#888" stroke-width="0.5" />
<line x1="393.20" y1="657.50" x2="394.80" y2="657.50" stroke="#888" stroke-width="0.5" />
<line x1="393.80" y1="654.50" x2="394.80" y2="654.50" stroke="#888" stroke-width="0.5" />
<line x1="393.80" y1="651.50" x2="394.80" y2="651.50" stroke="#888" stroke-width="0.5" />
<line x1="393.80" y1="648.50" x2="394.80" y2="648.50" stroke="#888" stroke-width="0.5" />
<line x1="393.20" y1="645.50" x2="394.80" y2="645.50" stroke="#888" stroke-width="0.5" />
<line x1="393.80" y1="642.50" x2="394.80" y2="642.50" stroke="#888" stroke-width="0.5" />
<line x1="393.80" y1="639.50" x2="394.80" y2="639.50" stroke="#888" stroke-width="0.5" />
<line x1="393.80" y1="636.50" x2="394.80" y2="636.50" stroke="#888" stroke-width="0.5" />
<line x1="393.20" y1="633.50" x2="394.80" y2="633.50" stroke="#888" stroke-width="0.5" />
<line x1="393.80" y1="630.50" x2="394.80" y2="630.50" stroke="#888" stroke-width="0.5" />
<line x1="393.80" y1="627.50" x2="394.80" y2="627.50" stroke="#888" stroke-width="0.5" />
<line x1="394.80" y1="693.50" x2="394.80" y2="696.30" stroke="#555" stroke-width="0.7" />
<line x1="399.13" y1="693.50" x2="399.13" y2="695.00" stroke="#777" stroke-width="0.7" />
<line x1="403.46" y1="693.50" x2="403.46" y2="695.00" stroke="#777" stroke-width="0.7" />
<line x1="407.78" y1="693.50" x2="407.78" y2="695.00" stroke="#777" stroke-width="0.7" />
<line x1="412.11" y1="693.50" x2="412.11" y2="695.00" stroke="#777" stroke-width="0.7" />
<line x1="416.44" y1="693.50" x2="416.44" y2="696.30" stroke="#555" stroke-width="0.7" />
<line x1="420.77" y1="693.50" x2="420.77" y2="695.00" stroke="#777" stroke-width="0.7" />
<line x1="425.10" y1="693.50" x2="425.10" y2="695.00" stroke="#777" stroke-width="0.7" />
<line x1="429.42" y1="693.50" x2="429.42" y2="695.00" stroke="#777" stroke-width="0.7" />
<line x1="433.75" y1="693.50" x2="433.75" y2="695.00" stroke="#777" stroke-width="0.7" />
<line x1="438.08" y1="693.50" x2="438.08" y2="696.30" stroke="#555" stroke-width="0.7" />
<line x1="442.41" y1="693.50" x2="442.41" y2="695.00" stroke="#777" stroke-width="0.7" />
<line x1="446.74" y1="693.50" x2="446.74" y2="695.00" stroke="#777" stroke-width="0.7" />
<line x1="451.06" y1="693.50" x2="451.06" y2="695.00" stroke="#777" stroke-width="0.7" />
<line x1="455.39" y1="693.50" x2="455.39" y2="695.00" stroke="#777" stroke-width="0.7" />
<line x1="459.72" y1="693.50" x2="459.72" y2="696.30" stroke="#555" stroke-width="0.7" />
<line x1="464.05" y1="693.50" x2="464.05" y2="695.00" stroke="#777" stroke-width="0.7" />
<line x1="468.38" y1="693.50" x2="468.38" y2="695.00" stroke="#777" stroke-width="0.7" />
<line x1="472.70" y1="693.50" x2="472.70" y2="695.00" stroke="#777" stroke-width="0.7" />
<line x1="477.03" y1="693.50" x2="477.03" y2="695.00" stroke="#777" stroke-width="0.7" />
<line x1="481.36" y1="693.50" x2="481.36" y2="696.30" stroke="#555" stroke-width="0.7" />
<line x1="485.69" y1="693.50" x2="485.69" y2="695.00" stroke="#777" stroke-width="0.7" />
<line x1="490.02" y1="693.50" x2="490.02" y2="695.00" stroke="#777" stroke-width="0.7" />
<line x1="494.34" y1="693.50" x2="494.34" y2="695.00" stroke="#777" stroke-width="0.7" />
<line x1="498.67" y1="693.50" x2="498.67" y2="695.00" stroke="#777" stroke-width="0.7" />
<line x1="503.00" y1="693.50" x2="503.00" y2="696.30" stroke="#555" stroke-width="0.7" />
<rect x="394.80" y="627.50" width="113.40" height="66.00" fill="none" stroke="#808080" stroke-width="0.8"/>
<line x1="22.90" y1="517.40" x2="504.10" y2="517.40" stroke="#000" stroke-width="1.3" />
<text x="263.50" y="514.40" font-size="11.7" text-anchor="middle" fill="#000" stroke="#000" stroke-width="0.22" >Chaetocin (nM)</text>
<text x="78.50" y="529.20" font-size="11.6" text-anchor="middle" fill="#000" stroke="#000" stroke-width="0.22" >Control</text>
<text x="202.85" y="529.20" font-size="11.6" text-anchor="middle" fill="#000" stroke="#000" stroke-width="0.22" >50</text>
<text x="327.30" y="529.20" font-size="11.6" text-anchor="middle" fill="#000" stroke="#000" stroke-width="0.22" >100</text>
<text x="450.80" y="529.20" font-size="11.6" text-anchor="middle" fill="#000" stroke="#000" stroke-width="0.22" >200</text>
<text x="78.30" y="623.70" font-size="11.6" text-anchor="middle" fill="#000" stroke="#000" stroke-width="0.22" >Control</text>
<text x="202.85" y="623.70" font-size="11.6" text-anchor="middle" fill="#000" stroke="#000" stroke-width="0.22" >25</text>
<text x="327.65" y="623.70" font-size="11.6" text-anchor="middle" fill="#000" stroke="#000" stroke-width="0.22" >50</text>
<text x="451.20" y="623.70" font-size="11.6" text-anchor="middle" fill="#000" stroke="#000" stroke-width="0.22" >100</text>
<line x1="5.10" y1="582.00" x2="5.10" y2="696.00" stroke="#555" stroke-width="1.4" />
<polygon points="5.10,575.60 2.70,582.40 7.50,582.40" fill="#111" stroke="none" stroke-width="0" />
<text transform="translate(8.80,552.90) rotate(-90)" font-size="11.9" text-anchor="middle" fill="#000" stroke="#000" stroke-width="0.22">Counts</text>
<line x1="7.70" y1="716.30" x2="428.00" y2="716.30" stroke="#222" stroke-width="1.2" />
<polygon points="434.70,716.30 427.10,714.10 427.10,718.50" fill="#111" stroke="none" stroke-width="0" />
<text x="438.00" y="718.50" font-size="11.7" text-anchor="start" fill="#000" stroke="#000" stroke-width="0.22" >DNA content</text>
<text x="41.60" y="709.90" font-size="11.6" text-anchor="middle" fill="#000" stroke="#000" stroke-width="0.22" >2N</text>
<text x="63.80" y="709.90" font-size="11.6" text-anchor="middle" fill="#000" stroke="#000" stroke-width="0.22" >4N</text>
<text transform="translate(525.00,566.60) rotate(-90)" font-size="11.7" text-anchor="middle" fill="#000" stroke="#000" stroke-width="0.22">HGC-27</text>
<text transform="translate(525.00,658.50) rotate(-90)" font-size="11.6" text-anchor="middle" fill="#000" stroke="#000" stroke-width="0.22">AGS</text>
<line x1="570.50" y1="529.20" x2="570.50" y2="593.70" stroke="#222" stroke-width="1.0" />
<line x1="570.00" y1="593.20" x2="666.30" y2="593.20" stroke="#222" stroke-width="1.0" />
<line x1="568.50" y1="593.20" x2="570.50" y2="593.20" stroke="#222" stroke-width="0.9" />
<text transform="translate(568.10,595.30) scale(0.85,1)" font-size="6.2" text-anchor="end" fill="#222">0</text>
<line x1="568.50" y1="580.50" x2="570.50" y2="580.50" stroke="#222" stroke-width="0.9" />
<text transform="translate(568.10,582.60) scale(0.85,1)" font-size="6.2" text-anchor="end" fill="#222">10</text>
<line x1="568.50" y1="567.80" x2="570.50" y2="567.80" stroke="#222" stroke-width="0.9" />
<text transform="translate(568.10,569.90) scale(0.85,1)" font-size="6.2" text-anchor="end" fill="#222">20</text>
<line x1="568.50" y1="555.10" x2="570.50" y2="555.10" stroke="#222" stroke-width="0.9" />
<text transform="translate(568.10,557.20) scale(0.85,1)" font-size="6.2" text-anchor="end" fill="#222">30</text>
<line x1="568.50" y1="542.40" x2="570.50" y2="542.40" stroke="#222" stroke-width="0.9" />
<text transform="translate(568.10,544.50) scale(0.85,1)" font-size="6.2" text-anchor="end" fill="#222">40</text>
<line x1="568.50" y1="529.70" x2="570.50" y2="529.70" stroke="#222" stroke-width="0.9" />
<text transform="translate(568.10,531.80) scale(0.85,1)" font-size="6.2" text-anchor="end" fill="#222">50</text>
<rect x="574.00" y="564.24" width="16.90" height="28.96" fill="#ffffff" stroke="#222" stroke-width="1.1"/>
<line x1="582.45" y1="593.20" x2="582.45" y2="595.20" stroke="#222" stroke-width="0.9" />
<text transform="translate(582.45,601.50) scale(0.85,1)" font-size="6.2" text-anchor="middle" fill="#222">0</text>
<line x1="606.55" y1="550.27" x2="606.55" y2="544.94" stroke="#222" stroke-width="1.0" />
<line x1="602.35" y1="544.94" x2="610.75" y2="544.94" stroke="#222" stroke-width="1.0" />
<rect x="598.60" y="550.27" width="15.90" height="42.93" fill="#ffffff" stroke="#222" stroke-width="1.1"/>
<line x1="606.55" y1="593.20" x2="606.55" y2="595.20" stroke="#222" stroke-width="0.9" />
<text transform="translate(606.55,601.50) scale(0.85,1)" font-size="6.2" text-anchor="middle" fill="#222">50</text>
<line x1="630.60" y1="544.43" x2="630.60" y2="541.38" stroke="#222" stroke-width="1.0" />
<line x1="626.40" y1="541.38" x2="634.80" y2="541.38" stroke="#222" stroke-width="1.0" />
<rect x="622.40" y="544.43" width="16.40" height="48.77" fill="#ffffff" stroke="#222" stroke-width="1.1"/>
<line x1="630.60" y1="593.20" x2="630.60" y2="595.20" stroke="#222" stroke-width="0.9" />
<text transform="translate(630.60,601.50) scale(0.85,1)" font-size="6.2" text-anchor="middle" fill="#222">100</text>
<line x1="654.65" y1="545.45" x2="654.65" y2="542.65" stroke="#222" stroke-width="1.0" />
<line x1="650.45" y1="542.65" x2="658.85" y2="542.65" stroke="#222" stroke-width="1.0" />
<rect x="646.50" y="545.45" width="16.30" height="47.75" fill="#ffffff" stroke="#222" stroke-width="1.1"/>
<line x1="654.65" y1="593.20" x2="654.65" y2="595.20" stroke="#222" stroke-width="0.9" />
<text transform="translate(654.65,601.50) scale(0.85,1)" font-size="6.2" text-anchor="middle" fill="#222">200</text>
<text x="606.80" y="546.10" font-size="9.0" text-anchor="middle" fill="#333" stroke="#333" stroke-width="0.22" >**</text>
<text x="630.60" y="543.20" font-size="9.0" text-anchor="middle" fill="#333" stroke="#333" stroke-width="0.22" >***</text>
<text x="654.00" y="544.00" font-size="9.0" text-anchor="middle" fill="#333" stroke="#333" stroke-width="0.22" >**</text>
<text x="618.80" y="613.30" font-size="11.9" text-anchor="middle" fill="#000" stroke="#000" stroke-width="0.22" >Chaetocin (nM)</text>
<text transform="translate(555.6,561.30) rotate(-90)" font-size="11.7" text-anchor="middle">G<tspan font-size="7.5" dy="2.6">2</tspan><tspan dy="-2.6">/M phase (%)</tspan></text>
<line x1="571.70" y1="637.00" x2="571.70" y2="702.70" stroke="#222" stroke-width="1.0" />
<line x1="571.20" y1="702.20" x2="666.30" y2="702.20" stroke="#222" stroke-width="1.0" />
<line x1="569.70" y1="702.20" x2="571.70" y2="702.20" stroke="#222" stroke-width="0.9" />
<text transform="translate(569.30,704.30) scale(0.85,1)" font-size="6.2" text-anchor="end" fill="#222">0</text>
<line x1="569.70" y1="689.26" x2="571.70" y2="689.26" stroke="#222" stroke-width="0.9" />
<text transform="translate(569.30,691.36) scale(0.85,1)" font-size="6.2" text-anchor="end" fill="#222">10</text>
<line x1="569.70" y1="676.32" x2="571.70" y2="676.32" stroke="#222" stroke-width="0.9" />
<text transform="translate(569.30,678.42) scale(0.85,1)" font-size="6.2" text-anchor="end" fill="#222">20</text>
<line x1="569.70" y1="663.38" x2="571.70" y2="663.38" stroke="#222" stroke-width="0.9" />
<text transform="translate(569.30,665.48) scale(0.85,1)" font-size="6.2" text-anchor="end" fill="#222">30</text>
<line x1="569.70" y1="650.44" x2="571.70" y2="650.44" stroke="#222" stroke-width="0.9" />
<text transform="translate(569.30,652.54) scale(0.85,1)" font-size="6.2" text-anchor="end" fill="#222">40</text>
<line x1="569.70" y1="637.50" x2="571.70" y2="637.50" stroke="#222" stroke-width="0.9" />
<text transform="translate(569.30,639.60) scale(0.85,1)" font-size="6.2" text-anchor="end" fill="#222">50</text>
<line x1="583.40" y1="676.06" x2="583.40" y2="670.89" stroke="#222" stroke-width="1.0" />
<line x1="579.20" y1="670.89" x2="587.60" y2="670.89" stroke="#222" stroke-width="1.0" />
<rect x="575.20" y="676.06" width="16.40" height="26.14" fill="#808080" stroke="#222" stroke-width="1.1"/>
<line x1="583.40" y1="702.20" x2="583.40" y2="704.20" stroke="#222" stroke-width="0.9" />
<text transform="translate(583.40,710.50) scale(0.85,1)" font-size="6.2" text-anchor="middle" fill="#222">0</text>
<line x1="607.45" y1="672.96" x2="607.45" y2="671.40" stroke="#222" stroke-width="1.0" />
<line x1="603.25" y1="671.40" x2="611.65" y2="671.40" stroke="#222" stroke-width="1.0" />
<rect x="599.30" y="672.96" width="16.30" height="29.24" fill="#808080" stroke="#222" stroke-width="1.1"/>
<line x1="607.45" y1="702.20" x2="607.45" y2="704.20" stroke="#222" stroke-width="0.9" />
<text transform="translate(607.45,710.50) scale(0.85,1)" font-size="6.2" text-anchor="middle" fill="#222">25</text>
<line x1="630.80" y1="659.24" x2="630.80" y2="655.62" stroke="#222" stroke-width="1.0" />
<line x1="626.60" y1="655.62" x2="635.00" y2="655.62" stroke="#222" stroke-width="1.0" />
<rect x="622.60" y="659.24" width="16.40" height="42.96" fill="#808080" stroke="#222" stroke-width="1.1"/>
<line x1="630.80" y1="702.20" x2="630.80" y2="704.20" stroke="#222" stroke-width="0.9" />
<text transform="translate(630.80,710.50) scale(0.85,1)" font-size="6.2" text-anchor="middle" fill="#222">50</text>
<line x1="654.65" y1="651.09" x2="654.65" y2="646.43" stroke="#222" stroke-width="1.0" />
<line x1="650.45" y1="646.43" x2="658.85" y2="646.43" stroke="#222" stroke-width="1.0" />
<rect x="646.50" y="651.09" width="16.30" height="51.11" fill="#808080" stroke="#222" stroke-width="1.1"/>
<line x1="654.65" y1="702.20" x2="654.65" y2="704.20" stroke="#222" stroke-width="0.9" />
<text transform="translate(654.65,710.50) scale(0.85,1)" font-size="6.2" text-anchor="middle" fill="#222">100</text>
<text x="630.60" y="656.90" font-size="9.0" text-anchor="middle" fill="#333" stroke="#333" stroke-width="0.22" >**</text>
<text x="654.60" y="647.60" font-size="9.0" text-anchor="middle" fill="#333" stroke="#333" stroke-width="0.22" >***</text>
<text x="618.80" y="720.90" font-size="11.9" text-anchor="middle" fill="#000" stroke="#000" stroke-width="0.22" >Chaetocin (nM)</text>
<text transform="translate(555.6,669.60) rotate(-90)" font-size="11.7" text-anchor="middle">G<tspan font-size="7.5" dy="2.6">2</tspan><tspan dy="-2.6">/M phase (%)</tspan></text>
<defs><filter id="bb" x="-30%" y="-100%" width="160%" height="300%"><feGaussianBlur stdDeviation="0.9"/></filter><filter id="bb2" x="-30%" y="-100%" width="160%" height="300%"><feGaussianBlur stdDeviation="0.85"/></filter><filter id="bb3" x="-10%" y="-10%" width="120%" height="120%"><feGaussianBlur stdDeviation="2.5"/></filter></defs>
<rect x="186.60" y="774.40" width="162.00" height="20.90" fill="#979797" stroke="#141414" stroke-width="1.5" rx="0.5"/>
<rect x="186.60" y="799.90" width="162.00" height="20.40" fill="#999999" stroke="#141414" stroke-width="1.8" rx="0.5"/>
<rect x="186.60" y="825.40" width="162.00" height="20.00" fill="#969696" stroke="#141414" stroke-width="1.5" rx="0.5"/>
<rect x="361.00" y="774.40" width="162.30" height="20.90" fill="#787878" stroke="#141414" stroke-width="1.5" rx="0.5"/>
<rect x="361.00" y="799.60" width="162.30" height="21.00" fill="#8f8f8f" stroke="#141414" stroke-width="1.8" rx="0.5"/>
<rect x="361.00" y="825.20" width="162.30" height="20.20" fill="#959595" stroke="#141414" stroke-width="1.5" rx="0.5"/>
<rect x="190.10" y="784.40" width="23.40" height="5.10" rx="2.55" fill="#262626" fill-opacity="0.70" filter="url(#bb)"/>
<rect x="223.20" y="784.20" width="23.10" height="6.20" rx="3.10" fill="#262626" fill-opacity="0.85" filter="url(#bb)"/>
<rect x="256.50" y="785.40" width="19.00" height="4.10" rx="2.05" fill="#262626" fill-opacity="0.60" filter="url(#bb)"/>
<rect x="288.80" y="785.10" width="20.40" height="4.40" rx="2.20" fill="#262626" fill-opacity="0.68" filter="url(#bb)"/>
<rect x="319.10" y="784.80" width="26.60" height="4.40" rx="2.20" fill="#262626" fill-opacity="0.58" filter="url(#bb)"/>
<rect x="191.60" y="808.00" width="25.80" height="8.60" rx="4.30" fill="#0c0c0c" fill-opacity="1.00" filter="url(#bb2)"/>
<rect x="224.70" y="810.50" width="23.10" height="6.50" rx="3.25" fill="#0c0c0c" fill-opacity="0.97" filter="url(#bb2)"/>
<rect x="255.80" y="810.50" width="25.80" height="6.80" rx="3.40" fill="#0c0c0c" fill-opacity="1.00" filter="url(#bb2)"/>
<rect x="289.90" y="810.70" width="22.90" height="5.10" rx="2.55" fill="#0c0c0c" fill-opacity="0.95" filter="url(#bb2)"/>
<path d="M 329.60,811.00 Q 337.30,812.50 344.00,811.66 Q 346.00,810.40 343.50,808.60 Q 337.30,810.40 329.60,810.40 Z" fill="#1a1a1a" fill-opacity="0.75" filter="url(#bb2)"/>
<rect x="189.40" y="833.30" width="27.40" height="4.60" rx="2.30" fill="#141414" fill-opacity="0.92" filter="url(#bb2)"/>
<rect x="222.50" y="833.60" width="28.50" height="4.60" rx="2.30" fill="#141414" fill-opacity="0.92" filter="url(#bb2)"/>
<rect x="254.50" y="833.80" width="25.00" height="4.40" rx="2.20" fill="#141414" fill-opacity="0.92" filter="url(#bb2)"/>
<rect x="285.10" y="833.80" width="27.00" height="4.60" rx="2.30" fill="#141414" fill-opacity="0.92" filter="url(#bb2)"/>
<rect x="317.20" y="833.40" width="28.50" height="5.50" rx="2.75" fill="#141414" fill-opacity="0.92" filter="url(#bb2)"/>
<rect x="396.50" y="784.00" width="24.00" height="5.60" rx="2.80" fill="#262626" fill-opacity="0.72" filter="url(#bb)"/>
<rect x="428.00" y="784.00" width="23.90" height="5.40" rx="2.70" fill="#262626" fill-opacity="0.66" filter="url(#bb)"/>
<rect x="496.00" y="781.00" width="24.00" height="5.00" rx="2.50" fill="#303030" fill-opacity="0.12" filter="url(#bb)"/>
<rect x="363.00" y="809.30" width="26.00" height="3.30" rx="1.65" fill="#0c0c0c" fill-opacity="0.90" filter="url(#bb2)"/>
<rect x="397.00" y="810.00" width="23.70" height="2.40" rx="1.20" fill="#1a1a1a" fill-opacity="0.50" filter="url(#bb2)"/>
<path d="M 432.00,812.60 Q 443.50,814.90 454.00,813.87 Q 456.00,812.15 453.50,809.70 Q 443.50,812.15 432.00,812.00 Z" fill="#0c0c0c" fill-opacity="0.85" filter="url(#bb2)"/>
<rect x="460.90" y="808.30" width="26.80" height="9.00" rx="4.50" fill="#0a0a0a" fill-opacity="1.00" filter="url(#bb2)"/>
<rect x="494.70" y="804.60" width="25.50" height="15.60" rx="7.80" fill="#080808" fill-opacity="1.00" filter="url(#bb2)"/>
<rect x="363.50" y="834.60" width="25.00" height="3.40" rx="1.70" fill="#1c1c1c" fill-opacity="0.72" filter="url(#bb2)"/>
<rect x="396.00" y="834.60" width="25.00" height="3.40" rx="1.70" fill="#1c1c1c" fill-opacity="0.72" filter="url(#bb2)"/>
<rect x="428.00" y="834.60" width="24.50" height="3.40" rx="1.70" fill="#1c1c1c" fill-opacity="0.72" filter="url(#bb2)"/>
<rect x="460.00" y="834.60" width="25.70" height="3.20" rx="1.60" fill="#1c1c1c" fill-opacity="0.72" filter="url(#bb2)"/>
<rect x="493.00" y="834.20" width="27.00" height="3.60" rx="1.80" fill="#1c1c1c" fill-opacity="0.72" filter="url(#bb2)"/>
<line x1="186.60" y1="762.30" x2="348.20" y2="762.30" stroke="#000" stroke-width="1.3" />
<line x1="360.80" y1="762.30" x2="522.40" y2="762.30" stroke="#000" stroke-width="1.3" />
<text x="269.00" y="759.60" font-size="12.0" text-anchor="middle" fill="#000" stroke="#000" stroke-width="0.22" >HGC-27 (200 nM)</text>
<text x="442.00" y="759.60" font-size="12.0" text-anchor="middle" fill="#000" stroke="#000" stroke-width="0.22" >AGS (100 nM)</text>
<text x="201.50" y="772.40" font-size="11.6" text-anchor="middle" fill="#000" stroke="#000" stroke-width="0.22" >0</text>
<text x="233.90" y="772.40" font-size="11.6" text-anchor="middle" fill="#000" stroke="#000" stroke-width="0.22" >3</text>
<text x="266.70" y="772.40" font-size="11.6" text-anchor="middle" fill="#000" stroke="#000" stroke-width="0.22" >6</text>
<text x="300.30" y="772.40" font-size="11.6" text-anchor="middle" fill="#000" stroke="#000" stroke-width="0.22" >12</text>
<text x="332.40" y="772.40" font-size="11.6" text-anchor="middle" fill="#000" stroke="#000" stroke-width="0.22" >24</text>
<text x="375.50" y="772.40" font-size="11.6" text-anchor="middle" fill="#000" stroke="#000" stroke-width="0.22" >0</text>
<text x="408.30" y="772.40" font-size="11.6" text-anchor="middle" fill="#000" stroke="#000" stroke-width="0.22" >3</text>
<text x="440.40" y="772.40" font-size="11.6" text-anchor="middle" fill="#000" stroke="#000" stroke-width="0.22" >6</text>
<text x="474.50" y="772.40" font-size="11.6" text-anchor="middle" fill="#000" stroke="#000" stroke-width="0.22" >12</text>
<text x="509.50" y="772.40" font-size="11.6" text-anchor="middle" fill="#000" stroke="#000" stroke-width="0.22" >24</text>
<text x="181.90" y="772.20" font-size="11.6" text-anchor="end" fill="#000" stroke="#000" stroke-width="0.22" >Time (h)</text>
<text x="180.50" y="790.30" font-size="11.6" text-anchor="end" fill="#000" stroke="#000" stroke-width="0.22" >P-CDK1</text>
<text x="179.50" y="814.80" font-size="11.6" text-anchor="end" fill="#000" stroke="#000" stroke-width="0.22" >P-histone h3</text>
<text x="179.50" y="840.00" font-size="11.6" text-anchor="end" fill="#000" stroke="#000" stroke-width="0.22" >Actin</text>
<text x="527.00" y="774.90" font-size="11.4" text-anchor="start" fill="#000" stroke="#000" stroke-width="0.22" >kDa</text>
<line x1="525.20" y1="785.30" x2="536.50" y2="785.30" stroke="#111" stroke-width="1.0" />
<text x="540.00" y="788.30" font-size="11.4" text-anchor="start" fill="#000" stroke="#000" stroke-width="0.22" >34</text>
<line x1="525.20" y1="811.10" x2="536.50" y2="811.10" stroke="#111" stroke-width="1.0" />
<text x="540.00" y="814.70" font-size="11.4" text-anchor="start" fill="#000" stroke="#000" stroke-width="0.22" >17</text>
<line x1="525.20" y1="834.40" x2="536.50" y2="834.40" stroke="#111" stroke-width="1.0" />
<text x="540.00" y="837.80" font-size="11.4" text-anchor="start" fill="#000" stroke="#000" stroke-width="0.22" >42</text>
</svg>
</body></html>
